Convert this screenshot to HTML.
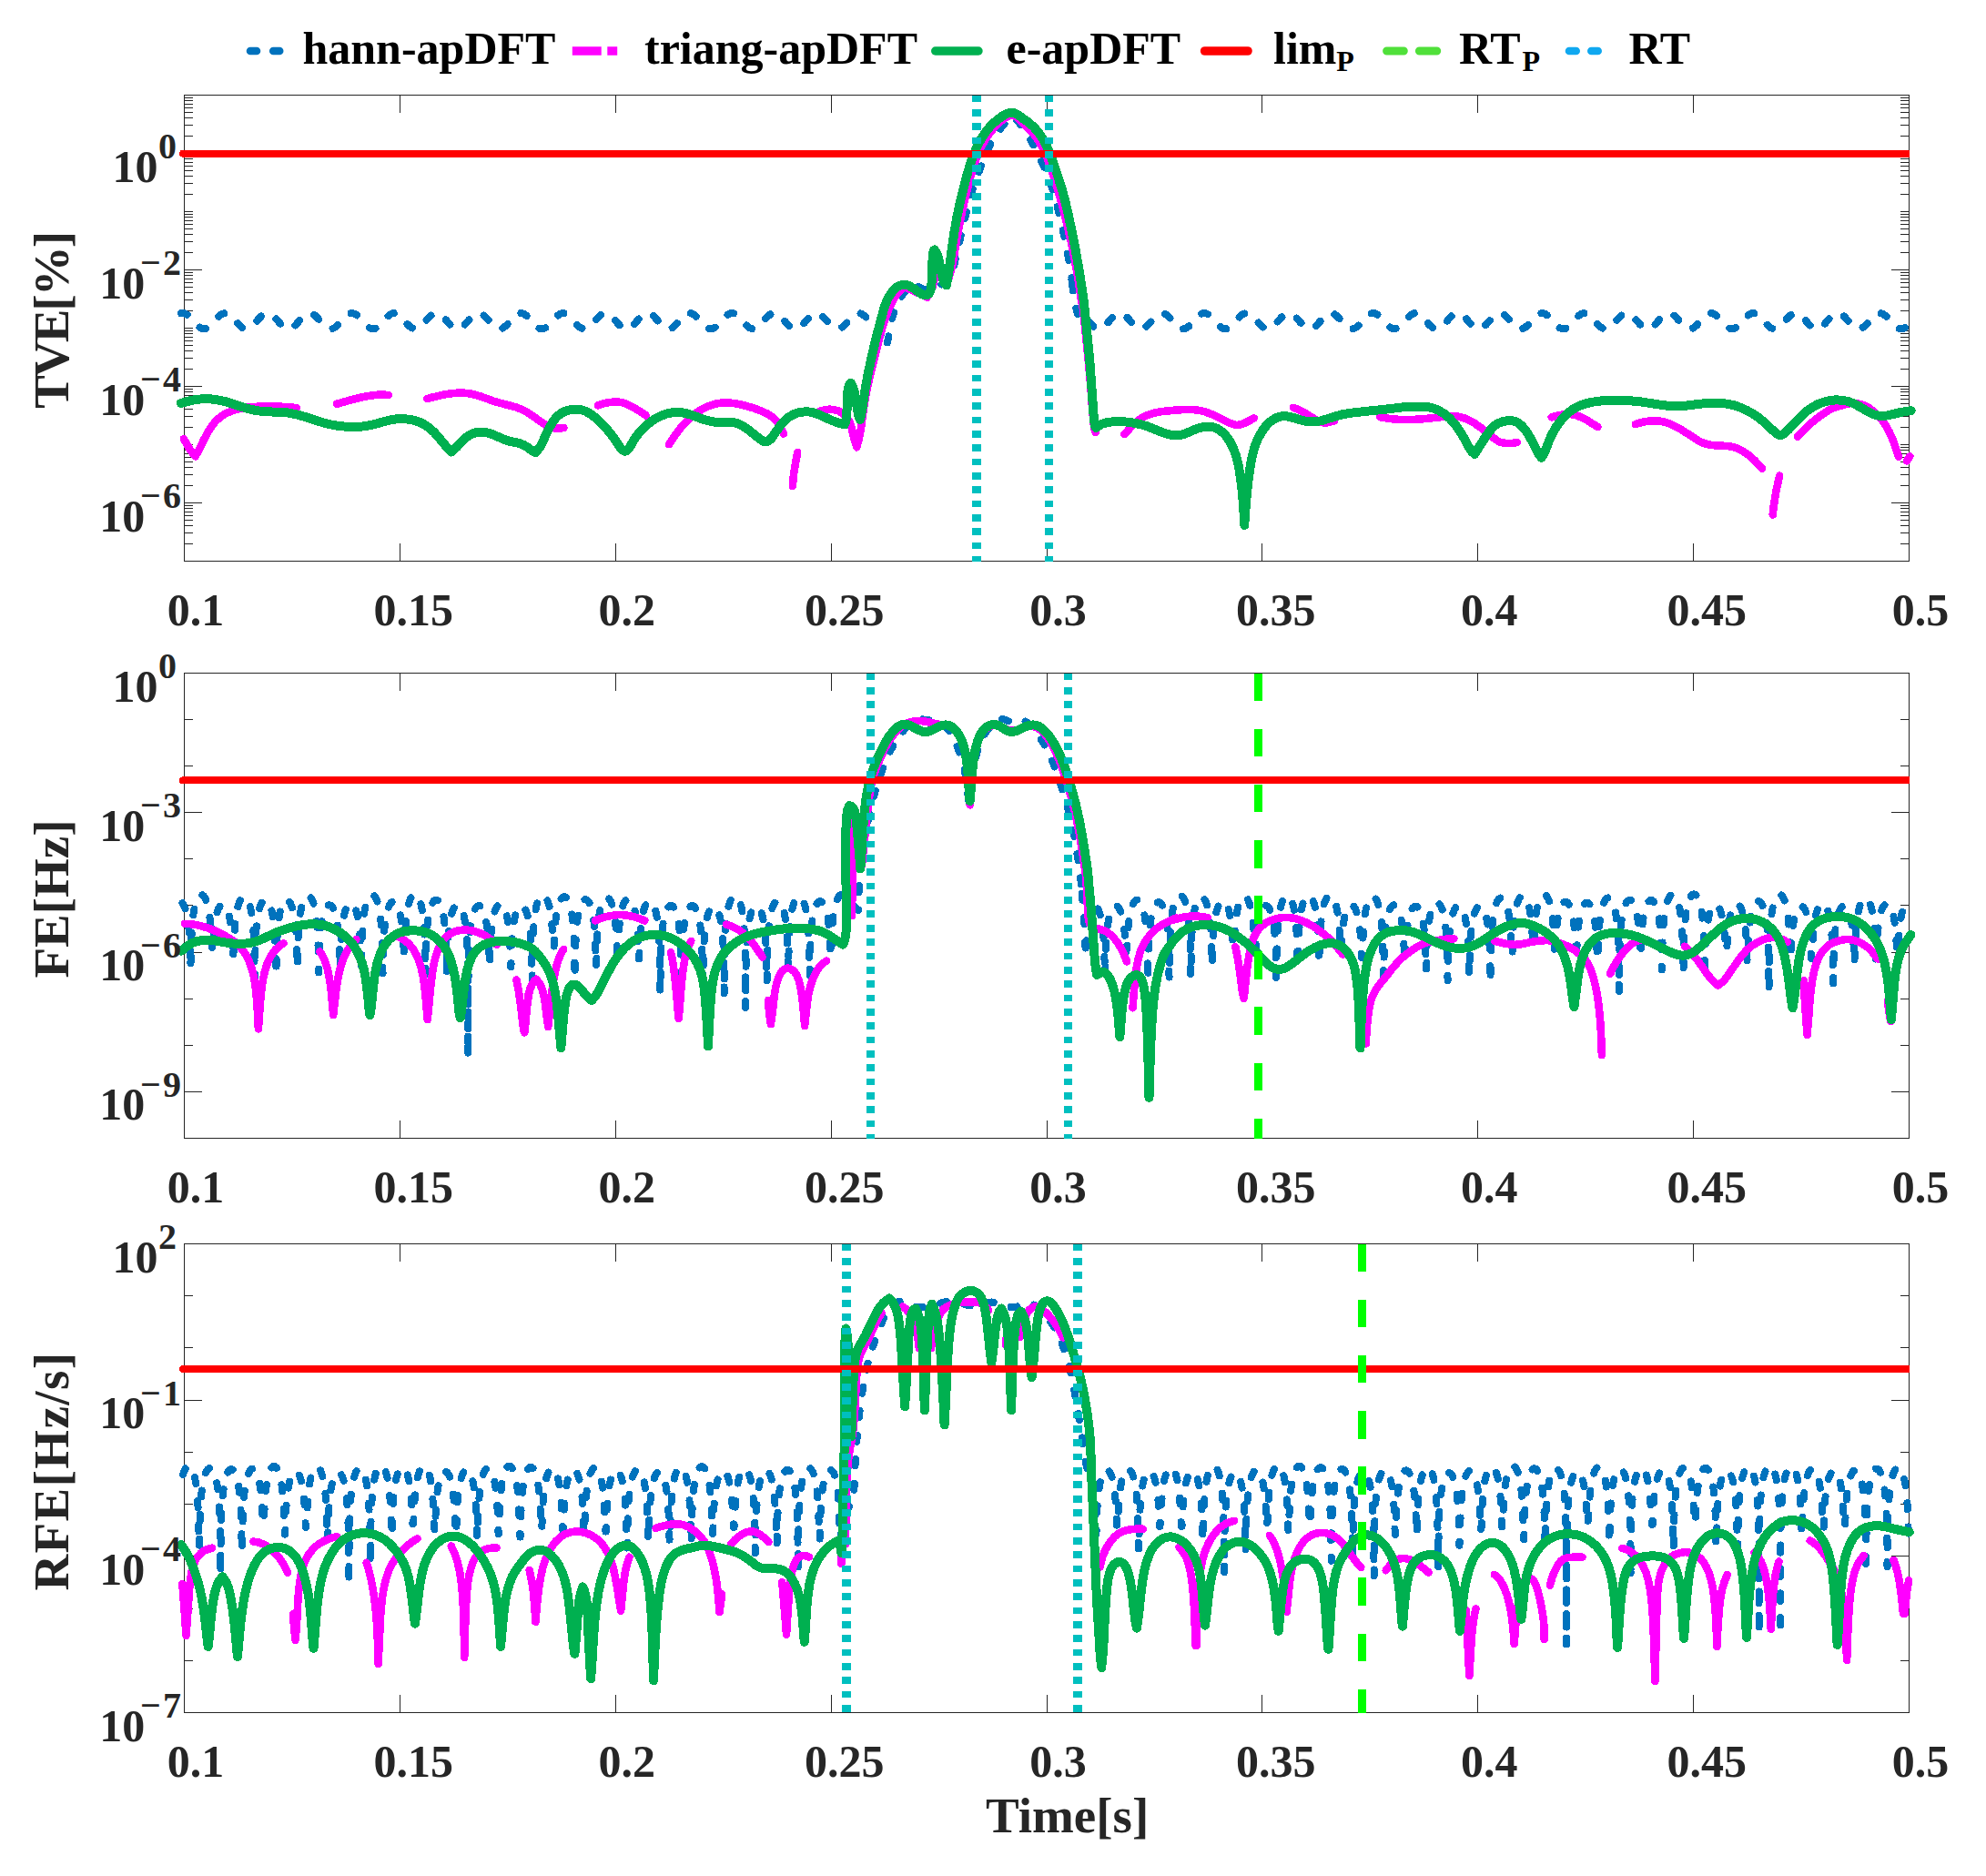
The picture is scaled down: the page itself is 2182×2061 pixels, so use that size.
<!DOCTYPE html><html lang="en"><head><meta charset="utf-8"><title>apDFT comparison</title><style>html,body{margin:0;padding:0;background:#fff}svg{display:block}</style></head><body><svg width="2182" height="2061" viewBox="0 0 2182 2061">
<rect width="2182" height="2061" fill="#fff"/>
<g shape-rendering="crispEdges">
<rect x="202.5" y="104.5" width="1895.0" height="512.0" fill="none" stroke="#262626" stroke-width="1"/>
<path d="M439.5 104.5v19.5M439.5 616.5v-19.5M676.5 104.5v19.5M676.5 616.5v-19.5M913.5 104.5v19.5M913.5 616.5v-19.5M1150.5 104.5v19.5M1150.5 616.5v-19.5M1386.5 104.5v19.5M1386.5 616.5v-19.5M1623.5 104.5v19.5M1623.5 616.5v-19.5M1860.5 104.5v19.5M1860.5 616.5v-19.5M202.5 597.5h9.5M2097.5 597.5h-9.5M202.5 585.5h9.5M2097.5 585.5h-9.5M202.5 577.5h9.5M2097.5 577.5h-9.5M202.5 571.5h9.5M2097.5 571.5h-9.5M202.5 566.5h9.5M2097.5 566.5h-9.5M202.5 562.5h9.5M2097.5 562.5h-9.5M202.5 558.5h9.5M2097.5 558.5h-9.5M202.5 555.5h9.5M2097.5 555.5h-9.5M202.5 552.5h19.5M2097.5 552.5h-19.5M202.5 533.5h9.5M2097.5 533.5h-9.5M202.5 521.5h9.5M2097.5 521.5h-9.5M202.5 513.5h9.5M2097.5 513.5h-9.5M202.5 507.5h9.5M2097.5 507.5h-9.5M202.5 502.5h9.5M2097.5 502.5h-9.5M202.5 498.5h9.5M2097.5 498.5h-9.5M202.5 494.5h9.5M2097.5 494.5h-9.5M202.5 491.5h9.5M2097.5 491.5h-9.5M202.5 488.5h9.5M2097.5 488.5h-9.5M202.5 469.5h9.5M2097.5 469.5h-9.5M202.5 457.5h9.5M2097.5 457.5h-9.5M202.5 449.5h9.5M2097.5 449.5h-9.5M202.5 443.5h9.5M2097.5 443.5h-9.5M202.5 438.5h9.5M2097.5 438.5h-9.5M202.5 434.5h9.5M2097.5 434.5h-9.5M202.5 430.5h9.5M2097.5 430.5h-9.5M202.5 427.5h9.5M2097.5 427.5h-9.5M202.5 424.5h19.5M2097.5 424.5h-19.5M202.5 405.5h9.5M2097.5 405.5h-9.5M202.5 393.5h9.5M2097.5 393.5h-9.5M202.5 385.5h9.5M2097.5 385.5h-9.5M202.5 379.5h9.5M2097.5 379.5h-9.5M202.5 374.5h9.5M2097.5 374.5h-9.5M202.5 370.5h9.5M2097.5 370.5h-9.5M202.5 366.5h9.5M2097.5 366.5h-9.5M202.5 363.5h9.5M2097.5 363.5h-9.5M202.5 360.5h9.5M2097.5 360.5h-9.5M202.5 341.5h9.5M2097.5 341.5h-9.5M202.5 329.5h9.5M2097.5 329.5h-9.5M202.5 321.5h9.5M2097.5 321.5h-9.5M202.5 315.5h9.5M2097.5 315.5h-9.5M202.5 310.5h9.5M2097.5 310.5h-9.5M202.5 306.5h9.5M2097.5 306.5h-9.5M202.5 302.5h9.5M2097.5 302.5h-9.5M202.5 299.5h9.5M2097.5 299.5h-9.5M202.5 296.5h19.5M2097.5 296.5h-19.5M202.5 277.5h9.5M2097.5 277.5h-9.5M202.5 265.5h9.5M2097.5 265.5h-9.5M202.5 257.5h9.5M2097.5 257.5h-9.5M202.5 251.5h9.5M2097.5 251.5h-9.5M202.5 246.5h9.5M2097.5 246.5h-9.5M202.5 242.5h9.5M2097.5 242.5h-9.5M202.5 238.5h9.5M2097.5 238.5h-9.5M202.5 235.5h9.5M2097.5 235.5h-9.5M202.5 232.5h9.5M2097.5 232.5h-9.5M202.5 213.5h9.5M2097.5 213.5h-9.5M202.5 201.5h9.5M2097.5 201.5h-9.5M202.5 193.5h9.5M2097.5 193.5h-9.5M202.5 187.5h9.5M2097.5 187.5h-9.5M202.5 182.5h9.5M2097.5 182.5h-9.5M202.5 178.5h9.5M2097.5 178.5h-9.5M202.5 174.5h9.5M2097.5 174.5h-9.5M202.5 171.5h9.5M2097.5 171.5h-9.5M202.5 168.5h19.5M2097.5 168.5h-19.5M202.5 149.5h9.5M2097.5 149.5h-9.5M202.5 137.5h9.5M2097.5 137.5h-9.5M202.5 129.5h9.5M2097.5 129.5h-9.5M202.5 123.5h9.5M2097.5 123.5h-9.5M202.5 118.5h9.5M2097.5 118.5h-9.5M202.5 114.5h9.5M2097.5 114.5h-9.5M202.5 110.5h9.5M2097.5 110.5h-9.5M202.5 107.5h9.5M2097.5 107.5h-9.5" stroke="#262626" stroke-width="1" fill="none"/>
<path d="M199.0 344.2Q202.0 344.0 203.5 344.6Q205.0 345.2 206.5 346.4Q208.0 347.6 209.5 349.2Q211.0 350.8 212.5 352.6Q214.0 354.4 215.5 356.0Q217.0 357.6 218.5 358.9Q220.0 360.1 221.5 360.8Q223.0 361.4 224.5 361.3Q226.0 361.2 227.5 360.4Q229.0 359.7 230.5 358.4Q232.0 357.0 233.5 355.4Q235.0 353.7 236.5 351.9Q238.0 350.1 239.5 348.6Q241.0 347.0 242.5 345.9Q244.0 344.8 245.5 344.4Q247.0 343.9 248.5 344.1Q250.0 344.4 251.5 345.4Q253.0 346.3 254.5 347.8Q256.0 349.2 257.5 350.9Q259.0 352.7 260.5 354.4Q262.0 356.2 263.5 357.6Q265.0 359.1 266.5 360.1Q268.0 361.0 269.5 361.2Q271.0 361.5 272.5 361.1Q274.0 360.6 275.5 359.5Q277.0 358.4 278.5 356.9Q280.0 355.3 281.5 353.5Q283.0 351.7 284.5 350.0Q286.0 348.4 287.5 347.0Q289.0 345.7 290.5 344.9Q292.0 344.2 293.5 344.1Q295.0 344.0 296.5 344.6Q298.0 345.3 299.5 346.6Q301.0 347.8 302.5 349.4Q304.0 351.0 305.5 352.8Q307.0 354.6 308.5 356.2Q310.0 357.8 311.5 359.0Q313.0 360.2 314.5 360.8Q316.0 361.4 317.5 361.3Q319.0 361.2 320.5 360.4Q322.0 359.6 323.5 358.2Q325.0 356.8 326.5 355.1Q328.0 353.4 329.5 351.6Q331.0 349.9 332.5 348.4Q334.0 346.8 335.5 345.8Q337.0 344.7 338.5 344.3Q340.0 343.9 341.5 344.2Q343.0 344.5 344.5 345.5Q346.0 346.5 347.5 347.9Q349.0 349.4 350.5 351.1Q352.0 352.9 353.5 354.6Q355.0 356.4 356.5 357.9Q358.0 359.3 359.5 360.1Q361.0 361.0 362.5 361.2Q364.0 361.5 365.5 361.0Q367.0 360.5 368.5 359.4Q370.0 358.2 371.5 356.6Q373.0 355.1 374.5 353.3Q376.0 351.5 377.5 349.9Q379.0 348.2 380.5 346.9Q382.0 345.6 383.5 344.9Q385.0 344.1 386.5 344.1Q388.0 344.1 389.5 344.8Q391.0 345.4 392.5 346.7Q394.0 348.0 395.5 349.6Q397.0 351.3 398.5 353.1Q400.0 354.8 401.5 356.4Q403.0 358.0 404.5 359.2Q406.0 360.4 407.5 360.9Q409.0 361.4 410.5 361.2Q412.0 361.1 413.5 360.2Q415.0 359.4 416.5 358.0Q418.0 356.6 419.5 354.9Q421.0 353.2 422.5 351.4Q424.0 349.7 425.5 348.1Q427.0 346.6 428.5 345.6Q430.0 344.6 431.5 344.2Q433.0 343.9 434.5 344.2Q436.0 344.6 437.5 345.6Q439.0 346.6 440.5 348.1Q442.0 349.7 443.5 351.4Q445.0 353.2 446.5 354.9Q448.0 356.6 449.5 358.0Q451.0 359.4 452.5 360.2Q454.0 361.1 455.5 361.2Q457.0 361.4 458.5 360.9Q460.0 360.4 461.5 359.2Q463.0 358.0 464.5 356.4Q466.0 354.8 467.5 353.1Q469.0 351.3 470.5 349.6Q472.0 348.0 473.5 346.7Q475.0 345.4 476.5 344.8Q478.0 344.1 479.5 344.1Q481.0 344.1 482.5 344.9Q484.0 345.6 485.5 346.9Q487.0 348.2 488.5 349.9Q490.0 351.5 491.5 353.3Q493.0 355.1 494.5 356.6Q496.0 358.2 497.5 359.4Q499.0 360.5 500.5 361.0Q502.0 361.5 503.5 361.2Q505.0 361.0 506.5 360.1Q508.0 359.3 509.5 357.9Q511.0 356.4 512.5 354.6Q514.0 352.9 515.5 351.1Q517.0 349.4 518.5 347.9Q520.0 346.5 521.5 345.5Q523.0 344.5 524.5 344.2Q526.0 343.9 527.5 344.3Q529.0 344.7 530.5 345.8Q532.0 346.8 533.5 348.4Q535.0 349.9 536.5 351.6Q538.0 353.4 539.5 355.1Q541.0 356.8 542.5 358.2Q544.0 359.6 545.5 360.4Q547.0 361.2 548.5 361.3Q550.0 361.4 551.5 360.8Q553.0 360.2 554.5 359.0Q556.0 357.8 557.5 356.2Q559.0 354.6 560.5 352.8Q562.0 351.0 563.5 349.4Q565.0 347.8 566.5 346.6Q568.0 345.3 569.5 344.6Q571.0 344.0 572.5 344.1Q574.0 344.2 575.5 344.9Q577.0 345.7 578.5 347.0Q580.0 348.4 581.5 350.0Q583.0 351.7 584.5 353.5Q586.0 355.3 587.5 356.9Q589.0 358.4 590.5 359.5Q592.0 360.6 593.5 361.1Q595.0 361.5 596.5 361.2Q598.0 361.0 599.5 360.1Q601.0 359.1 602.5 357.6Q604.0 356.2 605.5 354.4Q607.0 352.7 608.5 350.9Q610.0 349.2 611.5 347.8Q613.0 346.3 614.5 345.4Q616.0 344.4 617.5 344.1Q619.0 343.9 620.5 344.4Q622.0 344.8 623.5 345.9Q625.0 347.0 626.5 348.6Q628.0 350.1 629.5 351.9Q631.0 353.7 632.5 355.4Q634.0 357.0 635.5 358.4Q637.0 359.7 638.5 360.4Q640.0 361.2 641.5 361.3Q643.0 361.4 644.5 360.8Q646.0 360.1 647.5 358.9Q649.0 357.6 650.5 356.0Q652.0 354.4 653.5 352.6Q655.0 350.8 656.5 349.2Q658.0 347.6 659.5 346.4Q661.0 345.2 662.5 344.6Q664.0 344.0 665.5 344.1Q667.0 344.2 668.5 345.0Q670.0 345.8 671.5 347.2Q673.0 348.6 674.5 350.3Q676.0 352.0 677.5 353.8Q679.0 355.5 680.5 357.1Q682.0 358.6 683.5 359.6Q685.0 360.7 686.5 361.1Q688.0 361.5 689.5 361.2Q691.0 360.9 692.5 359.9Q694.0 358.9 695.5 357.4Q697.0 356.0 698.5 354.2Q700.0 352.5 701.5 350.8Q703.0 349.0 704.5 347.6Q706.0 346.1 707.5 345.2Q709.0 344.4 710.5 344.1Q712.0 343.9 713.5 344.4Q715.0 344.9 716.5 346.0Q718.0 347.2 719.5 348.8Q721.0 350.3 722.5 352.1Q724.0 353.9 725.5 355.5Q727.0 357.2 728.5 358.5Q730.0 359.8 731.5 360.6Q733.0 361.3 734.5 361.3Q736.0 361.3 737.5 360.6Q739.0 360.0 740.5 358.7Q742.0 357.4 743.5 355.8Q745.0 354.1 746.5 352.4Q748.0 350.6 749.5 349.0Q751.0 347.4 752.5 346.2Q754.0 345.0 755.5 344.5Q757.0 344.0 758.5 344.1Q760.0 344.3 761.5 345.1Q763.0 346.0 764.5 347.4Q766.0 348.8 767.5 350.5Q769.0 352.2 770.5 353.9Q772.0 355.7 773.5 357.2Q775.0 358.8 776.5 359.8Q778.0 360.8 779.5 361.1Q781.0 361.5 782.5 361.1Q784.0 360.8 785.5 359.8Q787.0 358.8 788.5 357.2Q790.0 355.7 791.5 353.9Q793.0 352.2 794.5 350.5Q796.0 348.8 797.5 347.4Q799.0 346.0 800.5 345.1Q802.0 344.3 803.5 344.1Q805.0 344.0 806.5 344.5Q808.0 345.0 809.5 346.2Q811.0 347.4 812.5 349.0Q814.0 350.6 815.5 352.4Q817.0 354.1 818.5 355.8Q820.0 357.4 821.5 358.7Q823.0 360.0 824.5 360.6Q826.0 361.3 827.5 361.3Q829.0 361.3 830.5 360.6Q832.0 359.8 833.5 358.5Q835.0 357.2 836.5 355.5Q838.0 353.9 839.5 352.1Q841.0 350.3 842.5 348.8Q844.0 347.2 845.5 346.0Q847.0 344.9 848.5 344.4Q850.0 343.9 851.5 344.1Q853.0 344.4 854.5 345.2Q856.0 346.1 857.5 347.6Q859.0 349.0 860.5 350.8Q862.0 352.5 863.5 354.2Q865.0 356.0 866.5 357.4Q868.0 358.9 869.5 359.9Q871.0 360.9 872.5 361.2Q874.0 361.5 875.5 361.1Q877.0 360.7 878.5 359.6Q880.0 358.6 881.5 357.1Q883.0 355.5 884.5 353.8Q886.0 352.0 887.5 350.3Q889.0 348.6 890.5 347.2Q892.0 345.8 893.5 345.0Q895.0 344.2 896.5 344.1Q898.0 344.0 899.5 344.6Q901.0 345.2 902.5 346.4Q904.0 347.6 905.5 349.2Q907.0 350.8 908.5 352.6Q910.0 354.4 911.5 356.0Q913.0 357.6 914.5 358.9Q916.0 360.1 917.5 360.8Q919.0 361.4 920.5 361.3Q922.0 361.2 923.5 360.4Q925.0 359.7 926.5 358.4Q928.0 357.0 929.5 355.4Q931.0 353.7 932.5 351.9Q934.0 350.1 935.5 348.6Q937.0 347.0 938.5 345.9Q940.0 344.8 941.5 344.4Q943.0 343.9 944.5 344.1Q946.0 344.4 947.5 345.4Q949.0 346.3 950.5 347.8Q952.0 349.2 955.8 349.8Q959.5 350.4 963.2 356.6Q967.0 362.9 970.1 371.8L973.3 380.6Q975.8 375.5 977.0 364.8Q978.3 354.1 982.1 343.4Q985.9 332.7 990.3 325.8Q994.7 318.9 999.8 315.1L1004.8 311.3Q1014.6 320.6 1022.7 317.6Q1030.7 314.5 1037.8 310.5Q1044.8 306.5 1047.8 293.4Q1050.8 280.3 1053.8 267.2Q1056.9 254.1 1059.9 241.0Q1062.9 227.9 1066.0 216.9Q1069.0 205.8 1074.0 192.7Q1079.0 179.6 1084.0 167.5Q1089.1 155.4 1095.2 146.9Q1101.2 138.3 1106.8 132.8L1112.3 127.2Q1123.4 138.3 1127.4 144.9Q1131.4 151.4 1137.5 163.5Q1143.5 175.6 1148.0 185.6Q1152.6 195.7 1156.6 208.8Q1160.6 221.9 1163.7 235.0Q1166.7 248.1 1169.2 260.1Q1171.7 272.2 1174.2 285.3Q1176.7 298.4 1178.2 310.5L1179.7 322.6L1176.4 300.0Q1179.6 325.2 1181.8 336.5Q1183.9 347.8 1188.3 352.2L1192.7 356.6L1196.0 353.3Q1199.0 356.7 1200.5 358.1Q1202.0 359.5 1203.5 360.3Q1205.0 361.1 1206.5 361.2Q1208.0 361.4 1209.5 360.9Q1211.0 360.3 1212.5 359.1Q1214.0 357.9 1215.5 356.3Q1217.0 354.7 1218.5 352.9Q1220.0 351.2 1221.5 349.5Q1223.0 347.9 1224.5 346.6Q1226.0 345.4 1227.5 344.7Q1229.0 344.0 1230.5 344.1Q1232.0 344.1 1233.5 344.9Q1235.0 345.6 1236.5 347.0Q1238.0 348.3 1239.5 350.0Q1241.0 351.6 1242.5 353.4Q1244.0 355.2 1245.5 356.8Q1247.0 358.3 1248.5 359.4Q1250.0 360.5 1251.5 361.0Q1253.0 361.5 1254.5 361.2Q1256.0 361.0 1257.5 360.1Q1259.0 359.2 1260.5 357.8Q1262.0 356.3 1263.5 354.6Q1265.0 352.8 1266.5 351.1Q1268.0 349.3 1269.5 347.9Q1271.0 346.4 1272.5 345.4Q1274.0 344.5 1275.5 344.2Q1277.0 343.9 1278.5 344.4Q1280.0 344.8 1281.5 345.9Q1283.0 346.9 1284.5 348.4Q1286.0 350.0 1287.5 351.8Q1289.0 353.5 1290.5 355.2Q1292.0 356.9 1293.5 358.2Q1295.0 359.6 1296.5 360.4Q1298.0 361.2 1299.5 361.3Q1301.0 361.4 1302.5 360.8Q1304.0 360.2 1305.5 358.9Q1307.0 357.7 1308.5 356.1Q1310.0 354.5 1311.5 352.7Q1313.0 350.9 1314.5 349.3Q1316.0 347.7 1317.5 346.4Q1319.0 345.2 1320.5 344.6Q1322.0 344.0 1323.5 344.1Q1325.0 344.2 1326.5 345.0Q1328.0 345.8 1329.5 347.1Q1331.0 348.5 1332.5 350.2Q1334.0 351.9 1335.5 353.6Q1337.0 355.4 1338.5 356.9Q1340.0 358.5 1341.5 359.6Q1343.0 360.6 1344.5 361.1Q1346.0 361.5 1347.5 361.2Q1349.0 360.9 1350.5 359.9Q1352.0 359.0 1353.5 357.6Q1355.0 356.1 1356.5 354.4Q1358.0 352.6 1359.5 350.9Q1361.0 349.1 1362.5 347.6Q1364.0 346.2 1365.5 345.3Q1367.0 344.4 1368.5 344.1Q1370.0 343.9 1371.5 344.4Q1373.0 344.9 1374.5 346.0Q1376.0 347.1 1377.5 348.6Q1379.0 350.2 1380.5 352.0Q1382.0 353.8 1383.5 355.5Q1385.0 357.1 1386.5 358.5Q1388.0 359.8 1389.5 360.6Q1391.0 361.3 1392.5 361.4Q1394.0 361.4 1395.5 360.7Q1397.0 360.0 1398.5 358.8Q1400.0 357.5 1401.5 355.9Q1403.0 354.2 1404.5 352.4Q1406.0 350.7 1407.5 349.1Q1409.0 347.5 1410.5 346.3Q1412.0 345.1 1413.5 344.6Q1415.0 344.0 1416.5 344.1Q1418.0 344.3 1419.5 345.1Q1421.0 345.9 1422.5 347.3Q1424.0 348.7 1425.5 350.4Q1427.0 352.1 1428.5 353.9Q1430.0 355.6 1431.5 357.1Q1433.0 358.7 1434.5 359.7Q1436.0 360.7 1437.5 361.1Q1439.0 361.5 1440.5 361.1Q1442.0 360.8 1443.5 359.8Q1445.0 358.8 1446.5 357.3Q1448.0 355.8 1449.5 354.1Q1451.0 352.3 1452.5 350.6Q1454.0 348.9 1455.5 347.5Q1457.0 346.1 1458.5 345.2Q1460.0 344.3 1461.5 344.1Q1463.0 343.9 1464.5 344.4Q1466.0 345.0 1467.5 346.1Q1469.0 347.3 1470.5 348.9Q1472.0 350.5 1473.5 352.2Q1475.0 354.0 1476.5 355.6Q1478.0 357.3 1479.5 358.6Q1481.0 359.9 1482.5 360.6Q1484.0 361.3 1485.5 361.3Q1487.0 361.3 1488.5 360.6Q1490.0 359.9 1491.5 358.6Q1493.0 357.3 1494.5 355.6Q1496.0 354.0 1497.5 352.2Q1499.0 350.5 1500.5 348.9Q1502.0 347.3 1503.5 346.1Q1505.0 345.0 1506.5 344.4Q1508.0 343.9 1509.5 344.1Q1511.0 344.3 1512.5 345.2Q1514.0 346.1 1515.5 347.5Q1517.0 348.9 1518.5 350.6Q1520.0 352.3 1521.5 354.1Q1523.0 355.8 1524.5 357.3Q1526.0 358.8 1527.5 359.8Q1529.0 360.8 1530.5 361.1Q1532.0 361.5 1533.5 361.1Q1535.0 360.7 1536.5 359.7Q1538.0 358.7 1539.5 357.1Q1541.0 355.6 1542.5 353.9Q1544.0 352.1 1545.5 350.4Q1547.0 348.7 1548.5 347.3Q1550.0 345.9 1551.5 345.1Q1553.0 344.3 1554.5 344.1Q1556.0 344.0 1557.5 344.6Q1559.0 345.1 1560.5 346.3Q1562.0 347.5 1563.5 349.1Q1565.0 350.7 1566.5 352.4Q1568.0 354.2 1569.5 355.9Q1571.0 357.5 1572.5 358.8Q1574.0 360.0 1575.5 360.7Q1577.0 361.4 1578.5 361.4Q1580.0 361.3 1581.5 360.6Q1583.0 359.8 1584.5 358.5Q1586.0 357.1 1587.5 355.5Q1589.0 353.8 1590.5 352.0Q1592.0 350.2 1593.5 348.6Q1595.0 347.1 1596.5 346.0Q1598.0 344.9 1599.5 344.4Q1601.0 343.9 1602.5 344.1Q1604.0 344.4 1605.5 345.3Q1607.0 346.2 1608.5 347.6Q1610.0 349.1 1611.5 350.9Q1613.0 352.6 1614.5 354.4Q1616.0 356.1 1617.5 357.6Q1619.0 359.0 1620.5 359.9Q1622.0 360.9 1623.5 361.2Q1625.0 361.5 1626.5 361.1Q1628.0 360.6 1629.5 359.6Q1631.0 358.5 1632.5 356.9Q1634.0 355.4 1635.5 353.6Q1637.0 351.9 1638.5 350.2Q1640.0 348.5 1641.5 347.1Q1643.0 345.8 1644.5 345.0Q1646.0 344.2 1647.5 344.1Q1649.0 344.0 1650.5 344.6Q1652.0 345.2 1653.5 346.4Q1655.0 347.7 1656.5 349.3Q1658.0 350.9 1659.5 352.7Q1661.0 354.5 1662.5 356.1Q1664.0 357.7 1665.5 358.9Q1667.0 360.2 1668.5 360.8Q1670.0 361.4 1671.5 361.3Q1673.0 361.2 1674.5 360.4Q1676.0 359.6 1677.5 358.2Q1679.0 356.9 1680.5 355.2Q1682.0 353.5 1683.5 351.8Q1685.0 350.0 1686.5 348.4Q1688.0 346.9 1689.5 345.9Q1691.0 344.8 1692.5 344.4Q1694.0 343.9 1695.5 344.2Q1697.0 344.5 1698.5 345.4Q1700.0 346.4 1701.5 347.9Q1703.0 349.3 1704.5 351.1Q1706.0 352.8 1707.5 354.6Q1709.0 356.3 1710.5 357.8Q1712.0 359.2 1713.5 360.1Q1715.0 361.0 1716.5 361.2Q1718.0 361.5 1719.5 361.0Q1721.0 360.5 1722.5 359.4Q1724.0 358.3 1725.5 356.8Q1727.0 355.2 1728.5 353.4Q1730.0 351.6 1731.5 350.0Q1733.0 348.3 1734.5 347.0Q1736.0 345.6 1737.5 344.9Q1739.0 344.1 1740.5 344.1Q1742.0 344.0 1743.5 344.7Q1745.0 345.4 1746.5 346.6Q1748.0 347.9 1749.5 349.5Q1751.0 351.2 1752.5 352.9Q1754.0 354.7 1755.5 356.3Q1757.0 357.9 1758.5 359.1Q1760.0 360.3 1761.5 360.9Q1763.0 361.4 1764.5 361.2Q1766.0 361.1 1767.5 360.3Q1769.0 359.5 1770.5 358.1Q1772.0 356.7 1773.5 355.0Q1775.0 353.3 1776.5 351.6Q1778.0 349.8 1779.5 348.2Q1781.0 346.7 1782.5 345.7Q1784.0 344.7 1785.5 344.3Q1787.0 343.9 1788.5 344.2Q1790.0 344.6 1791.5 345.6Q1793.0 346.6 1794.5 348.1Q1796.0 349.6 1797.5 351.4Q1799.0 353.1 1800.5 354.8Q1802.0 356.5 1803.5 357.9Q1805.0 359.3 1806.5 360.2Q1808.0 361.1 1809.5 361.3Q1811.0 361.5 1812.5 360.9Q1814.0 360.4 1815.5 359.2Q1817.0 358.1 1818.5 356.5Q1820.0 354.9 1821.5 353.1Q1823.0 351.4 1824.5 349.8Q1826.0 348.1 1827.5 346.8Q1829.0 345.5 1830.5 344.8Q1832.0 344.1 1833.5 344.1Q1835.0 344.1 1836.5 344.8Q1838.0 345.5 1839.5 346.8Q1841.0 348.1 1842.5 349.8Q1844.0 351.4 1845.5 353.1Q1847.0 354.9 1848.5 356.5Q1850.0 358.1 1851.5 359.2Q1853.0 360.4 1854.5 360.9Q1856.0 361.5 1857.5 361.3Q1859.0 361.1 1860.5 360.2Q1862.0 359.3 1863.5 357.9Q1865.0 356.5 1866.5 354.8Q1868.0 353.1 1869.5 351.4Q1871.0 349.6 1872.5 348.1Q1874.0 346.6 1875.5 345.6Q1877.0 344.6 1878.5 344.2Q1880.0 343.9 1881.5 344.3Q1883.0 344.7 1884.5 345.7Q1886.0 346.7 1887.5 348.2Q1889.0 349.8 1890.5 351.6Q1892.0 353.3 1893.5 355.0Q1895.0 356.7 1896.5 358.1Q1898.0 359.5 1899.5 360.3Q1901.0 361.1 1902.5 361.2Q1904.0 361.4 1905.5 360.9Q1907.0 360.3 1908.5 359.1Q1910.0 357.9 1911.5 356.3Q1913.0 354.7 1914.5 352.9Q1916.0 351.2 1917.5 349.5Q1919.0 347.9 1920.5 346.6Q1922.0 345.4 1923.5 344.7Q1925.0 344.0 1926.5 344.1Q1928.0 344.1 1929.5 344.9Q1931.0 345.6 1932.5 347.0Q1934.0 348.3 1935.5 350.0Q1937.0 351.6 1938.5 353.4Q1940.0 355.2 1941.5 356.8Q1943.0 358.3 1944.5 359.4Q1946.0 360.5 1947.5 361.0Q1949.0 361.5 1950.5 361.2Q1952.0 361.0 1953.5 360.1Q1955.0 359.2 1956.5 357.8Q1958.0 356.3 1959.5 354.6Q1961.0 352.8 1962.5 351.1Q1964.0 349.3 1965.5 347.9Q1967.0 346.4 1968.5 345.4Q1970.0 344.5 1971.5 344.2Q1973.0 343.9 1974.5 344.4Q1976.0 344.8 1977.5 345.9Q1979.0 346.9 1980.5 348.4Q1982.0 350.0 1983.5 351.8Q1985.0 353.5 1986.5 355.2Q1988.0 356.9 1989.5 358.2Q1991.0 359.6 1992.5 360.4Q1994.0 361.2 1995.5 361.3Q1997.0 361.4 1998.5 360.8Q2000.0 360.2 2001.5 358.9Q2003.0 357.7 2004.5 356.1Q2006.0 354.5 2007.5 352.7Q2009.0 350.9 2010.5 349.3Q2012.0 347.7 2013.5 346.4Q2015.0 345.2 2016.5 344.6Q2018.0 344.0 2019.5 344.1Q2021.0 344.2 2022.5 345.0Q2024.0 345.8 2025.5 347.1Q2027.0 348.5 2028.5 350.2Q2030.0 351.9 2031.5 353.6Q2033.0 355.4 2034.5 356.9Q2036.0 358.5 2037.5 359.6Q2039.0 360.6 2040.5 361.1Q2042.0 361.5 2043.5 361.2Q2045.0 360.9 2046.5 359.9Q2048.0 359.0 2049.5 357.6Q2051.0 356.1 2052.5 354.4Q2054.0 352.6 2055.5 350.9Q2057.0 349.1 2058.5 347.6Q2060.0 346.2 2061.5 345.3Q2063.0 344.4 2064.5 344.1Q2066.0 343.9 2067.5 344.4Q2069.0 344.9 2070.5 346.0Q2072.0 347.1 2073.5 348.6Q2075.0 350.2 2076.5 352.0Q2078.0 353.8 2079.5 355.5Q2081.0 357.1 2082.5 358.5Q2084.0 359.8 2085.5 360.6Q2087.0 361.3 2088.5 361.4Q2090.0 361.4 2091.5 360.7Q2093.0 360.0 2096.0 357.5L2096.0 357.5" fill="none" stroke="#0072BD" stroke-width="8" stroke-linecap="round" stroke-linejoin="round" stroke-dasharray="7 19.5"/>
<path d="M201.9 482.1Q207.6 492.6 211.1 497.0L214.7 501.4Q220.2 491.3 224.0 483.1Q227.8 475.0 232.2 468.7Q236.6 462.4 242.2 458.0Q247.9 453.6 255.4 451.1Q263.0 448.5 270.6 447.6Q278.1 446.8 286.9 446.6Q295.7 446.5 304.5 446.6Q313.4 446.8 325.9 448.1L325.9 448.1" fill="none" stroke="#FF00FF" stroke-width="8.6" stroke-linecap="round" stroke-linejoin="round"/>
<path d="M369.9 443.8Q381.3 440.5 388.9 438.5Q396.4 436.5 404.0 435.2Q411.6 433.9 416.6 433.6Q421.6 433.4 426.6 434.1L426.6 434.1" fill="none" stroke="#FF00FF" stroke-width="8.6" stroke-linecap="round" stroke-linejoin="round"/>
<path d="M469.4 438.0Q479.5 435.4 485.8 434.0Q492.1 432.7 498.4 432.0Q504.7 431.4 511.0 431.8Q517.3 432.2 523.6 434.1Q529.9 436.0 536.2 438.5Q542.5 441.0 548.8 442.6Q555.1 444.3 561.4 445.8Q567.6 447.3 573.9 450.2Q580.2 453.1 586.5 457.8Q592.8 462.4 597.8 465.8Q602.9 469.2 608.0 470.2Q613.0 471.2 619.3 469.9L619.3 469.9" fill="none" stroke="#FF00FF" stroke-width="8.6" stroke-linecap="round" stroke-linejoin="round"/>
<path d="M656.8 445.3Q663.3 443.0 668.3 442.2Q673.4 441.5 678.5 441.6Q683.5 441.7 686.8 443.2Q690.1 444.8 695.1 447.3Q700.1 449.8 709.6 456.4L709.6 456.4" fill="none" stroke="#FF00FF" stroke-width="8.6" stroke-linecap="round" stroke-linejoin="round"/>
<path d="M735.0 488.1Q742.9 476.2 748.0 469.9Q753.0 463.6 759.3 458.0Q765.6 452.3 773.2 448.6Q780.7 444.8 787.0 443.5Q793.3 442.2 799.6 442.4Q805.9 442.7 813.5 444.4Q821.0 446.0 828.5 448.6Q836.1 451.1 842.4 454.2Q848.7 457.4 852.5 461.8Q856.2 466.2 860.9 476.5L860.9 476.5" fill="none" stroke="#FF00FF" stroke-width="8.6" stroke-linecap="round" stroke-linejoin="round"/>
<path d="M870.9 534.1Q871.8 521.6 873.1 514.0Q874.4 506.4 876.2 497.1L876.2 497.1" fill="none" stroke="#FF00FF" stroke-width="8.6" stroke-linecap="round" stroke-linejoin="round"/>
<path d="M897.2 454.0Q901.6 451.1 906.6 450.2Q911.6 449.3 916.7 450.2Q921.7 451.1 924.9 453.6Q928.0 456.1 931.1 459.9Q934.3 463.6 936.2 472.5Q938.1 481.3 939.7 486.3L941.3 491.3Q944.4 481.3 945.6 472.5Q946.9 463.6 948.8 449.8Q950.6 436.0 953.8 422.1Q956.9 408.3 960.7 393.1Q964.5 378.0 968.2 364.2Q972.0 350.4 976.5 339.7Q980.9 329.0 985.3 323.3Q989.7 317.6 993.5 315.7L997.2 313.8L996.5 316.6Q1006.5 320.6 1012.5 323.6L1018.6 326.6Q1026.7 316.6 1027.2 299.5L1027.7 282.3Q1034.7 296.4 1037.2 304.9L1039.8 313.5Q1045.8 296.4 1048.0 282.3Q1050.2 268.2 1052.8 254.1Q1055.3 240.0 1058.3 226.9Q1061.3 213.8 1064.3 201.8Q1067.4 189.7 1070.4 180.6Q1073.4 171.5 1076.4 164.9Q1079.4 158.4 1083.5 152.1Q1087.5 145.8 1091.3 141.4Q1095.2 136.9 1099.4 133.4Q1103.6 130.0 1107.9 127.6Q1112.3 125.2 1116.1 128.2Q1119.9 131.3 1124.1 135.3Q1128.2 139.3 1132.1 143.4Q1136.0 147.4 1139.0 151.9Q1142.1 156.4 1144.9 161.4Q1147.7 166.5 1150.8 174.6Q1153.8 182.6 1156.8 191.6Q1159.8 200.7 1162.8 210.8Q1165.9 220.9 1168.7 231.9Q1171.5 243.0 1174.3 254.8Q1177.1 266.6 1179.2 277.5Q1181.4 288.4 1183.4 300.4Q1185.4 312.5 1186.9 322.6Q1188.4 332.7 1189.2 335.2Q1190.0 337.8 1191.8 356.6Q1193.7 375.5 1195.6 394.4Q1197.5 413.3 1198.9 432.2Q1200.3 451.1 1201.3 462.4Q1202.3 473.7 1203.8 475.0L1203.8 475.0" fill="none" stroke="#FF00FF" stroke-width="8.6" stroke-linecap="round" stroke-linejoin="round"/>
<path d="M1235.5 477.1Q1240.6 471.2 1245.6 466.1Q1250.6 461.1 1255.7 458.4Q1260.7 455.6 1267.0 454.0Q1273.3 452.3 1282.1 451.5Q1290.9 450.6 1298.5 450.2Q1306.0 449.8 1312.3 450.2Q1318.6 450.6 1324.9 452.7Q1331.2 454.8 1337.5 458.0Q1343.8 461.1 1348.8 463.6Q1353.9 466.2 1357.7 466.8Q1361.4 467.4 1366.5 465.2Q1371.5 463.1 1377.7 459.4L1377.7 459.4" fill="none" stroke="#FF00FF" stroke-width="8.6" stroke-linecap="round" stroke-linejoin="round"/>
<path d="M1420.9 447.9Q1426.9 449.8 1431.9 452.7Q1436.9 455.6 1442.0 459.0Q1447.0 462.4 1450.8 463.6Q1454.6 464.9 1458.3 464.2Q1462.1 463.6 1466.1 462.3L1466.1 462.3" fill="none" stroke="#FF00FF" stroke-width="8.6" stroke-linecap="round" stroke-linejoin="round"/>
<path d="M1516.2 458.1Q1525.1 459.9 1531.3 460.5Q1537.6 461.1 1545.2 461.1Q1552.7 461.1 1560.3 460.5Q1567.9 459.9 1575.5 459.0Q1583.0 458.1 1589.2 457.4Q1595.5 456.6 1601.8 457.6Q1608.1 458.6 1614.4 461.8Q1620.7 464.9 1627.0 469.9Q1633.3 475.0 1639.6 480.0Q1645.9 485.0 1648.1 485.6Q1650.2 486.3 1655.2 487.0Q1660.3 487.6 1666.7 485.9L1666.7 485.9" fill="none" stroke="#FF00FF" stroke-width="8.6" stroke-linecap="round" stroke-linejoin="round"/>
<path d="M1704.7 458.3Q1710.6 456.6 1715.7 455.7Q1720.7 454.8 1725.8 455.2Q1730.8 455.6 1735.8 457.8Q1740.8 459.9 1745.8 463.0Q1750.9 466.2 1755.3 469.1L1755.3 469.1" fill="none" stroke="#FF00FF" stroke-width="8.6" stroke-linecap="round" stroke-linejoin="round"/>
<path d="M1796.8 466.1Q1803.8 463.6 1810.1 462.8Q1816.4 461.9 1822.7 462.5Q1829.0 463.1 1835.3 465.9Q1841.6 468.7 1847.8 472.4Q1854.1 476.2 1860.4 480.6Q1866.7 485.0 1871.8 486.9Q1876.8 488.8 1883.1 489.2Q1889.4 489.6 1895.7 489.9Q1902.0 490.1 1907.0 492.0Q1912.0 493.9 1917.0 497.0Q1922.1 500.2 1927.2 505.2Q1932.2 510.2 1936.1 514.9L1936.1 514.9" fill="none" stroke="#FF00FF" stroke-width="8.6" stroke-linecap="round" stroke-linejoin="round"/>
<path d="M1947.7 565.6Q1948.5 556.8 1950.2 546.8Q1951.8 536.7 1955.2 522.7L1955.2 522.7" fill="none" stroke="#FF00FF" stroke-width="8.6" stroke-linecap="round" stroke-linejoin="round"/>
<path d="M1975.0 479.7Q1982.5 471.2 1987.5 466.8Q1992.6 462.4 1997.7 458.6Q2002.7 454.8 2007.7 451.6Q2012.7 448.5 2017.8 447.0Q2022.8 445.5 2029.1 443.9Q2035.4 442.2 2041.7 443.5Q2048.0 444.8 2053.1 448.0Q2058.1 451.1 2063.1 456.1Q2068.1 461.1 2071.9 467.4Q2075.7 473.7 2078.8 481.2Q2082.0 488.8 2085.9 501.6L2085.9 501.6" fill="none" stroke="#FF00FF" stroke-width="8.6" stroke-linecap="round" stroke-linejoin="round"/>
<path d="M2095.1 506.4 L2098.3 501.4" fill="none" stroke="#FF00FF" stroke-width="8.6" stroke-linecap="round" stroke-linejoin="round"/>
<path d="M198.8 443.0Q210.1 439.7 216.4 438.9Q222.7 438.0 229.0 438.2Q235.3 438.5 241.6 439.8Q247.9 441.0 254.2 443.2Q260.5 445.5 266.8 447.4Q273.1 449.3 279.4 450.6Q285.7 451.8 292.0 452.2Q298.3 452.6 304.6 452.6Q310.8 452.6 317.1 453.6Q323.4 454.6 329.7 456.4Q336.0 458.1 342.3 460.2Q348.6 462.4 354.9 464.3Q361.2 466.2 367.5 467.2Q373.8 468.2 380.1 468.7Q386.4 469.2 392.7 468.9Q399.0 468.7 405.3 467.4Q411.6 466.2 417.9 464.3Q424.1 462.4 430.4 461.1Q436.7 459.9 443.0 460.1Q449.3 460.4 455.6 462.0Q461.9 463.6 466.9 466.8Q472.0 469.9 477.0 474.9Q482.0 480.0 485.8 485.1Q489.6 490.1 492.8 493.2L495.9 496.4Q502.2 491.3 505.9 486.9Q509.7 482.5 513.5 479.6Q517.3 476.7 522.3 475.4Q527.4 474.2 532.4 474.9Q537.4 475.5 542.5 477.8Q547.5 480.0 552.5 482.2Q557.6 484.5 562.6 485.4Q567.6 486.3 571.4 487.3Q575.2 488.3 579.0 491.1Q582.7 493.9 585.5 495.5L588.3 497.1Q594.1 491.3 597.0 483.9Q600.0 476.4 602.5 471.9Q605.0 467.3 607.5 463.3Q610.1 459.3 613.6 456.2Q617.1 453.2 621.2 451.7Q625.2 450.2 629.7 449.7Q634.2 449.2 638.8 450.2Q643.3 451.2 647.8 454.2Q652.4 457.3 656.4 460.8Q660.4 464.3 664.5 468.9Q668.5 473.4 672.0 477.9Q675.5 482.4 678.0 486.4Q680.6 490.5 682.6 493.0Q684.6 495.5 686.1 495.8Q687.6 496.0 689.1 494.8Q690.6 493.5 693.2 489.0Q695.7 484.5 699.2 479.4Q702.7 474.4 706.8 470.4Q710.8 466.3 715.8 462.8Q720.8 459.3 725.8 457.0Q730.9 454.7 736.0 453.7Q741.0 452.7 746.0 452.9Q751.1 453.2 756.1 454.8Q761.1 456.3 766.2 458.3Q771.2 460.3 776.2 461.8Q781.3 463.3 786.3 463.8Q791.3 464.3 798.6 464.0Q805.9 463.6 811.0 465.5Q816.0 467.4 821.0 471.2Q826.0 475.0 830.4 478.8Q834.8 482.5 838.0 484.4Q841.1 486.3 844.2 484.4Q847.4 482.5 850.5 477.5Q853.7 472.5 857.5 467.4Q861.3 462.4 866.3 458.6Q871.3 454.8 876.3 453.6Q881.4 452.3 886.5 452.3Q891.5 452.3 896.5 454.2Q901.6 456.1 906.6 458.6Q911.6 461.1 916.7 463.0Q921.7 464.9 924.9 465.5L928.0 466.2Q930.5 461.1 930.5 451.1Q930.5 441.0 931.1 432.8Q931.8 424.6 933.3 422.7L934.8 420.8Q938.1 425.9 939.4 433.4Q940.6 441.0 941.9 448.6Q943.1 456.1 944.0 458.6L944.9 461.1Q947.4 451.1 949.0 438.5Q950.6 425.9 953.2 413.3Q955.7 400.7 958.9 386.9Q962.0 373.0 965.8 359.1Q969.5 345.3 970.9 340.0Q972.3 334.7 975.3 328.6Q978.3 322.6 981.3 319.1Q984.4 315.5 988.4 313.8Q992.4 312.1 995.5 312.8Q998.5 313.5 1002.5 316.1Q1006.5 318.6 1009.5 321.1Q1012.6 323.6 1015.6 324.1Q1018.6 324.6 1020.9 322.6Q1023.1 320.6 1023.7 308.5Q1024.3 296.4 1024.5 286.4Q1024.7 276.3 1025.7 275.3L1026.7 274.3Q1030.7 280.3 1032.2 288.4Q1033.7 296.4 1035.2 303.4Q1036.7 310.5 1038.2 312.0L1039.8 313.5Q1042.4 300.4 1044.1 286.3Q1045.8 272.2 1048.3 256.1Q1050.8 240.0 1053.8 226.9Q1056.9 213.8 1059.9 201.8Q1062.9 189.7 1066.0 180.6Q1069.0 171.5 1072.0 164.4Q1075.0 157.4 1079.0 150.9Q1083.1 144.3 1087.1 139.8Q1091.1 135.3 1096.2 131.2Q1101.2 127.2 1106.8 124.7Q1112.3 122.2 1116.8 125.2Q1121.3 128.2 1126.3 131.8Q1131.4 135.3 1135.5 139.3Q1139.5 143.3 1143.0 148.4Q1146.5 153.4 1149.0 158.4Q1151.6 163.5 1154.6 171.6Q1157.6 179.6 1160.6 188.6Q1163.6 197.7 1166.7 207.8Q1169.7 217.9 1172.2 228.9Q1174.7 240.0 1177.2 252.1Q1179.7 264.2 1181.8 275.2Q1183.8 286.3 1185.8 298.4Q1187.8 310.5 1189.3 320.6Q1190.8 330.6 1192.4 346.8Q1194.0 362.9 1195.9 381.8Q1197.8 400.7 1199.0 419.6Q1200.3 438.5 1201.3 452.4Q1202.3 466.2 1203.2 468.0L1204.1 469.9Q1210.4 464.9 1216.7 464.0Q1222.9 463.1 1229.2 463.1Q1235.5 463.1 1241.8 464.0Q1248.1 464.9 1254.4 466.5Q1260.7 468.2 1267.0 470.9Q1273.3 473.7 1279.6 475.9Q1285.9 478.0 1291.0 478.4Q1296.0 478.8 1301.0 476.9Q1306.0 475.0 1312.3 472.1Q1318.6 469.2 1324.9 468.7Q1331.2 468.2 1336.2 470.4Q1341.3 472.5 1346.3 478.1Q1351.3 483.8 1355.1 492.6Q1358.9 501.4 1361.2 514.0Q1363.4 526.6 1364.7 539.2Q1365.9 551.8 1366.6 564.3L1367.2 576.9Q1369.0 551.8 1370.2 539.2Q1371.5 526.6 1373.4 514.0Q1375.3 501.4 1378.4 491.4Q1381.6 481.3 1386.6 473.8Q1391.6 466.2 1396.7 462.4Q1401.7 458.6 1406.8 457.6Q1411.8 456.6 1416.8 457.9Q1421.8 459.1 1428.1 461.1Q1434.4 463.1 1440.7 463.4Q1447.0 463.6 1453.3 461.8Q1459.6 459.9 1467.2 457.4Q1474.7 454.8 1483.5 453.8Q1492.3 452.8 1502.4 451.7Q1512.5 450.6 1522.5 449.6Q1532.6 448.5 1540.2 447.5Q1547.7 446.5 1555.2 446.5Q1562.8 446.5 1569.1 447.2Q1575.4 448.0 1581.7 451.4Q1588.0 454.8 1593.0 459.9Q1598.1 464.9 1603.1 472.4Q1608.1 480.0 1611.9 487.6Q1615.7 495.1 1618.0 497.0L1620.2 498.9Q1632.6 478.8 1637.0 473.1Q1641.4 467.4 1645.8 465.2Q1650.2 463.1 1654.6 462.4Q1659.0 461.6 1663.4 462.6Q1667.8 463.6 1672.2 468.1Q1676.6 472.5 1680.4 479.4Q1684.2 486.3 1687.3 492.6Q1690.5 498.9 1692.0 500.8L1693.5 502.7Q1696.8 498.9 1699.3 491.4Q1701.8 483.8 1705.6 476.2Q1709.4 468.7 1715.1 461.8Q1720.7 454.8 1727.0 450.4Q1733.3 446.0 1740.8 443.8Q1748.4 441.5 1757.2 440.6Q1766.0 439.7 1774.8 439.7Q1783.6 439.7 1792.4 440.4Q1801.3 441.0 1810.1 442.5Q1818.9 444.0 1827.7 445.2Q1836.5 446.5 1844.0 446.2Q1851.6 446.0 1859.2 444.8Q1866.7 443.5 1875.6 443.1Q1884.4 442.7 1892.0 443.1Q1899.5 443.5 1905.8 445.4Q1912.0 447.3 1919.6 451.1Q1927.2 454.8 1933.5 459.9Q1939.7 464.9 1944.8 469.9Q1949.8 475.0 1952.9 476.9Q1956.1 478.8 1959.2 476.9Q1962.4 475.0 1967.5 469.3Q1972.5 463.6 1978.8 457.4Q1985.1 451.1 1991.3 447.3Q1997.6 443.5 2003.9 441.6Q2010.2 439.7 2016.5 439.4Q2022.8 439.2 2029.1 440.7Q2035.4 442.2 2041.7 446.0Q2048.0 449.8 2053.1 452.7Q2058.1 455.6 2063.1 456.5Q2068.1 457.4 2073.1 456.5Q2078.2 455.6 2083.2 454.2Q2088.3 452.8 2099.6 451.1L2099.6 451.1" fill="none" stroke="#00B050" stroke-width="10" stroke-linecap="round" stroke-linejoin="round"/>
<line x1="201.0" x2="2098.0" y1="168.7" y2="168.7" stroke="#FF0000" stroke-width="8"/><circle cx="201.0" cy="168.7" r="4" fill="#FF0000"/>
<line x1="1072.8" x2="1072.8" y1="104.5" y2="616.5" stroke="#00BFBF" stroke-width="9.5" stroke-dasharray="7.7 7.65"/>
<line x1="1152.7" x2="1152.7" y1="104.5" y2="616.5" stroke="#00BFBF" stroke-width="9.5" stroke-dasharray="7.7 7.65"/>
<text x="123.5" y="199.5" font-size="50" fill="#262626" font-family="'Liberation Serif', serif" font-weight="bold">10<tspan x="174" y="174.1" font-size="40">0</tspan></text>
<text x="109.3" y="327.5" font-size="50" fill="#262626" font-family="'Liberation Serif', serif" font-weight="bold">10<tspan x="154" y="302.1" font-size="40">−</tspan><tspan x="199" y="302.1" font-size="40" text-anchor="end">2</tspan></text>
<text x="109.3" y="455.5" font-size="50" fill="#262626" font-family="'Liberation Serif', serif" font-weight="bold">10<tspan x="154" y="430.1" font-size="40">−</tspan><tspan x="199" y="430.1" font-size="40" text-anchor="end">4</tspan></text>
<text x="109.3" y="583.5" font-size="50" fill="#262626" font-family="'Liberation Serif', serif" font-weight="bold">10<tspan x="154" y="558.1" font-size="40">−</tspan><tspan x="199" y="558.1" font-size="40" text-anchor="end">6</tspan></text>
<text x="183.7" y="687.1" font-size="50" fill="#262626" font-family="'Liberation Serif', serif" font-weight="bold">0.1</text>
<text x="410.4" y="687.1" font-size="50" fill="#262626" font-family="'Liberation Serif', serif" font-weight="bold">0.15</text>
<text x="657.5" y="687.1" font-size="50" fill="#262626" font-family="'Liberation Serif', serif" font-weight="bold">0.2</text>
<text x="884.1" y="687.1" font-size="50" fill="#262626" font-family="'Liberation Serif', serif" font-weight="bold">0.25</text>
<text x="1131.2" y="687.1" font-size="50" fill="#262626" font-family="'Liberation Serif', serif" font-weight="bold">0.3</text>
<text x="1357.9" y="687.1" font-size="50" fill="#262626" font-family="'Liberation Serif', serif" font-weight="bold">0.35</text>
<text x="1605.0" y="687.1" font-size="50" fill="#262626" font-family="'Liberation Serif', serif" font-weight="bold">0.4</text>
<text x="1831.6" y="687.1" font-size="50" fill="#262626" font-family="'Liberation Serif', serif" font-weight="bold">0.45</text>
<text x="2078.7" y="687.1" font-size="50" fill="#262626" font-family="'Liberation Serif', serif" font-weight="bold">0.5</text>
<rect x="202.5" y="739.5" width="1895.0" height="511.0" fill="none" stroke="#262626" stroke-width="1"/>
<path d="M439.5 739.5v19.5M439.5 1250.5v-19.5M676.5 739.5v19.5M676.5 1250.5v-19.5M913.5 739.5v19.5M913.5 1250.5v-19.5M1150.5 739.5v19.5M1150.5 1250.5v-19.5M1386.5 739.5v19.5M1386.5 1250.5v-19.5M1623.5 739.5v19.5M1623.5 1250.5v-19.5M1860.5 739.5v19.5M1860.5 1250.5v-19.5M202.5 1199.5h19.5M2097.5 1199.5h-19.5M202.5 1148.5h9.5M2097.5 1148.5h-9.5M202.5 1097.5h9.5M2097.5 1097.5h-9.5M202.5 1046.5h19.5M2097.5 1046.5h-19.5M202.5 994.5h9.5M2097.5 994.5h-9.5M202.5 943.5h9.5M2097.5 943.5h-9.5M202.5 892.5h19.5M2097.5 892.5h-19.5M202.5 841.5h9.5M2097.5 841.5h-9.5M202.5 790.5h9.5M2097.5 790.5h-9.5" stroke="#262626" stroke-width="1" fill="none"/>
<path d="M200.5 992.1Q202.2 994.7 203.0 996.8Q203.8 998.9 204.5 1001.6Q205.2 1004.3 205.8 1007.6Q206.4 1010.9 206.9 1014.8Q207.3 1018.8 207.7 1023.2Q208.0 1027.6 208.3 1033.5Q208.6 1039.5 208.8 1045.7Q209.0 1051.9 209.1 1058.1L209.2 1064.2L209.4 1064.2L209.4 1056.7Q209.5 1056.7 209.6 1056.7L209.7 1056.7Q209.9 1044.3 210.1 1038.1Q210.3 1031.9 210.6 1026.0Q210.9 1020.1 211.2 1015.7Q211.6 1011.2 212.1 1007.3Q212.5 1003.4 213.1 1000.1Q213.7 996.8 214.4 994.0Q215.1 991.3 215.9 989.2Q216.7 987.1 217.6 985.8Q218.4 984.5 219.1 983.9Q219.8 983.3 220.5 983.1Q221.2 982.9 221.9 983.1Q222.6 983.3 223.3 983.9Q224.0 984.5 224.8 985.8Q225.6 987.1 226.4 989.2Q227.3 991.3 228.0 994.0Q228.7 996.8 229.3 1000.1Q229.9 1003.4 230.4 1007.3Q230.8 1011.2 231.2 1015.7Q231.5 1020.1 231.8 1026.0Q232.1 1031.9 232.2 1032.7L232.4 1033.4Q232.7 1033.4 232.8 1033.4L232.8 1033.4L232.9 1044.2Q233.0 1044.2 233.1 1044.2Q233.1 1044.2 233.2 1044.2L233.4 1044.2Q233.7 1042.8 234.0 1036.8Q234.3 1030.9 234.7 1026.5Q235.0 1022.0 235.4 1018.1Q235.9 1014.2 236.5 1010.9Q237.1 1007.6 237.8 1004.9Q238.5 1002.1 239.3 1000.0Q240.2 997.9 241.0 996.6Q241.8 995.3 242.5 994.7Q243.2 994.1 243.9 993.9Q244.6 993.7 245.3 993.9Q246.0 994.1 246.7 994.7Q247.4 995.3 248.2 996.6Q249.1 997.9 249.9 1000.0Q250.7 1002.1 251.4 1004.9Q252.1 1007.6 252.7 1010.9Q253.3 1014.2 253.8 1018.1Q254.2 1022.0 254.6 1026.5Q254.9 1030.9 255.2 1036.8Q255.5 1042.8 255.7 1048.2L255.9 1053.6Q256.1 1053.6 256.2 1053.6L256.3 1053.6L256.3 1045.1Q256.4 1045.1 256.5 1045.1Q256.6 1045.1 256.7 1045.1L256.8 1045.1Q257.2 1034.3 257.5 1028.3Q257.8 1022.4 258.1 1018.0Q258.5 1013.6 258.9 1009.7Q259.4 1005.8 260.0 1002.5Q260.6 999.1 261.3 996.4Q262.0 993.7 262.8 991.6Q263.6 989.5 264.5 988.2Q265.3 986.9 266.0 986.3Q266.7 985.7 267.4 985.5Q268.1 985.3 268.8 985.5Q269.5 985.7 270.2 986.3Q270.9 986.9 271.7 988.2Q272.5 989.5 273.4 991.6Q274.2 993.7 274.9 996.4Q275.6 999.1 276.2 1002.5Q276.8 1005.8 277.2 1009.7Q277.7 1013.6 278.0 1018.0Q278.4 1022.4 278.7 1028.3Q279.0 1034.3 279.1 1040.5Q279.3 1046.7 279.5 1054.4Q279.6 1062.1 279.6 1067.6Q279.7 1073.1 279.8 1074.8L279.8 1076.4L279.9 1076.4Q280.0 1065.4 280.1 1057.7Q280.3 1050.0 280.5 1043.8Q280.6 1037.6 280.9 1031.7Q281.2 1025.7 281.5 1021.3Q281.9 1016.9 282.4 1013.0Q282.8 1009.1 283.4 1005.8Q284.0 1002.4 284.7 999.7Q285.4 997.0 286.2 994.9Q287.1 992.8 287.9 991.5Q288.7 990.2 289.4 989.6Q290.1 989.0 290.8 988.8Q291.5 988.6 292.2 988.8Q292.9 989.0 293.6 989.6Q294.3 990.2 295.1 991.5Q296.0 992.8 296.8 994.9Q297.6 997.0 298.3 999.7Q299.0 1002.4 299.6 1005.8Q300.2 1009.1 300.6 1013.0Q301.1 1016.9 301.5 1021.3Q301.8 1025.7 302.1 1031.7Q302.4 1037.6 302.6 1043.8Q302.8 1050.0 302.9 1057.7Q303.0 1065.4 303.1 1067.9Q303.2 1070.4 303.2 1070.5L303.2 1070.5L303.3 1070.5Q303.5 1065.5 303.6 1057.8Q303.7 1050.1 303.9 1043.9Q304.1 1037.7 304.4 1031.8Q304.7 1025.8 305.0 1021.4Q305.4 1017.0 305.9 1013.1Q306.3 1009.2 306.9 1005.9Q307.5 1002.5 308.2 999.8Q308.9 997.1 309.7 995.0Q310.5 992.9 311.4 991.6Q312.2 990.3 312.9 989.7Q313.6 989.1 314.3 988.9Q315.0 988.7 315.7 988.9Q316.4 989.1 317.1 989.7Q317.8 990.3 318.6 991.6Q319.4 992.9 320.2 995.0Q321.1 997.1 321.8 999.8Q322.5 1002.5 323.1 1005.9Q323.7 1009.2 324.1 1013.1Q324.6 1017.0 325.0 1021.4Q325.3 1025.8 325.6 1031.8Q325.9 1037.7 326.0 1043.9Q326.2 1050.1 326.4 1056.5L326.5 1063.0L326.6 1063.0L326.7 1058.4Q326.8 1058.4 326.9 1058.4L326.9 1058.4Q327.2 1045.5 327.4 1039.3Q327.5 1033.1 327.8 1027.2Q328.1 1021.3 328.5 1016.8Q328.8 1012.4 329.2 1008.5Q329.7 1004.6 330.3 1001.3Q330.9 998.0 331.6 995.2Q332.3 992.5 333.1 990.4Q334.0 988.3 334.8 987.0Q335.6 985.7 336.3 985.1Q337.0 984.5 337.7 984.3Q338.4 984.1 339.1 984.3Q339.8 984.5 340.5 985.1Q341.2 985.7 342.0 987.0Q342.9 988.3 343.7 990.4Q344.5 992.5 345.2 995.2Q345.9 998.0 346.5 1001.3Q347.1 1004.6 347.6 1008.5Q348.0 1012.4 348.4 1016.8Q348.7 1021.3 349.0 1027.2Q349.3 1033.1 349.5 1039.3Q349.7 1045.5 349.8 1051.8L349.9 1058.2L350.1 1058.2L350.1 1068.3Q350.2 1068.3 350.3 1068.3L350.4 1068.3Q350.6 1055.6 350.8 1049.4Q351.0 1043.2 351.3 1037.2Q351.6 1031.3 352.0 1026.9Q352.3 1022.5 352.8 1018.5Q353.2 1014.6 353.8 1011.3Q354.4 1008.0 355.1 1005.3Q355.8 1002.6 356.6 1000.5Q357.4 998.4 358.2 997.1Q359.1 995.8 359.8 995.1Q360.5 994.5 361.2 994.4Q361.9 994.2 362.6 994.4Q363.3 994.5 364.0 995.1Q364.7 995.8 365.5 997.1Q366.3 998.4 367.1 1000.5Q368.0 1002.6 368.7 1005.3Q369.4 1008.0 370.0 1011.3Q370.6 1014.6 371.1 1018.5Q371.5 1022.5 371.9 1026.9Q372.2 1031.3 372.5 1037.2Q372.8 1043.2 373.0 1049.4Q373.1 1055.6 373.2 1059.8L373.4 1064.0L373.5 1064.0L373.6 1062.3Q373.7 1062.3 373.8 1062.3L373.8 1062.3Q374.1 1053.8 374.2 1047.6Q374.4 1041.4 374.7 1035.5Q375.0 1029.5 375.4 1025.1Q375.7 1020.7 376.1 1016.8Q376.6 1012.9 377.2 1009.5Q377.8 1006.2 378.5 1003.5Q379.2 1000.8 380.0 998.7Q380.9 996.6 381.7 995.3Q382.5 994.0 383.2 993.4Q383.9 992.8 384.6 992.6Q385.3 992.4 386.0 992.6Q386.7 992.8 387.4 993.4Q388.1 994.0 389.0 995.3Q389.8 996.6 390.6 998.7Q391.4 1000.8 392.1 1003.5Q392.8 1006.2 393.4 1009.5Q394.0 1012.9 394.4 1016.8Q394.9 1020.7 395.2 1025.1Q395.6 1029.5 395.9 1035.5Q396.2 1041.4 396.4 1047.6Q396.6 1053.8 396.7 1060.8L396.8 1067.9L397.0 1067.9L397.0 1058.4Q397.1 1058.4 397.2 1058.4L397.3 1058.4Q397.5 1044.3 397.7 1038.1Q397.9 1031.9 398.2 1026.0Q398.5 1020.1 398.9 1015.7Q399.2 1011.2 399.6 1007.3Q400.1 1003.4 400.7 1000.0Q401.3 996.7 402.0 994.0Q402.7 991.3 403.5 989.2Q404.3 987.1 405.1 985.8Q406.0 984.5 406.7 983.9Q407.4 983.3 408.1 983.1Q408.8 982.9 409.5 983.1Q410.2 983.3 410.9 983.9Q411.6 984.5 412.4 985.8Q413.2 987.1 414.0 989.2Q414.9 991.3 415.6 994.0Q416.3 996.7 416.9 1000.0Q417.5 1003.4 417.9 1007.3Q418.4 1011.2 418.8 1015.7Q419.1 1020.1 419.4 1026.0Q419.7 1031.9 419.9 1038.1Q420.0 1044.3 420.1 1052.0Q420.3 1059.7 420.4 1060.7Q420.4 1061.7 420.4 1065.4L420.5 1069.1L420.6 1069.1Q420.7 1067.1 420.9 1059.4Q421.0 1051.7 421.1 1045.5Q421.3 1039.3 421.6 1033.3Q421.9 1027.4 422.2 1023.0Q422.6 1018.6 423.1 1014.7Q423.5 1010.8 424.1 1007.5Q424.7 1004.1 425.4 1001.4Q426.1 998.7 427.0 996.6Q427.8 994.5 428.6 993.2Q429.4 991.9 430.1 991.3Q430.8 990.7 431.5 990.5Q432.2 990.3 432.9 990.5Q433.6 990.7 434.3 991.3Q435.0 991.9 435.9 993.2Q436.7 994.5 437.5 996.6Q438.3 998.7 439.0 1001.4Q439.7 1004.1 440.3 1007.5Q440.9 1010.8 441.4 1014.7Q441.8 1018.6 442.1 1023.0Q442.5 1027.4 442.8 1033.3Q443.1 1039.3 443.3 1045.5L443.5 1051.7Q443.7 1051.7 443.8 1051.7L443.9 1051.7L443.9 1043.9Q444.0 1043.9 444.1 1043.9Q444.2 1043.9 444.3 1043.8Q444.4 1043.8 444.6 1037.7Q444.8 1031.5 445.1 1025.5Q445.4 1019.6 445.8 1015.2Q446.1 1010.8 446.6 1006.8Q447.0 1002.9 447.6 999.6Q448.2 996.3 448.9 993.5Q449.6 990.8 450.4 988.7Q451.2 986.6 452.0 985.3Q452.9 984.0 453.6 983.4Q454.3 982.8 455.0 982.6Q455.7 982.4 456.4 982.6Q457.1 982.8 457.8 983.4Q458.5 984.0 459.3 985.3Q460.1 986.6 461.0 988.7Q461.8 990.8 462.5 993.5Q463.2 996.3 463.8 999.6Q464.4 1002.9 464.9 1006.8Q465.3 1010.8 465.6 1015.2Q466.0 1019.6 466.3 1025.5Q466.6 1031.5 466.8 1037.7Q466.9 1043.8 467.0 1051.5Q467.2 1059.2 467.2 1062.2Q467.3 1065.3 467.4 1068.4L467.4 1071.5L467.5 1071.5Q467.6 1065.4 467.8 1057.7Q467.9 1050.0 468.0 1043.8Q468.2 1037.6 468.5 1031.7Q468.8 1025.8 469.1 1021.3Q469.5 1016.9 469.9 1013.0Q470.4 1009.1 471.0 1005.8Q471.6 1002.5 472.3 999.8Q473.0 997.0 473.9 994.9Q474.7 992.8 475.5 991.5Q476.3 990.2 477.0 989.6Q477.7 989.0 478.4 988.8Q479.1 988.6 479.8 988.8Q480.5 989.0 481.2 989.6Q481.9 990.2 482.8 991.5Q483.6 992.8 484.4 994.9Q485.2 997.0 485.9 999.8Q486.6 1002.5 487.2 1005.8Q487.8 1009.1 488.2 1013.0Q488.7 1016.9 489.0 1021.3Q489.4 1025.8 489.7 1031.7Q490.0 1037.6 490.2 1043.8Q490.4 1050.0 490.5 1057.7Q490.6 1065.4 490.7 1065.7Q490.8 1065.9 490.8 1068.8L490.8 1071.6Q490.9 1071.6 491.0 1071.3Q491.1 1071.1 491.2 1063.4Q491.3 1055.7 491.5 1049.5Q491.7 1043.3 492.0 1037.4Q492.3 1031.5 492.6 1027.0Q493.0 1022.6 493.4 1018.7Q493.9 1014.8 494.5 1011.5Q495.1 1008.1 495.8 1005.4Q496.5 1002.7 497.3 1000.6Q498.1 998.5 499.0 997.2Q499.8 995.9 500.5 995.3Q501.2 994.7 501.9 994.5Q502.6 994.3 503.3 994.5Q504.0 994.7 504.7 995.3Q505.4 995.9 506.2 997.2Q507.0 998.5 507.9 1000.6Q508.7 1002.7 509.4 1005.4Q510.1 1008.1 510.7 1011.5Q511.3 1014.8 511.8 1018.7Q512.2 1022.6 512.5 1027.0Q512.9 1031.5 513.2 1037.4Q513.5 1043.3 513.6 1049.5Q513.8 1055.7 514.0 1063.4Q514.1 1071.1 514.2 1081.2Q514.2 1091.4 514.2 1126.2L514.3 1160.9Q514.4 1092.0 514.5 1081.8Q514.5 1071.7 514.6 1064.0Q514.8 1056.3 515.0 1050.1Q515.1 1043.9 515.4 1038.0Q515.7 1032.1 516.0 1027.7Q516.4 1023.2 516.8 1019.3Q517.3 1015.4 517.9 1012.0Q518.5 1008.7 519.2 1006.0Q519.9 1003.3 520.8 1001.2Q521.6 999.1 522.4 997.8Q523.2 996.5 523.9 995.9Q524.6 995.3 525.3 995.1Q526.0 994.9 526.7 995.1Q527.4 995.3 528.1 995.9Q528.8 996.5 529.6 997.8Q530.5 999.1 531.3 1001.2Q532.1 1003.3 532.8 1006.0Q533.5 1008.7 534.1 1012.0Q534.7 1015.4 535.2 1019.3Q535.6 1023.2 536.0 1027.7Q536.3 1032.1 536.6 1038.0Q536.9 1043.9 537.1 1050.1Q537.3 1056.3 537.4 1058.1L537.5 1059.9L537.7 1059.9L537.8 1058.2L538.0 1058.2Q538.2 1054.6 538.4 1048.4Q538.6 1042.2 538.9 1036.3Q539.2 1030.4 539.5 1026.0Q539.9 1021.5 540.3 1017.6Q540.8 1013.7 541.4 1010.4Q542.0 1007.1 542.7 1004.4Q543.4 1001.6 544.2 999.5Q545.0 997.4 545.9 996.1Q546.7 994.8 547.4 994.2Q548.1 993.6 548.8 993.4Q549.5 993.2 550.2 993.4Q550.9 993.6 551.6 994.2Q552.3 994.8 553.1 996.1Q553.9 997.4 554.8 999.5Q555.6 1001.6 556.3 1004.4Q557.0 1007.1 557.6 1010.4Q558.2 1013.7 558.7 1017.6Q559.1 1021.5 559.5 1026.0Q559.8 1030.4 560.1 1036.3Q560.4 1042.2 560.5 1048.4Q560.7 1054.6 560.9 1057.3L561.0 1060.1L561.1 1060.1L561.2 1062.0Q561.3 1062.0 561.3 1062.0L561.4 1062.0Q561.7 1056.5 561.9 1050.3Q562.0 1044.1 562.3 1038.2Q562.6 1032.3 563.0 1027.8Q563.3 1023.4 563.8 1019.5Q564.2 1015.6 564.8 1012.2Q565.4 1008.9 566.1 1006.2Q566.8 1003.5 567.6 1001.4Q568.5 999.3 569.3 998.0Q570.1 996.7 570.8 996.1Q571.5 995.5 572.2 995.3Q572.9 995.1 573.6 995.3Q574.3 995.5 575.0 996.1Q575.7 996.7 576.5 998.0Q577.4 999.3 578.2 1001.4Q579.0 1003.5 579.7 1006.2Q580.4 1008.9 581.0 1012.2Q581.6 1015.6 582.0 1019.5Q582.5 1023.4 582.9 1027.8Q583.2 1032.3 583.5 1038.2Q583.8 1044.1 584.0 1050.3Q584.2 1056.5 584.3 1064.2Q584.4 1071.9 584.5 1075.2L584.6 1078.5L584.6 1066.8L584.7 1066.8Q584.9 1060.1 585.0 1052.4Q585.1 1044.8 585.3 1038.6Q585.5 1032.4 585.8 1026.5Q586.1 1020.5 586.5 1016.1Q586.8 1011.7 587.2 1007.8Q587.7 1003.9 588.3 1000.5Q588.9 997.2 589.6 994.5Q590.3 991.8 591.1 989.7Q591.9 987.6 592.8 986.3Q593.6 985.0 594.3 984.4Q595.0 983.8 595.7 983.6Q596.4 983.4 597.1 983.6Q597.8 983.8 598.5 984.4Q599.2 985.0 600.0 986.3Q600.8 987.6 601.6 989.7Q602.5 991.8 603.2 994.5Q603.9 997.2 604.5 1000.5Q605.1 1003.9 605.5 1007.8Q606.0 1011.7 606.4 1016.1Q606.7 1020.5 607.0 1026.5Q607.3 1032.4 607.5 1035.5L607.6 1038.5Q607.9 1038.5 608.0 1038.5L608.0 1038.5L608.1 1040.2Q608.2 1040.2 608.2 1040.2Q608.3 1040.2 608.5 1040.2L608.6 1040.2Q608.9 1034.1 609.2 1028.2Q609.5 1022.2 609.9 1017.8Q610.2 1013.4 610.7 1009.5Q611.1 1005.5 611.7 1002.2Q612.3 998.9 613.0 996.1Q613.7 993.4 614.5 991.3Q615.4 989.3 616.2 988.0Q617.0 986.7 617.7 986.0Q618.4 985.4 619.1 985.2Q619.8 985.0 620.5 985.2Q621.2 985.4 621.9 986.0Q622.6 986.7 623.5 988.0Q624.3 989.3 625.1 991.3Q625.9 993.4 626.6 996.1Q627.3 998.9 627.9 1002.2Q628.5 1005.5 629.0 1009.5Q629.4 1013.4 629.8 1017.8Q630.1 1022.2 630.4 1028.2Q630.7 1034.1 630.9 1040.3Q631.1 1046.5 631.2 1054.2Q631.3 1061.8 631.4 1066.8Q631.5 1071.7 631.5 1073.2L631.5 1074.8L631.6 1074.8Q631.8 1064.9 631.9 1057.2Q632.0 1049.5 632.2 1043.3Q632.4 1037.1 632.7 1031.2Q633.0 1025.3 633.4 1020.8Q633.7 1016.4 634.2 1012.5Q634.6 1008.6 635.2 1005.3Q635.8 1002.0 636.5 999.2Q637.2 996.5 638.0 994.4Q638.8 992.3 639.6 991.0Q640.5 989.7 641.2 989.1Q641.9 988.5 642.6 988.3Q643.3 988.1 644.0 988.3Q644.7 988.5 645.4 989.1Q646.1 989.7 646.9 991.0Q647.7 992.3 648.5 994.4Q649.4 996.5 650.1 999.2Q650.8 1002.0 651.4 1005.3Q652.0 1008.6 652.5 1012.5Q652.9 1016.4 653.2 1020.8Q653.6 1025.3 653.9 1031.2Q654.2 1037.1 654.4 1043.3Q654.5 1049.5 654.6 1055.7L654.8 1061.9L654.9 1061.9L655.0 1060.0Q655.1 1060.0 655.2 1060.0L655.2 1060.0Q655.5 1047.6 655.6 1041.4Q655.8 1035.2 656.1 1029.3Q656.4 1023.4 656.8 1019.0Q657.1 1014.5 657.5 1010.6Q658.0 1006.7 658.6 1003.4Q659.2 1000.1 659.9 997.4Q660.6 994.6 661.5 992.5Q662.3 990.4 663.1 989.1Q663.9 987.8 664.6 987.2Q665.3 986.6 666.0 986.4Q666.7 986.2 667.4 986.4Q668.1 986.6 668.8 987.2Q669.5 987.8 670.4 989.1Q671.2 990.4 672.0 992.5Q672.8 994.6 673.5 997.4Q674.2 1000.1 674.8 1003.4Q675.4 1006.7 675.8 1010.6Q676.3 1014.5 676.6 1019.0Q677.0 1023.4 677.3 1029.3Q677.6 1035.2 677.8 1041.4Q678.0 1047.6 678.1 1051.5L678.2 1055.5L678.4 1055.5L678.4 1056.7Q678.5 1056.7 678.6 1056.7L678.7 1056.7Q678.9 1048.8 679.1 1042.6Q679.3 1036.4 679.6 1030.5Q679.9 1024.6 680.2 1020.1Q680.6 1015.7 681.0 1011.8Q681.5 1007.9 682.1 1004.5Q682.7 1001.2 683.4 998.5Q684.1 995.8 684.9 993.7Q685.7 991.6 686.5 990.3Q687.4 989.0 688.1 988.4Q688.8 987.8 689.5 987.6Q690.2 987.4 690.9 987.6Q691.6 987.8 692.3 988.4Q693.0 989.0 693.8 990.3Q694.6 991.6 695.5 993.7Q696.3 995.8 697.0 998.5Q697.7 1001.2 698.3 1004.5Q698.9 1007.9 699.3 1011.8Q699.8 1015.7 700.1 1020.1Q700.5 1024.6 700.8 1030.5Q701.1 1036.4 701.2 1042.6Q701.4 1048.8 701.5 1049.8L701.7 1050.7L701.8 1050.7L701.9 1053.5Q702.0 1053.5 702.0 1053.5L702.1 1053.5Q702.4 1051.6 702.5 1045.4Q702.7 1039.2 703.0 1033.2Q703.3 1027.3 703.6 1022.9Q704.0 1018.5 704.5 1014.6Q704.9 1010.7 705.5 1007.4Q706.1 1004.0 706.8 1001.3Q707.5 998.6 708.4 996.5Q709.2 994.4 710.0 993.1Q710.8 991.8 711.5 991.2Q712.2 990.6 712.9 990.4Q713.6 990.2 714.3 990.4Q715.0 990.6 715.7 991.2Q716.4 991.8 717.2 993.1Q718.1 994.4 718.9 996.5Q719.7 998.6 720.4 1001.3Q721.1 1004.0 721.7 1007.4Q722.3 1010.7 722.8 1014.6Q723.2 1018.5 723.5 1022.9Q723.9 1027.3 724.2 1033.2Q724.5 1039.2 724.7 1045.4Q724.9 1051.6 725.0 1059.3Q725.1 1067.0 725.2 1076.6Q725.3 1086.2 725.3 1088.5L725.3 1090.7L725.4 1090.7Q725.6 1071.4 725.7 1063.8Q725.8 1056.1 726.0 1049.9Q726.2 1043.7 726.5 1037.8Q726.8 1031.8 727.1 1027.4Q727.5 1023.0 728.0 1019.0Q728.4 1015.1 729.0 1011.8Q729.6 1008.5 730.3 1005.8Q731.0 1003.1 731.8 1001.0Q732.6 998.9 733.5 997.6Q734.3 996.3 735.0 995.7Q735.7 995.1 736.4 994.9Q737.1 994.7 737.8 994.9Q738.5 995.1 739.2 995.7Q739.9 996.3 740.7 997.6Q741.5 998.9 742.4 1001.0Q743.2 1003.1 743.9 1005.8Q744.6 1008.5 745.2 1011.8Q745.8 1015.1 746.2 1019.0Q746.7 1023.0 747.0 1027.4Q747.4 1031.8 747.7 1037.8Q748.0 1043.7 748.1 1049.9Q748.3 1056.1 748.5 1063.3L748.6 1070.6L748.7 1070.6L748.8 1070.9Q748.9 1070.9 749.0 1070.9L749.0 1070.9Q749.3 1056.4 749.5 1050.2Q749.6 1044.0 749.9 1038.1Q750.2 1032.2 750.5 1027.8Q750.9 1023.3 751.3 1019.4Q751.8 1015.5 752.4 1012.1Q753.0 1008.8 753.7 1006.1Q754.4 1003.4 755.2 1001.3Q756.1 999.2 756.9 997.9Q757.7 996.6 758.4 996.0Q759.1 995.4 759.8 995.2Q760.5 995.0 761.2 995.2Q761.9 995.4 762.6 996.0Q763.3 996.6 764.1 997.9Q765.0 999.2 765.8 1001.3Q766.6 1003.4 767.3 1006.1Q768.0 1008.8 768.6 1012.1Q769.2 1015.5 769.7 1019.4Q770.1 1023.3 770.5 1027.8Q770.8 1032.2 771.1 1038.1Q771.4 1044.0 771.6 1050.2Q771.8 1056.4 771.9 1064.1Q772.0 1071.8 772.1 1074.7Q772.2 1077.5 772.2 1078.0L772.2 1078.4L772.3 1078.4Q772.5 1072.7 772.6 1065.0Q772.7 1057.3 772.9 1051.1Q773.1 1044.9 773.4 1039.0Q773.7 1033.0 774.0 1028.6Q774.4 1024.2 774.8 1020.3Q775.3 1016.4 775.9 1013.0Q776.5 1009.7 777.2 1007.0Q777.9 1004.3 778.7 1002.2Q779.5 1000.1 780.4 998.8Q781.2 997.5 781.9 996.9Q782.6 996.3 783.3 996.1Q784.0 995.9 784.7 996.1Q785.4 996.3 786.1 996.9Q786.8 997.5 787.6 998.8Q788.4 1000.1 789.2 1002.2Q790.1 1004.3 790.8 1007.0Q791.5 1009.7 792.1 1013.0Q792.7 1016.4 793.2 1020.3Q793.6 1024.2 794.0 1028.6Q794.3 1033.0 794.6 1039.0Q794.9 1044.9 795.0 1051.1Q795.2 1057.3 795.4 1065.0Q795.5 1072.7 795.5 1082.8L795.6 1093.0Q795.7 1088.3 795.8 1084.8Q795.8 1081.4 795.8 1071.2Q795.9 1061.1 796.0 1053.4Q796.2 1045.7 796.4 1039.5Q796.5 1033.3 796.8 1027.3Q797.1 1021.4 797.5 1017.0Q797.8 1012.6 798.2 1008.7Q798.7 1004.8 799.3 1001.5Q799.9 998.1 800.6 995.4Q801.3 992.7 802.1 990.6Q803.0 988.5 803.8 987.2Q804.6 985.9 805.3 985.3Q806.0 984.7 806.7 984.5Q807.4 984.3 808.1 984.5Q808.8 984.7 809.5 985.3Q810.2 985.9 811.0 987.2Q811.9 988.5 812.7 990.6Q813.5 992.7 814.2 995.4Q814.9 998.1 815.5 1001.5Q816.1 1004.8 816.5 1008.7Q817.0 1012.6 817.4 1017.0Q817.7 1021.4 818.0 1027.3Q818.3 1033.3 818.5 1039.5Q818.7 1045.7 818.8 1053.4Q818.9 1061.1 819.0 1071.2Q819.1 1081.4 819.1 1094.5L819.1 1107.5Q819.2 1092.6 819.3 1082.4Q819.4 1072.3 819.5 1064.6Q819.6 1056.9 819.8 1050.7Q820.0 1044.5 820.3 1038.6Q820.6 1032.7 821.0 1028.2Q821.3 1023.8 821.8 1019.9Q822.2 1016.0 822.8 1012.6Q823.4 1009.3 824.1 1006.6Q824.8 1003.9 825.6 1001.8Q826.4 999.7 827.2 998.4Q828.1 997.1 828.8 996.5Q829.5 995.9 830.2 995.7Q830.9 995.5 831.6 995.7Q832.3 995.9 833.0 996.5Q833.7 997.1 834.5 998.4Q835.3 999.7 836.1 1001.8Q837.0 1003.9 837.7 1006.6Q838.4 1009.3 839.0 1012.6Q839.6 1016.0 840.0 1019.9Q840.5 1023.8 840.9 1028.2Q841.2 1032.7 841.5 1038.6Q841.8 1044.5 842.0 1050.7Q842.1 1056.9 842.2 1064.6Q842.4 1072.3 842.5 1076.1L842.5 1079.9L842.6 1074.3L842.7 1074.3Q842.8 1066.8 843.0 1059.1Q843.1 1051.4 843.2 1045.2Q843.4 1039.0 843.7 1033.0Q844.0 1027.1 844.4 1022.7Q844.7 1018.3 845.2 1014.4Q845.6 1010.5 846.2 1007.1Q846.8 1003.8 847.5 1001.1Q848.2 998.4 849.0 996.3Q849.9 994.2 850.7 992.9Q851.5 991.6 852.2 991.0Q852.9 990.4 853.6 990.2Q854.3 990.0 855.0 990.2Q855.7 990.4 856.4 991.0Q857.1 991.6 858.0 992.9Q858.8 994.2 859.6 996.3Q860.4 998.4 861.1 1001.1Q861.8 1003.8 862.4 1007.1Q863.0 1010.5 863.5 1014.4Q863.9 1018.3 864.2 1022.7Q864.6 1027.1 864.9 1033.0Q865.2 1039.0 865.4 1045.2Q865.6 1051.4 865.7 1059.1Q865.8 1066.8 865.9 1066.9L866.0 1067.1L866.0 1062.1Q866.1 1062.1 866.2 1061.9Q866.3 1061.7 866.4 1054.1Q866.5 1046.4 866.7 1040.2Q866.9 1034.0 867.2 1028.0Q867.5 1022.1 867.9 1017.7Q868.2 1013.3 868.7 1009.3Q869.1 1005.4 869.7 1002.1Q870.3 998.8 871.0 996.1Q871.7 993.4 872.5 991.3Q873.3 989.2 874.1 987.9Q875.0 986.6 875.7 986.0Q876.4 985.4 877.1 985.2Q877.8 985.0 878.5 985.2Q879.2 985.4 879.9 986.0Q880.6 986.6 881.4 987.9Q882.2 989.2 883.0 991.3Q883.9 993.4 884.6 996.1Q885.3 998.8 885.9 1002.1Q886.5 1005.4 887.0 1009.3Q887.4 1013.3 887.8 1017.7Q888.1 1022.1 888.4 1028.0Q888.7 1034.0 888.9 1040.2Q889.0 1046.4 889.1 1054.1Q889.3 1061.7 889.3 1064.2Q889.4 1066.6 889.5 1069.1L889.5 1071.6L889.6 1071.6Q889.7 1066.8 889.9 1059.1Q890.0 1051.4 890.1 1045.2Q890.3 1039.1 890.6 1033.2Q890.9 1027.2 891.2 1022.8Q891.6 1018.4 892.0 1014.5Q892.5 1010.5 893.1 1007.2Q893.7 1003.9 894.4 1001.1Q895.1 998.4 896.0 996.3Q896.8 994.2 897.6 992.9Q898.4 991.6 899.1 991.0Q899.8 990.4 900.5 990.2Q901.2 990.0 901.9 990.2Q902.6 990.4 903.3 991.0Q904.0 991.6 904.9 992.9Q905.7 994.2 906.5 996.3Q907.3 998.4 908.0 1001.1Q908.7 1003.9 909.3 1007.2Q909.9 1010.5 910.3 1014.5Q910.8 1018.4 911.1 1022.8Q911.5 1027.2 911.8 1033.2Q912.1 1039.1 912.3 1045.0L912.5 1050.9Q912.7 1050.9 912.8 1050.9L912.9 1050.9L912.9 1043.7Q913.0 1043.7 913.1 1043.7Q913.2 1043.7 913.3 1043.7L913.4 1043.7Q913.8 1031.9 914.1 1026.0Q914.4 1020.0 914.8 1015.6Q915.1 1011.2 915.5 1007.3Q916.0 1003.4 916.6 1000.0Q917.2 996.7 917.9 994.0Q918.6 991.3 919.4 989.2Q920.2 987.1 921.0 985.8Q921.9 984.5 922.6 983.9Q923.3 983.3 924.0 983.1Q924.7 982.9 925.4 983.1Q926.1 983.3 926.8 983.9Q927.5 984.5 935.4 992.3L943.3 1000.1Q943.3 978.7 944.3 968.7Q945.3 958.6 947.3 942.5Q949.3 926.3 951.3 914.2Q953.4 902.2 956.4 889.1Q959.4 876.0 963.0 864.9Q966.5 853.8 970.5 842.8Q974.5 831.7 979.5 822.6Q984.6 813.5 989.7 806.5Q994.7 799.5 1001.8 794.0Q1008.8 788.4 1013.8 790.2Q1018.8 792.0 1022.9 790.9Q1026.9 789.8 1034.0 794.6Q1041.0 799.5 1044.0 804.5Q1047.0 809.5 1050.5 817.5Q1054.1 825.6 1057.1 835.7Q1060.1 845.8 1061.8 858.9Q1063.5 872.0 1064.3 881.5L1065.2 891.1Q1066.8 872.0 1068.5 855.9Q1070.2 839.7 1072.7 829.7Q1075.2 819.6 1079.2 811.5Q1083.3 803.5 1088.3 798.0Q1093.4 792.4 1097.4 790.7Q1101.4 789.0 1106.0 791.4Q1110.5 793.8 1115.5 791.4Q1120.5 789.0 1126.0 792.2Q1131.6 795.4 1137.7 803.5Q1143.7 811.5 1148.8 820.6Q1153.8 829.7 1158.3 841.8Q1162.8 853.8 1166.3 864.9Q1169.9 876.0 1173.4 889.1Q1176.9 902.2 1179.5 915.3Q1182.0 928.4 1184.0 941.5Q1186.0 954.5 1187.5 967.6L1189.0 980.7L1188.0 976.2Q1191.0 1004.4 1191.5 1017.5Q1192.0 1030.6 1192.5 1040.7L1193.1 1050.7Q1194.8 1009.0 1195.5 1006.3Q1196.2 1003.6 1197.0 1001.5Q1197.8 999.4 1198.7 998.1Q1199.5 996.8 1200.2 996.2Q1200.9 995.6 1201.6 995.4Q1202.3 995.2 1203.0 995.4Q1203.7 995.6 1204.4 996.2Q1205.1 996.8 1205.9 998.1Q1206.8 999.4 1207.6 1001.5Q1208.4 1003.6 1209.1 1006.3Q1209.8 1009.0 1210.4 1012.4Q1211.0 1015.7 1211.5 1019.6Q1212.0 1023.5 1212.3 1028.0Q1212.7 1032.4 1213.0 1038.3Q1213.3 1044.2 1213.4 1050.4Q1213.6 1056.6 1213.7 1064.3Q1213.8 1072.0 1213.9 1072.7L1214.0 1073.3L1214.1 1073.0L1214.2 1073.0Q1214.3 1071.7 1214.4 1064.0Q1214.6 1056.3 1214.8 1050.1Q1214.9 1043.9 1215.2 1038.0Q1215.5 1032.1 1215.8 1027.7Q1216.2 1023.2 1216.7 1019.3Q1217.1 1015.4 1217.7 1012.1Q1218.3 1008.8 1219.0 1006.0Q1219.7 1003.3 1220.6 1001.2Q1221.4 999.1 1222.2 997.8Q1223.0 996.5 1223.7 995.9Q1224.4 995.3 1225.1 995.1Q1225.8 994.9 1226.5 995.1Q1227.3 995.3 1228.0 995.9Q1228.7 996.5 1229.5 997.8Q1230.3 999.1 1231.2 1001.2Q1232.0 1003.3 1232.7 1006.0Q1233.4 1008.8 1234.0 1012.1Q1234.6 1015.4 1235.0 1019.3Q1235.5 1023.2 1235.8 1027.7Q1236.2 1032.1 1236.5 1038.0Q1236.8 1043.9 1236.9 1045.0L1237.1 1046.0Q1237.4 1046.0 1237.5 1046.0L1237.5 1046.0L1237.6 1039.6Q1237.7 1039.6 1237.8 1039.6Q1237.8 1039.6 1237.9 1039.6L1238.1 1039.6Q1238.4 1037.5 1238.7 1031.6Q1239.0 1025.7 1239.3 1021.2Q1239.7 1016.8 1240.2 1012.9Q1240.7 1009.0 1241.2 1005.7Q1241.8 1002.4 1242.5 999.6Q1243.3 996.9 1244.1 994.8Q1244.9 992.7 1245.8 991.4Q1246.6 990.1 1247.3 989.5Q1248.0 988.9 1248.7 988.7Q1249.4 988.5 1250.1 988.7Q1250.8 988.9 1251.5 989.5Q1252.2 990.1 1253.0 991.4Q1253.8 992.7 1254.7 994.8Q1255.5 996.9 1256.2 999.6Q1256.9 1002.4 1257.5 1005.7Q1258.1 1009.0 1258.5 1012.9Q1259.0 1016.8 1259.3 1021.2Q1259.7 1025.7 1260.0 1031.6Q1260.3 1037.5 1260.5 1043.7Q1260.7 1049.9 1260.8 1057.6Q1260.9 1065.3 1261.0 1069.8Q1261.0 1074.4 1261.0 1075.7L1261.1 1076.9L1261.2 1076.9Q1261.4 1067.9 1261.5 1060.2Q1261.6 1052.5 1261.8 1046.3Q1262.0 1040.1 1262.3 1034.2Q1262.6 1028.2 1262.9 1023.8Q1263.3 1019.4 1263.8 1015.5Q1264.2 1011.6 1264.8 1008.2Q1265.4 1004.9 1266.1 1002.2Q1266.8 999.5 1267.6 997.4Q1268.4 995.3 1269.2 994.0Q1270.1 992.7 1270.8 992.1Q1271.5 991.5 1272.2 991.3Q1272.9 991.1 1273.6 991.3Q1274.3 991.5 1275.0 992.1Q1275.7 992.7 1276.6 994.0Q1277.4 995.3 1278.2 997.4Q1279.0 999.5 1279.7 1002.2Q1280.4 1004.9 1281.0 1008.2Q1281.6 1011.6 1282.1 1015.5Q1282.6 1019.4 1282.9 1023.8Q1283.3 1028.2 1283.5 1034.2Q1283.8 1040.1 1284.0 1046.3Q1284.2 1052.5 1284.3 1060.2Q1284.4 1067.9 1284.5 1071.6L1284.6 1075.3L1284.7 1067.8L1284.8 1067.8Q1284.9 1060.4 1285.0 1052.7Q1285.1 1045.0 1285.3 1038.8Q1285.5 1032.6 1285.8 1026.7Q1286.1 1020.7 1286.4 1016.3Q1286.8 1011.9 1287.2 1008.0Q1287.7 1004.1 1288.3 1000.8Q1288.9 997.4 1289.6 994.7Q1290.3 992.0 1291.2 989.9Q1292.0 987.8 1292.8 986.5Q1293.6 985.2 1294.3 984.6Q1295.0 984.0 1295.7 983.8Q1296.4 983.6 1297.1 983.8Q1297.8 984.0 1298.5 984.6Q1299.3 985.2 1300.1 986.5Q1300.9 987.8 1301.8 989.9Q1302.6 992.0 1303.3 994.7Q1304.0 997.4 1304.5 1000.8Q1305.1 1004.1 1305.6 1008.0Q1306.1 1011.9 1306.4 1016.3Q1306.8 1020.7 1307.1 1026.7Q1307.4 1032.6 1307.6 1038.8Q1307.7 1045.0 1307.8 1052.7Q1308.0 1060.4 1308.0 1066.0Q1308.1 1071.6 1308.2 1072.5L1308.2 1073.5L1308.3 1073.5Q1308.4 1062.2 1308.6 1054.6Q1308.7 1046.9 1308.8 1040.7Q1309.0 1034.5 1309.3 1028.5Q1309.6 1022.6 1309.9 1018.2Q1310.3 1013.8 1310.8 1009.8Q1311.3 1005.9 1311.8 1002.6Q1312.4 999.3 1313.1 996.6Q1313.8 993.9 1314.7 991.8Q1315.5 989.7 1316.3 988.4Q1317.1 987.1 1317.8 986.5Q1318.6 985.8 1319.3 985.6Q1320.0 985.5 1320.7 985.6Q1321.4 985.8 1322.1 986.5Q1322.8 987.1 1323.6 988.4Q1324.4 989.7 1325.2 991.8Q1326.1 993.9 1326.8 996.6Q1327.5 999.3 1328.1 1002.6Q1328.7 1005.9 1329.2 1009.8Q1329.6 1013.8 1329.9 1018.2Q1330.3 1022.6 1330.6 1028.5Q1330.9 1034.5 1331.1 1040.7Q1331.3 1046.9 1331.4 1051.5L1331.5 1056.1L1331.6 1056.1L1331.7 1060.7Q1331.8 1060.7 1331.9 1060.7L1332.0 1060.7Q1332.2 1051.5 1332.4 1045.3Q1332.6 1039.1 1332.8 1033.2Q1333.1 1027.2 1333.4 1022.8Q1333.8 1018.4 1334.3 1014.5Q1334.8 1010.5 1335.4 1007.2Q1336.0 1003.9 1336.7 1001.1Q1337.4 998.4 1338.2 996.3Q1339.0 994.2 1339.8 993.0Q1340.7 991.7 1341.4 991.0Q1342.1 990.4 1342.8 990.2Q1343.5 990.0 1344.2 990.2Q1344.9 990.4 1345.6 991.0Q1346.3 991.7 1347.2 993.0Q1348.0 994.2 1348.8 996.3Q1349.6 998.4 1350.3 1001.1Q1351.0 1003.9 1351.6 1007.2Q1352.2 1010.5 1352.7 1014.5Q1353.1 1018.4 1353.4 1022.8Q1353.8 1027.2 1354.1 1033.2Q1354.4 1039.1 1354.6 1039.8L1354.8 1040.5Q1355.0 1040.5 1355.1 1040.5L1355.2 1040.5L1355.3 1035.5Q1355.4 1035.5 1355.5 1035.5Q1355.5 1035.5 1355.6 1035.5L1355.7 1035.5Q1356.1 1034.1 1356.4 1028.2Q1356.7 1022.2 1357.1 1017.8Q1357.4 1013.4 1357.8 1009.5Q1358.3 1005.5 1358.9 1002.2Q1359.5 998.9 1360.2 996.1Q1360.9 993.4 1361.8 991.3Q1362.6 989.2 1363.4 987.9Q1364.2 986.6 1364.9 986.0Q1365.6 985.4 1366.3 985.2Q1367.0 985.0 1367.7 985.2Q1368.4 985.4 1369.1 986.0Q1369.8 986.6 1370.7 987.9Q1371.5 989.2 1372.3 991.3Q1373.1 993.4 1373.8 996.1Q1374.6 998.9 1375.2 1002.2Q1375.7 1005.5 1376.2 1009.5Q1376.7 1013.4 1377.1 1017.8Q1377.4 1022.2 1377.7 1028.2Q1378.0 1034.1 1378.2 1039.9L1378.3 1045.7Q1378.6 1045.7 1378.7 1045.7L1378.7 1045.7L1378.8 1055.4Q1378.9 1055.4 1379.0 1055.4Q1379.0 1055.4 1379.2 1055.4L1379.3 1055.4Q1379.6 1043.9 1379.9 1038.0Q1380.2 1032.0 1380.6 1027.6Q1380.9 1023.2 1381.3 1019.2Q1381.8 1015.3 1382.4 1012.0Q1383.0 1008.7 1383.7 1006.0Q1384.4 1003.2 1385.2 1001.1Q1386.1 999.0 1386.9 997.7Q1387.7 996.4 1388.4 995.8Q1389.1 995.2 1389.8 995.0Q1390.6 994.8 1391.3 995.0Q1392.0 995.2 1392.7 995.8Q1393.4 996.4 1394.2 997.7Q1395.0 999.0 1395.8 1001.1Q1396.7 1003.2 1397.4 1006.0Q1398.1 1008.7 1398.7 1012.0Q1399.3 1015.3 1399.8 1019.2Q1400.2 1023.2 1400.6 1027.6Q1400.9 1032.0 1401.2 1038.0Q1401.5 1043.9 1401.7 1050.1Q1401.8 1056.2 1401.9 1063.9Q1402.1 1071.6 1402.2 1072.8L1402.2 1073.9L1402.3 1063.3L1402.4 1063.3Q1402.6 1061.0 1402.7 1053.3Q1402.8 1045.7 1402.9 1039.5Q1403.1 1033.3 1403.4 1027.3Q1403.7 1021.4 1404.1 1017.0Q1404.4 1012.6 1404.9 1008.7Q1405.4 1004.7 1406.0 1001.4Q1406.6 998.1 1407.3 995.4Q1408.0 992.6 1408.8 990.5Q1409.6 988.4 1410.4 987.1Q1411.3 985.8 1412.0 985.2Q1412.7 984.6 1413.4 984.4Q1414.1 984.2 1414.8 984.4Q1415.5 984.6 1416.2 985.2Q1416.9 985.8 1417.8 987.1Q1418.6 988.4 1419.4 990.5Q1420.2 992.6 1420.9 995.4Q1421.6 998.1 1422.2 1001.4Q1422.8 1004.7 1423.2 1008.7Q1423.7 1012.6 1424.1 1017.0Q1424.4 1021.4 1424.7 1027.3Q1425.0 1033.3 1425.2 1039.5Q1425.4 1045.7 1425.5 1053.3Q1425.6 1061.0 1425.7 1061.6L1425.8 1062.2Q1425.9 1061.9 1426.0 1061.3Q1426.1 1060.7 1426.2 1053.1Q1426.3 1045.4 1426.5 1039.2Q1426.7 1033.0 1427.0 1027.0Q1427.3 1021.1 1427.7 1016.7Q1428.0 1012.3 1428.5 1008.3Q1428.9 1004.4 1429.5 1001.1Q1430.1 997.8 1430.8 995.1Q1431.5 992.4 1432.3 990.3Q1433.1 988.2 1433.9 986.9Q1434.8 985.6 1435.5 985.0Q1436.2 984.3 1436.9 984.1Q1437.6 983.9 1438.3 984.1Q1439.0 984.3 1439.7 985.0Q1440.4 985.6 1441.2 986.9Q1442.1 988.2 1442.9 990.3Q1443.7 992.4 1444.4 995.1Q1445.1 997.8 1445.7 1001.1Q1446.3 1004.4 1446.8 1008.3Q1447.3 1012.3 1447.7 1016.7Q1448.0 1021.1 1448.3 1027.0Q1448.6 1033.0 1448.8 1039.2Q1448.9 1045.4 1449.0 1051.4L1449.1 1057.4Q1449.3 1057.4 1449.3 1057.3Q1449.4 1057.2 1449.5 1057.2Q1449.5 1057.2 1449.5 1057.2L1449.6 1057.2Q1449.9 1045.2 1450.1 1039.0Q1450.2 1032.8 1450.5 1026.8Q1450.8 1020.9 1451.2 1016.5Q1451.5 1012.1 1452.0 1008.2Q1452.4 1004.3 1453.0 1001.0Q1453.6 997.6 1454.3 994.9Q1455.0 992.2 1455.8 990.1Q1456.7 988.0 1457.5 986.7Q1458.3 985.4 1459.0 984.8Q1459.7 984.2 1460.4 984.0Q1461.1 983.8 1461.8 984.0Q1462.6 984.2 1463.3 984.8Q1464.0 985.4 1464.8 986.7Q1465.6 988.0 1466.4 990.1Q1467.3 992.2 1468.0 994.9Q1468.7 997.6 1469.3 1001.0Q1469.9 1004.3 1470.3 1008.2Q1470.8 1012.1 1471.2 1016.5Q1471.5 1020.9 1471.8 1026.8Q1472.1 1032.8 1472.2 1033.3L1472.4 1033.8Q1472.7 1033.8 1472.8 1033.8L1472.8 1033.8L1472.9 1044.3Q1473.0 1044.3 1473.0 1044.3Q1473.1 1044.3 1473.2 1044.3L1473.4 1044.3Q1473.7 1043.2 1474.0 1037.3Q1474.3 1031.4 1474.7 1027.0Q1475.0 1022.5 1475.5 1018.6Q1476.0 1014.7 1476.5 1011.4Q1477.1 1008.0 1477.8 1005.3Q1478.6 1002.6 1479.4 1000.5Q1480.2 998.4 1481.1 997.1Q1481.9 995.8 1482.6 995.2Q1483.3 994.6 1484.0 994.4Q1484.7 994.2 1485.4 994.4Q1486.1 994.6 1486.8 995.2Q1487.5 995.8 1488.3 997.1Q1489.1 998.4 1489.9 1000.5Q1490.8 1002.6 1491.5 1005.3Q1492.2 1008.0 1492.8 1011.4Q1493.4 1014.7 1493.8 1018.6Q1494.3 1022.5 1494.7 1027.0Q1495.0 1031.4 1495.3 1037.3Q1495.6 1043.2 1495.8 1047.7L1496.0 1052.2Q1496.2 1052.2 1496.2 1052.2L1496.3 1052.2L1496.4 1043.0Q1496.5 1043.0 1496.6 1043.0Q1496.7 1043.0 1496.8 1043.0L1496.9 1043.0Q1497.3 1034.0 1497.6 1028.1Q1497.9 1022.2 1498.2 1017.8Q1498.6 1013.3 1499.0 1009.4Q1499.5 1005.5 1500.1 1002.2Q1500.7 998.9 1501.4 996.1Q1502.1 993.4 1502.9 991.3Q1503.7 989.2 1504.6 987.9Q1505.4 986.6 1506.1 986.0Q1506.8 985.4 1507.5 985.2Q1508.2 985.0 1508.9 985.2Q1509.6 985.4 1510.3 986.0Q1511.0 986.6 1511.8 987.9Q1512.7 989.2 1513.5 991.3Q1514.3 993.4 1515.0 996.1Q1515.7 998.9 1516.3 1002.2Q1516.9 1005.5 1517.4 1009.4Q1517.9 1013.3 1518.2 1017.8Q1518.6 1022.2 1518.8 1028.1Q1519.1 1034.0 1519.3 1040.2Q1519.5 1046.4 1519.6 1054.1Q1519.7 1061.8 1519.8 1062.4Q1519.9 1063.0 1520.0 1067.6L1520.0 1072.2L1520.1 1072.2Q1520.2 1071.0 1520.3 1063.3Q1520.4 1055.6 1520.6 1049.4Q1520.8 1043.2 1521.1 1037.3Q1521.4 1031.4 1521.8 1027.0Q1522.1 1022.5 1522.5 1018.6Q1523.0 1014.7 1523.6 1011.4Q1524.2 1008.1 1524.9 1005.4Q1525.6 1002.6 1526.4 1000.5Q1527.3 998.4 1528.1 997.1Q1528.9 995.8 1529.6 995.2Q1530.3 994.6 1531.0 994.4Q1531.7 994.2 1532.4 994.4Q1533.1 994.6 1533.8 995.2Q1534.6 995.8 1535.4 997.1Q1536.2 998.4 1537.1 1000.5Q1537.9 1002.6 1538.6 1005.4Q1539.3 1008.1 1539.8 1011.4Q1540.4 1014.7 1540.9 1018.6Q1541.4 1022.5 1541.8 1027.0Q1542.1 1031.4 1542.4 1037.3Q1542.7 1043.2 1542.8 1049.2L1543.0 1055.2Q1543.3 1055.2 1543.3 1055.2L1543.4 1055.2L1543.5 1056.5Q1543.6 1056.5 1543.7 1056.5Q1543.7 1056.5 1543.8 1056.5L1544.0 1056.5Q1544.3 1044.5 1544.6 1038.5Q1544.9 1032.6 1545.2 1028.2Q1545.6 1023.8 1546.1 1019.9Q1546.6 1016.0 1547.2 1012.6Q1547.7 1009.3 1548.4 1006.6Q1549.1 1003.9 1549.9 1001.8Q1550.8 999.7 1551.6 998.4Q1552.4 997.1 1553.2 996.5Q1553.9 995.9 1554.6 995.7Q1555.3 995.5 1556.0 995.7Q1556.7 995.9 1557.4 996.5Q1558.1 997.1 1558.9 998.4Q1559.7 999.7 1560.6 1001.8Q1561.4 1003.9 1562.1 1006.6Q1562.8 1009.3 1563.4 1012.6Q1564.0 1016.0 1564.5 1019.9Q1564.9 1023.8 1565.2 1028.2Q1565.6 1032.6 1565.9 1038.5Q1566.2 1044.5 1566.4 1050.7Q1566.6 1056.9 1566.7 1061.5L1566.8 1066.0L1566.9 1066.0L1567.0 1062.0Q1567.1 1062.0 1567.2 1062.0L1567.3 1062.0Q1567.5 1052.9 1567.7 1046.7Q1567.9 1040.5 1568.2 1034.5Q1568.4 1028.6 1568.8 1024.2Q1569.1 1019.8 1569.6 1015.9Q1570.1 1012.0 1570.7 1008.6Q1571.3 1005.3 1572.0 1002.6Q1572.7 999.9 1573.5 997.8Q1574.3 995.7 1575.2 994.4Q1576.0 993.1 1576.7 992.5Q1577.4 991.9 1578.1 991.7Q1578.8 991.5 1579.5 991.7Q1580.2 991.9 1580.9 992.5Q1581.6 993.1 1582.4 994.4Q1583.3 995.7 1584.1 997.8Q1584.9 999.9 1585.6 1002.6Q1586.3 1005.3 1586.9 1008.6Q1587.5 1012.0 1588.0 1015.9Q1588.4 1019.8 1588.8 1024.2Q1589.1 1028.6 1589.4 1034.5Q1589.7 1040.5 1589.9 1046.7Q1590.1 1052.9 1590.2 1060.6Q1590.3 1068.3 1590.4 1070.9Q1590.5 1073.5 1590.5 1075.3L1590.6 1077.2L1590.7 1077.2Q1590.8 1072.0 1590.9 1064.3Q1591.0 1056.6 1591.2 1050.4Q1591.4 1044.2 1591.7 1038.2Q1592.0 1032.3 1592.3 1027.9Q1592.7 1023.5 1593.2 1019.6Q1593.6 1015.7 1594.2 1012.4Q1594.8 1009.0 1595.5 1006.3Q1596.2 1003.6 1597.1 1001.5Q1597.9 999.4 1598.7 998.1Q1599.5 996.8 1600.2 996.2Q1600.9 995.6 1601.6 995.4Q1602.3 995.2 1603.0 995.4Q1603.7 995.6 1604.4 996.2Q1605.1 996.8 1605.9 998.1Q1606.8 999.4 1607.6 1001.5Q1608.4 1003.6 1609.2 1006.3Q1609.9 1009.0 1610.5 1012.4Q1611.0 1015.7 1611.5 1019.6Q1612.0 1023.5 1612.3 1027.9Q1612.7 1032.3 1613.0 1038.2Q1613.3 1044.2 1613.4 1050.4Q1613.6 1056.6 1613.8 1064.0L1613.9 1071.4L1614.0 1071.4L1614.1 1071.8Q1614.2 1071.8 1614.2 1071.8L1614.3 1071.8Q1614.6 1056.9 1614.8 1050.8Q1614.9 1044.6 1615.2 1038.7Q1615.5 1032.7 1615.8 1028.3Q1616.2 1023.9 1616.7 1020.0Q1617.1 1016.0 1617.7 1012.7Q1618.3 1009.4 1619.0 1006.6Q1619.7 1003.9 1620.6 1001.8Q1621.4 999.7 1622.2 998.4Q1623.0 997.1 1623.7 996.5Q1624.4 995.9 1625.2 995.7Q1625.9 995.5 1626.6 995.7Q1627.3 995.9 1628.0 996.5Q1628.7 997.1 1629.5 998.4Q1630.3 999.7 1631.2 1001.8Q1632.0 1003.9 1632.7 1006.6Q1633.4 1009.4 1634.0 1012.7Q1634.6 1016.0 1635.0 1020.0Q1635.5 1023.9 1635.8 1028.3Q1636.2 1032.7 1636.5 1038.7Q1636.8 1044.6 1636.9 1050.8Q1637.1 1056.9 1637.2 1064.6Q1637.4 1072.3 1637.5 1075.9L1637.5 1079.5L1637.6 1070.1L1637.7 1070.1Q1637.9 1063.0 1638.0 1055.3Q1638.1 1047.6 1638.2 1041.4Q1638.4 1035.2 1638.7 1029.2Q1639.0 1023.3 1639.3 1018.9Q1639.7 1014.5 1640.2 1010.6Q1640.7 1006.7 1641.3 1003.4Q1641.9 1000.0 1642.6 997.3Q1643.3 994.6 1644.1 992.5Q1644.9 990.4 1645.8 989.1Q1646.6 987.8 1647.3 987.2Q1648.0 986.6 1648.7 986.4Q1649.4 986.2 1650.1 986.4Q1650.8 986.6 1651.5 987.2Q1652.2 987.8 1653.1 989.1Q1653.9 990.4 1654.7 992.5Q1655.5 994.6 1656.2 997.3Q1656.9 1000.0 1657.5 1003.4Q1658.1 1006.7 1658.5 1010.6Q1659.0 1014.5 1659.3 1018.9Q1659.7 1023.3 1660.0 1029.2Q1660.3 1035.2 1660.5 1041.4Q1660.7 1047.6 1660.8 1048.8L1660.9 1049.9L1661.1 1049.9L1661.2 1048.0L1661.4 1048.0Q1661.6 1045.7 1661.8 1039.6Q1662.0 1033.4 1662.3 1027.5Q1662.6 1021.5 1662.9 1017.0Q1663.3 1012.6 1663.8 1008.7Q1664.2 1004.8 1664.8 1001.5Q1665.4 998.2 1666.1 995.5Q1666.8 992.7 1667.6 990.6Q1668.4 988.5 1669.2 987.2Q1670.1 985.9 1670.8 985.3Q1671.5 984.7 1672.2 984.5Q1672.9 984.3 1673.6 984.5Q1674.3 984.7 1675.0 985.3Q1675.7 985.9 1676.6 987.2Q1677.4 988.5 1678.2 990.6Q1679.0 992.7 1679.7 995.5Q1680.4 998.2 1681.0 1001.5Q1681.6 1004.8 1682.1 1008.7Q1682.6 1012.6 1682.9 1017.0Q1683.3 1021.5 1683.6 1027.5Q1683.9 1033.4 1684.1 1036.7L1684.2 1039.9Q1684.4 1039.9 1684.5 1039.9L1684.6 1039.9L1684.7 1038.4Q1684.8 1038.4 1684.8 1038.4Q1684.9 1038.4 1685.1 1038.4L1685.2 1038.4Q1685.5 1031.9 1685.8 1026.0Q1686.1 1020.1 1686.4 1015.7Q1686.8 1011.2 1687.2 1007.3Q1687.7 1003.4 1688.3 1000.1Q1688.9 996.8 1689.6 994.0Q1690.3 991.3 1691.2 989.2Q1692.0 987.1 1692.8 985.8Q1693.6 984.5 1694.3 983.9Q1695.0 983.3 1695.7 983.1Q1696.4 982.9 1697.2 983.1Q1697.9 983.3 1698.6 983.9Q1699.3 984.5 1700.1 985.8Q1700.9 987.1 1701.8 989.2Q1702.6 991.3 1703.3 994.0Q1704.0 996.8 1704.6 1000.1Q1705.2 1003.4 1705.7 1007.3Q1706.1 1011.2 1706.4 1015.7Q1706.8 1020.1 1707.1 1026.0Q1707.4 1031.9 1707.6 1038.1L1707.7 1044.3Q1708.0 1044.4 1708.0 1044.4L1708.1 1044.4L1708.2 1051.9Q1708.3 1051.9 1708.3 1051.9Q1708.4 1051.9 1708.6 1051.9L1708.7 1051.9Q1709.0 1039.5 1709.3 1033.5Q1709.6 1027.6 1709.9 1023.2Q1710.3 1018.8 1710.8 1014.8Q1711.3 1010.9 1711.8 1007.6Q1712.4 1004.3 1713.2 1001.6Q1713.9 998.9 1714.7 996.8Q1715.5 994.7 1716.3 993.4Q1717.2 992.1 1717.9 991.5Q1718.6 990.8 1719.3 990.6Q1720.0 990.4 1720.7 990.6Q1721.4 990.8 1722.1 991.5Q1722.8 992.1 1723.6 993.4Q1724.4 994.7 1725.2 996.8Q1726.1 998.9 1726.8 1001.6Q1727.5 1004.3 1728.1 1007.6Q1728.7 1010.9 1729.2 1014.8Q1729.6 1018.8 1729.9 1023.2Q1730.3 1027.6 1730.6 1033.5Q1730.9 1039.5 1731.1 1040.0L1731.3 1040.6Q1731.5 1040.6 1731.5 1040.6L1731.6 1040.6L1731.7 1041.6Q1731.8 1041.6 1731.9 1041.6Q1732.0 1041.6 1732.1 1041.6L1732.2 1041.6Q1732.6 1040.5 1732.9 1034.5Q1733.2 1028.6 1733.6 1024.2Q1733.9 1019.8 1734.3 1015.9Q1734.8 1012.0 1735.4 1008.6Q1736.0 1005.3 1736.7 1002.6Q1737.4 999.9 1738.2 997.8Q1739.0 995.7 1739.8 994.4Q1740.7 993.1 1741.4 992.5Q1742.1 991.9 1742.8 991.7Q1743.5 991.5 1744.2 991.7Q1744.9 991.9 1745.6 992.5Q1746.3 993.1 1747.2 994.4Q1748.0 995.7 1748.8 997.8Q1749.6 999.9 1750.3 1002.6Q1751.0 1005.3 1751.6 1008.6Q1752.2 1012.0 1752.7 1015.9Q1753.2 1019.8 1753.6 1024.2Q1753.9 1028.6 1754.2 1034.5Q1754.4 1040.5 1754.6 1046.7Q1754.8 1052.9 1754.9 1053.6L1755.0 1054.3L1755.2 1054.3L1755.3 1049.2Q1755.4 1049.2 1755.5 1049.2L1755.5 1049.2Q1755.7 1047.8 1755.9 1041.6Q1756.1 1035.4 1756.4 1029.5Q1756.7 1023.5 1757.1 1019.1Q1757.4 1014.7 1757.8 1010.8Q1758.3 1006.8 1758.9 1003.5Q1759.5 1000.2 1760.2 997.5Q1760.9 994.7 1761.8 992.7Q1762.6 990.6 1763.4 989.3Q1764.2 988.0 1764.9 987.4Q1765.6 986.7 1766.3 986.5Q1767.0 986.3 1767.7 986.5Q1768.4 986.7 1769.2 987.4Q1769.9 988.0 1770.7 989.3Q1771.5 990.6 1772.3 992.7Q1773.2 994.7 1773.9 997.5Q1774.6 1000.2 1775.2 1003.5Q1775.7 1006.8 1776.2 1010.8Q1776.7 1014.7 1777.1 1019.1Q1777.4 1023.5 1777.7 1029.5Q1778.0 1035.4 1778.2 1041.6Q1778.3 1047.8 1778.4 1055.4Q1778.6 1063.1 1778.7 1073.3Q1778.7 1083.5 1778.8 1086.6L1778.8 1089.7Q1778.9 1085.8 1779.0 1075.7Q1779.0 1065.5 1779.2 1057.8Q1779.3 1050.1 1779.4 1043.9Q1779.6 1037.8 1779.9 1031.8Q1780.2 1025.9 1780.6 1021.5Q1780.9 1017.1 1781.4 1013.2Q1781.9 1009.2 1782.5 1005.9Q1783.0 1002.6 1783.7 999.9Q1784.4 997.1 1785.2 995.0Q1786.1 992.9 1786.9 991.6Q1787.7 990.3 1788.5 989.7Q1789.2 989.1 1789.9 988.9Q1790.6 988.7 1791.3 988.9Q1792.0 989.1 1792.7 989.7Q1793.4 990.3 1794.2 991.6Q1795.0 992.9 1795.8 995.0Q1796.7 997.1 1797.4 999.9Q1798.1 1002.6 1798.7 1005.9Q1799.3 1009.2 1799.8 1013.2Q1800.2 1017.1 1800.6 1021.5Q1800.9 1025.9 1801.2 1031.8Q1801.5 1037.8 1801.7 1043.9Q1801.9 1050.1 1802.0 1050.4L1802.1 1050.7Q1802.2 1050.7 1802.2 1050.7Q1802.3 1050.7 1802.3 1050.7Q1802.4 1050.7 1802.5 1050.7Q1802.6 1050.7 1802.7 1050.5Q1802.8 1050.2 1803.0 1044.0Q1803.2 1037.8 1803.5 1031.8Q1803.7 1025.9 1804.1 1021.5Q1804.4 1017.1 1804.9 1013.2Q1805.4 1009.2 1806.0 1005.9Q1806.6 1002.6 1807.3 999.9Q1808.0 997.1 1808.8 995.0Q1809.6 992.9 1810.4 991.6Q1811.3 990.4 1812.0 989.8Q1812.7 989.1 1813.4 988.9Q1814.1 988.7 1814.8 988.9Q1815.5 989.1 1816.2 989.8Q1816.9 990.4 1817.8 991.6Q1818.6 992.9 1819.4 995.0Q1820.2 997.1 1820.9 999.9Q1821.6 1002.6 1822.2 1005.9Q1822.8 1009.2 1823.2 1013.2Q1823.7 1017.1 1824.1 1021.5Q1824.4 1025.9 1824.7 1031.8Q1825.0 1037.8 1825.2 1044.0Q1825.4 1050.2 1825.5 1057.8L1825.6 1065.5L1825.8 1065.5L1825.9 1059.6Q1826.0 1059.6 1826.0 1059.6L1826.1 1059.6Q1826.3 1044.2 1826.5 1038.0Q1826.7 1031.8 1827.0 1025.9Q1827.3 1020.0 1827.7 1015.5Q1828.0 1011.1 1828.5 1007.2Q1828.9 1003.3 1829.5 1000.0Q1830.1 996.6 1830.8 993.9Q1831.5 991.2 1832.3 989.1Q1833.2 987.0 1834.0 985.7Q1834.8 984.4 1835.5 983.8Q1836.2 983.2 1836.9 983.0Q1837.6 982.8 1838.3 983.0Q1839.0 983.2 1839.7 983.8Q1840.4 984.4 1841.2 985.7Q1842.1 987.0 1842.9 989.1Q1843.7 991.2 1844.5 993.9Q1845.2 996.6 1845.8 1000.0Q1846.3 1003.3 1846.8 1007.2Q1847.3 1011.1 1847.7 1015.5Q1848.0 1020.0 1848.3 1025.9Q1848.6 1031.8 1848.8 1038.0Q1848.9 1044.2 1849.1 1051.9Q1849.2 1059.6 1849.2 1064.8L1849.3 1069.9L1849.4 1069.4L1849.5 1069.4Q1849.6 1059.1 1849.8 1051.4Q1849.9 1043.7 1850.1 1037.5Q1850.2 1031.3 1850.5 1025.4Q1850.8 1019.5 1851.2 1015.0Q1851.5 1010.6 1852.0 1006.7Q1852.4 1002.8 1853.0 999.5Q1853.6 996.2 1854.3 993.5Q1855.0 990.7 1855.8 988.6Q1856.7 986.5 1857.5 985.2Q1858.3 983.9 1859.0 983.3Q1859.7 982.7 1860.5 982.5Q1861.2 982.3 1861.9 982.5Q1862.6 982.7 1863.3 983.3Q1864.0 983.9 1864.8 985.2Q1865.6 986.5 1866.4 988.6Q1867.3 990.7 1868.0 993.5Q1868.7 996.2 1869.3 999.5Q1869.9 1002.8 1870.3 1006.7Q1870.8 1010.6 1871.2 1015.0Q1871.5 1019.5 1871.8 1025.4Q1872.1 1031.3 1872.2 1037.5Q1872.4 1043.7 1872.6 1051.4Q1872.7 1059.1 1872.8 1059.9Q1872.8 1060.8 1872.8 1066.5L1872.9 1072.3L1873.0 1072.3Q1873.2 1070.6 1873.3 1062.9Q1873.4 1055.2 1873.6 1049.1Q1873.7 1042.9 1874.0 1037.0Q1874.3 1031.0 1874.7 1026.6Q1875.0 1022.2 1875.5 1018.2Q1876.0 1014.3 1876.6 1011.0Q1877.2 1007.7 1877.9 1005.0Q1878.6 1002.2 1879.4 1000.1Q1880.2 998.0 1881.1 996.7Q1881.9 995.4 1882.6 994.8Q1883.3 994.2 1884.0 994.0Q1884.7 993.8 1885.4 994.0Q1886.1 994.2 1886.8 994.8Q1887.5 995.4 1888.3 996.7Q1889.2 998.0 1890.0 1000.1Q1890.8 1002.2 1891.5 1005.0Q1892.2 1007.7 1892.8 1011.0Q1893.4 1014.3 1893.8 1018.2Q1894.3 1022.2 1894.7 1026.6Q1895.0 1031.0 1895.3 1037.0Q1895.6 1042.9 1895.8 1043.7L1896.0 1044.5Q1896.2 1044.5 1896.3 1044.5L1896.4 1044.5L1896.5 1043.7Q1896.7 1043.7 1896.8 1043.7L1896.9 1043.7Q1897.3 1042.1 1897.6 1036.2Q1897.9 1030.2 1898.2 1025.8Q1898.6 1021.4 1899.0 1017.5Q1899.5 1013.5 1900.1 1010.2Q1900.7 1006.9 1901.4 1004.1Q1902.1 1001.4 1902.9 999.3Q1903.7 997.2 1904.6 995.9Q1905.4 994.6 1906.1 994.0Q1906.8 993.4 1907.5 993.2Q1908.2 993.0 1908.9 993.2Q1909.6 993.4 1910.3 994.0Q1911.0 994.6 1911.8 995.9Q1912.7 997.2 1913.5 999.3Q1914.3 1001.4 1915.0 1004.1Q1915.7 1006.9 1916.3 1010.2Q1916.9 1013.5 1917.4 1017.5Q1917.9 1021.4 1918.2 1025.8Q1918.6 1030.2 1918.9 1036.2Q1919.2 1042.1 1919.3 1048.2Q1919.5 1054.4 1919.6 1055.7L1919.7 1056.9L1919.9 1056.9L1920.0 1054.0Q1920.1 1054.0 1920.2 1054.0L1920.2 1054.0Q1920.5 1051.5 1920.7 1045.3Q1920.8 1039.1 1921.1 1033.2Q1921.4 1027.3 1921.8 1022.8Q1922.1 1018.4 1922.5 1014.5Q1923.0 1010.6 1923.6 1007.2Q1924.2 1003.9 1924.9 1001.2Q1925.6 998.5 1926.4 996.4Q1927.3 994.3 1928.1 993.0Q1928.9 991.7 1929.6 991.1Q1930.3 990.5 1931.0 990.3Q1931.7 990.1 1932.5 990.3Q1933.2 990.5 1933.9 991.1Q1934.6 991.7 1935.4 993.0Q1936.2 994.3 1937.1 996.4Q1937.9 998.5 1938.6 1001.2Q1939.3 1003.9 1939.9 1007.2Q1940.5 1010.6 1941.0 1014.5Q1941.4 1018.4 1941.8 1022.8Q1942.1 1027.3 1942.4 1033.2Q1942.7 1039.1 1942.8 1045.3Q1943.0 1051.5 1943.2 1059.2Q1943.3 1066.9 1943.3 1077.1Q1943.4 1087.2 1943.5 1088.0L1943.5 1088.7Q1943.6 1079.8 1943.7 1069.6Q1943.7 1059.4 1943.8 1051.8Q1944.0 1044.1 1944.2 1037.9Q1944.3 1031.7 1944.6 1025.8Q1944.9 1019.8 1945.2 1015.4Q1945.6 1011.0 1946.1 1007.0Q1946.6 1003.1 1947.2 999.8Q1947.7 996.5 1948.5 993.8Q1949.2 991.1 1950.0 989.0Q1950.8 986.9 1951.7 985.6Q1952.5 984.3 1953.2 983.7Q1953.9 983.1 1954.6 982.9Q1955.3 982.7 1956.0 982.9Q1956.7 983.1 1957.4 983.7Q1958.1 984.3 1958.9 985.6Q1959.7 986.9 1960.6 989.0Q1961.4 991.1 1962.1 993.8Q1962.8 996.5 1963.4 999.8Q1964.0 1003.1 1964.5 1007.0Q1964.9 1011.0 1965.2 1015.4Q1965.6 1019.8 1965.9 1025.8Q1966.2 1031.7 1966.4 1035.6L1966.6 1039.5Q1966.8 1039.5 1966.8 1039.5L1966.9 1039.5L1967.0 1052.2Q1967.1 1052.2 1967.2 1052.2Q1967.3 1052.2 1967.4 1052.2L1967.5 1052.2Q1967.9 1044.4 1968.2 1038.5Q1968.5 1032.5 1968.8 1028.1Q1969.2 1023.7 1969.7 1019.8Q1970.1 1015.9 1970.7 1012.5Q1971.3 1009.2 1972.0 1006.5Q1972.7 1003.8 1973.5 1001.7Q1974.3 999.6 1975.2 998.3Q1976.0 997.0 1976.7 996.4Q1977.4 995.8 1978.1 995.6Q1978.8 995.4 1979.5 995.6Q1980.2 995.8 1980.9 996.4Q1981.6 997.0 1982.4 998.3Q1983.3 999.6 1984.1 1001.7Q1984.9 1003.8 1985.6 1006.5Q1986.3 1009.2 1986.9 1012.5Q1987.5 1015.9 1988.0 1019.8Q1988.5 1023.7 1988.8 1028.1Q1989.2 1032.5 1989.5 1038.5Q1989.7 1044.4 1989.9 1048.6L1990.1 1052.8Q1990.3 1052.8 1990.4 1052.8L1990.5 1052.8L1990.6 1050.0Q1990.7 1050.0 1990.8 1050.0Q1990.8 1050.0 1990.9 1050.0L1991.0 1050.0Q1991.4 1041.6 1991.7 1035.7Q1992.0 1029.7 1992.3 1025.3Q1992.7 1020.9 1993.2 1017.0Q1993.6 1013.1 1994.2 1009.8Q1994.8 1006.4 1995.5 1003.7Q1996.2 1001.0 1997.1 998.9Q1997.9 996.8 1998.7 995.5Q1999.5 994.2 2000.2 993.6Q2000.9 993.0 2001.6 992.8Q2002.3 992.6 2003.0 992.8Q2003.7 993.0 2004.5 993.6Q2005.2 994.2 2006.0 995.5Q2006.8 996.8 2007.7 998.9Q2008.5 1001.0 2009.2 1003.7Q2009.9 1006.4 2010.5 1009.8Q2011.0 1013.1 2011.5 1017.0Q2012.0 1020.9 2012.3 1025.3Q2012.7 1029.7 2013.0 1035.7Q2013.3 1041.6 2013.4 1047.8Q2013.6 1054.0 2013.8 1061.7Q2013.9 1069.4 2014.0 1073.7Q2014.0 1077.9 2014.0 1079.2L2014.1 1080.5L2014.2 1080.5Q2014.3 1072.0 2014.4 1064.3Q2014.6 1056.6 2014.8 1050.4Q2014.9 1044.2 2015.2 1038.2Q2015.5 1032.3 2015.8 1027.9Q2016.2 1023.5 2016.7 1019.6Q2017.2 1015.7 2017.8 1012.4Q2018.3 1009.0 2019.0 1006.3Q2019.7 1003.6 2020.6 1001.5Q2021.4 999.4 2022.2 998.1Q2023.0 996.8 2023.8 996.2Q2024.5 995.6 2025.2 995.4Q2025.9 995.2 2026.6 995.4Q2027.3 995.6 2028.0 996.2Q2028.7 996.8 2029.5 998.1Q2030.3 999.4 2031.2 1001.5Q2032.0 1003.6 2032.7 1006.3Q2033.4 1009.0 2034.0 1012.4Q2034.6 1015.7 2035.0 1019.6Q2035.5 1023.5 2035.8 1027.9Q2036.2 1032.3 2036.5 1038.2Q2036.8 1044.2 2037.0 1050.4Q2037.2 1056.6 2037.3 1057.4L2037.4 1058.3L2037.5 1058.3L2037.6 1050.1Q2037.7 1050.1 2037.8 1050.1L2037.9 1050.1Q2038.1 1048.4 2038.3 1042.2Q2038.5 1036.0 2038.8 1030.0Q2039.0 1024.1 2039.3 1019.7Q2039.7 1015.3 2040.2 1011.4Q2040.7 1007.5 2041.3 1004.1Q2041.9 1000.8 2042.6 998.1Q2043.3 995.4 2044.1 993.3Q2044.9 991.2 2045.8 989.9Q2046.6 988.6 2047.3 988.0Q2048.0 987.4 2048.7 987.2Q2049.4 987.0 2050.1 987.2Q2050.8 987.4 2051.5 988.0Q2052.2 988.6 2053.1 989.9Q2053.9 991.2 2054.7 993.3Q2055.5 995.4 2056.2 998.1Q2056.9 1000.8 2057.5 1004.1Q2058.1 1007.5 2058.6 1011.4Q2059.0 1015.3 2059.3 1019.7Q2059.7 1024.1 2060.0 1030.0Q2060.3 1036.0 2060.5 1042.2Q2060.7 1048.4 2060.8 1052.7L2060.9 1056.9L2061.1 1056.9L2061.2 1062.8Q2061.3 1062.8 2061.4 1062.8L2061.4 1062.8Q2061.6 1054.3 2061.8 1048.1Q2062.0 1041.9 2062.3 1036.0Q2062.6 1030.0 2062.9 1025.6Q2063.3 1021.2 2063.8 1017.2Q2064.2 1013.3 2064.8 1010.0Q2065.4 1006.7 2066.1 1004.0Q2066.8 1001.3 2067.7 999.2Q2068.5 997.1 2069.3 995.8Q2070.1 994.5 2070.8 993.9Q2071.5 993.3 2072.2 993.1Q2072.9 992.9 2073.6 993.1Q2074.3 993.3 2075.0 993.9Q2075.7 994.5 2076.6 995.8Q2077.4 997.1 2078.2 999.2Q2079.0 1001.3 2079.8 1004.0Q2080.5 1006.7 2081.1 1010.0Q2081.6 1013.3 2082.1 1017.2Q2082.6 1021.2 2082.9 1025.6Q2083.3 1030.0 2083.6 1036.0Q2083.9 1041.9 2084.1 1044.5L2084.2 1047.0Q2084.5 1047.0 2084.6 1047.0L2084.6 1047.0L2084.7 1046.6Q2084.8 1046.6 2084.9 1046.6Q2084.9 1046.6 2085.1 1046.6L2085.2 1046.6Q2085.5 1041.5 2085.8 1035.5Q2086.1 1029.6 2086.4 1025.2Q2086.8 1020.8 2087.2 1016.9Q2087.7 1013.0 2088.3 1009.6Q2088.9 1006.3 2089.6 1003.6Q2090.3 1000.9 2091.2 998.8Q2092.0 996.7 2092.8 995.4Q2093.6 994.1 2094.3 993.5Q2095.0 992.9 2096.5 992.5L2096.5 992.5" fill="none" stroke="#0072BD" stroke-width="8" stroke-linecap="round" stroke-linejoin="round" stroke-dasharray="7 19.5"/>
<path d="M202.9 1014.9Q210.1 1014.9 216.1 1016.2Q222.2 1017.5 228.2 1019.5Q234.3 1021.5 240.4 1024.5Q246.4 1027.5 251.4 1030.5Q256.5 1033.6 259.5 1036.1Q262.5 1038.6 266.6 1043.7Q270.6 1048.7 273.6 1055.8Q276.6 1062.8 278.4 1070.8Q280.2 1078.9 281.2 1089.0Q282.2 1099.0 282.8 1110.1Q283.3 1121.2 283.6 1125.8L283.9 1130.3Q284.7 1121.2 285.2 1112.2Q285.7 1103.1 286.7 1093.0Q287.7 1082.9 289.2 1074.8Q290.7 1066.8 293.2 1059.8Q295.7 1052.7 299.2 1047.7Q302.8 1042.6 306.8 1039.6Q310.8 1036.6 311.4 1036.4L311.4 1036.4" fill="none" stroke="#FF00FF" stroke-width="8.6" stroke-linecap="round" stroke-linejoin="round"/>
<path d="M351.5 1045.5Q354.1 1048.7 356.6 1054.8Q359.2 1060.8 361.0 1069.8Q362.8 1078.9 363.8 1089.0Q364.8 1099.0 365.5 1107.1L366.2 1115.2Q367.6 1103.1 368.6 1094.0Q369.7 1084.9 371.0 1076.8Q372.3 1068.8 374.3 1061.8Q376.3 1054.7 379.3 1048.7Q382.3 1042.6 385.9 1038.1Q389.4 1033.6 391.4 1032.0L391.4 1032.0" fill="none" stroke="#FF00FF" stroke-width="8.6" stroke-linecap="round" stroke-linejoin="round"/>
<path d="M433.2 1026.9Q439.7 1029.6 444.8 1033.1Q449.8 1036.6 453.9 1042.7Q457.9 1048.7 460.4 1055.8Q462.9 1062.8 464.6 1071.8Q466.3 1080.9 467.3 1092.0Q468.3 1103.1 469.0 1111.7L469.6 1120.2Q471.0 1109.1 471.7 1100.0Q472.4 1091.0 473.4 1082.0Q474.4 1072.9 475.7 1064.8Q477.0 1056.7 479.0 1049.7Q481.0 1042.6 484.1 1037.1Q487.1 1031.6 491.6 1028.0Q496.1 1024.5 501.1 1023.0Q506.2 1021.5 511.2 1021.5Q516.3 1021.5 521.3 1023.0Q526.4 1024.5 531.4 1027.0Q536.4 1029.6 540.5 1033.1Q544.5 1036.6 545.8 1037.9L545.8 1037.9" fill="none" stroke="#FF00FF" stroke-width="8.6" stroke-linecap="round" stroke-linejoin="round"/>
<path d="M567.4 1076.6Q569.7 1087.0 571.2 1098.0Q572.7 1109.1 573.9 1120.2Q575.1 1131.3 575.7 1132.8L576.3 1134.3Q577.7 1121.2 578.7 1110.1Q579.7 1099.0 581.2 1092.0L582.7 1084.9L580.0 1095.0Q584.0 1080.9 586.5 1078.4L589.1 1075.9Q594.1 1080.9 596.1 1088.0Q598.1 1095.0 599.3 1105.1Q600.5 1115.2 601.4 1121.7L602.2 1128.2Q603.8 1113.1 605.0 1101.0Q606.2 1089.0 608.2 1076.9Q610.2 1064.8 612.7 1056.8Q615.2 1048.7 619.2 1042.8L619.2 1042.8" fill="none" stroke="#FF00FF" stroke-width="8.6" stroke-linecap="round" stroke-linejoin="round"/>
<path d="M654.0 1011.3Q660.6 1008.4 665.6 1007.2Q670.6 1006.0 675.7 1005.4Q680.7 1004.8 685.8 1005.3Q690.8 1005.8 695.8 1007.1Q700.8 1008.4 708.4 1011.4L708.4 1011.4" fill="none" stroke="#FF00FF" stroke-width="8.6" stroke-linecap="round" stroke-linejoin="round"/>
<path d="M737.0 1046.3Q739.1 1054.7 740.1 1062.8Q741.1 1070.8 742.1 1080.9Q743.1 1091.0 744.0 1101.0Q744.8 1111.1 745.2 1115.2L745.6 1119.2Q746.8 1107.1 747.5 1097.0Q748.2 1087.0 749.2 1076.9Q750.2 1066.8 751.5 1058.8Q752.8 1050.7 754.5 1044.7Q756.2 1038.6 759.3 1033.8L759.3 1033.8" fill="none" stroke="#FF00FF" stroke-width="8.6" stroke-linecap="round" stroke-linejoin="round"/>
<path d="M798.1 1015.7Q803.6 1017.5 807.6 1019.5Q811.6 1021.5 815.7 1024.5Q819.7 1027.5 823.7 1032.0Q827.7 1036.6 830.8 1041.2Q833.8 1045.7 837.7 1051.5L837.7 1051.5" fill="none" stroke="#FF00FF" stroke-width="8.6" stroke-linecap="round" stroke-linejoin="round"/>
<path d="M844.1 1098.8Q844.9 1111.1 845.9 1118.2L846.9 1125.2Q848.9 1111.1 849.9 1101.0Q850.9 1091.0 852.4 1084.0Q853.9 1076.9 856.5 1071.3Q859.0 1065.8 862.5 1064.3Q866.0 1062.8 869.5 1064.8Q873.1 1066.8 875.6 1071.8Q878.1 1076.9 879.6 1085.0Q881.1 1093.0 882.1 1103.0Q883.1 1113.1 883.6 1120.2L884.1 1127.2Q885.7 1111.1 887.0 1101.0Q888.2 1091.0 890.2 1084.0Q892.2 1076.9 895.2 1070.8Q898.2 1064.8 901.2 1061.3Q904.3 1057.8 908.0 1055.6L908.0 1055.6" fill="none" stroke="#FF00FF" stroke-width="8.6" stroke-linecap="round" stroke-linejoin="round"/>
<path d="M936.0 1006.2Q936.5 960.0 936.9 938.0Q937.2 916.0 938.1 904.5L939.0 893.0Q943.0 898.0 945.0 924.0L947.0 950.0Q954.4 876.0 956.9 863.9Q959.4 851.8 963.5 841.8Q967.5 831.7 971.5 823.7Q975.5 815.6 979.5 810.0Q983.6 804.5 987.1 801.1Q990.6 797.8 993.7 796.1Q996.7 794.4 1000.7 793.2Q1004.7 792.0 1008.8 792.0Q1012.8 792.0 1016.8 792.7Q1020.8 793.4 1024.8 794.4Q1028.9 795.4 1031.9 795.9Q1034.9 796.4 1039.0 796.7Q1043.0 797.0 1047.8 801.2Q1052.7 805.5 1055.4 810.5Q1058.1 815.6 1059.9 822.7Q1061.7 829.7 1062.7 838.8Q1063.7 847.8 1064.2 859.9Q1064.8 872.0 1065.2 878.2L1065.6 884.4Q1066.6 867.9 1067.3 855.8Q1068.0 843.8 1069.2 834.2Q1070.4 824.6 1072.6 817.0Q1074.8 809.5 1078.5 805.0Q1082.3 800.5 1086.8 798.5Q1091.3 796.4 1094.8 797.1Q1098.4 797.8 1101.9 799.6Q1105.4 801.5 1108.5 802.3Q1111.5 803.1 1115.0 802.5Q1118.5 801.9 1122.0 800.5Q1125.6 799.0 1129.1 798.2Q1132.6 797.4 1136.7 798.5Q1140.7 799.5 1144.4 803.0Q1148.1 806.5 1151.9 812.0Q1155.8 817.6 1159.6 825.7Q1163.4 833.7 1167.0 843.8Q1170.5 853.8 1173.5 863.9Q1176.5 874.0 1179.0 884.0Q1181.6 894.1 1183.6 904.2Q1185.6 914.3 1187.6 926.3Q1189.6 938.4 1191.1 948.5Q1192.6 958.6 1193.2 964.4Q1193.7 970.1 1194.4 985.2Q1195.1 1000.4 1195.8 1008.5Q1196.5 1016.5 1200.3 1018.3Q1204.1 1020.1 1208.2 1020.8Q1212.2 1021.5 1216.2 1024.0Q1220.2 1026.5 1224.2 1031.0Q1228.3 1035.6 1231.3 1041.2Q1234.3 1046.7 1238.0 1056.3L1238.0 1056.3" fill="none" stroke="#FF00FF" stroke-width="8.6" stroke-linecap="round" stroke-linejoin="round"/>
<path d="M1244.6 1107.3Q1245.4 1095.0 1246.1 1087.0Q1246.8 1078.9 1247.6 1070.8Q1248.4 1062.8 1250.5 1053.8Q1252.5 1044.7 1256.0 1038.2Q1259.5 1031.6 1264.5 1026.0Q1269.6 1020.5 1275.2 1017.0Q1280.7 1013.4 1286.7 1010.9L1292.7 1008.4L1290.1 1010.4Q1300.1 1007.4 1305.2 1006.9Q1310.2 1006.4 1315.2 1006.6Q1320.3 1006.8 1326.7 1008.1L1326.7 1008.1" fill="none" stroke="#FF00FF" stroke-width="8.6" stroke-linecap="round" stroke-linejoin="round"/>
<path d="M1357.3 1040.3Q1359.6 1050.7 1361.1 1060.8Q1362.6 1070.8 1363.8 1080.9Q1365.0 1091.0 1365.8 1094.0L1366.6 1097.0Q1368.2 1082.9 1369.2 1072.8Q1370.2 1062.8 1371.7 1053.8Q1373.1 1044.7 1374.9 1037.7Q1376.7 1030.6 1379.7 1025.5Q1382.7 1020.5 1386.8 1017.0Q1390.8 1013.4 1395.8 1011.4Q1400.8 1009.4 1405.8 1008.6Q1410.9 1007.8 1416.0 1008.1Q1421.0 1008.4 1426.0 1009.9Q1431.1 1011.4 1436.1 1014.0Q1441.1 1016.5 1446.2 1020.0Q1451.2 1023.5 1456.2 1027.5Q1461.3 1031.6 1465.3 1036.1Q1469.3 1040.6 1475.2 1048.6L1475.2 1048.6" fill="none" stroke="#FF00FF" stroke-width="8.6" stroke-linecap="round" stroke-linejoin="round"/>
<path d="M1500.7 1146.6Q1501.6 1131.3 1502.6 1121.2Q1503.6 1111.1 1505.1 1104.0Q1506.6 1097.0 1509.1 1092.0Q1511.6 1087.0 1514.7 1083.0Q1517.7 1078.9 1520.7 1075.4Q1523.7 1071.9 1526.7 1067.8Q1529.7 1063.8 1533.8 1059.2Q1537.8 1054.7 1541.8 1051.2Q1545.9 1047.7 1550.9 1044.2Q1555.9 1040.6 1561.0 1038.1Q1566.0 1035.6 1571.0 1034.6Q1576.1 1033.6 1582.2 1032.6Q1588.2 1031.6 1597.4 1031.3L1597.4 1031.3" fill="none" stroke="#FF00FF" stroke-width="8.6" stroke-linecap="round" stroke-linejoin="round"/>
<path d="M1642.1 1033.7Q1648.6 1035.6 1653.7 1036.6Q1658.7 1037.6 1663.7 1037.8Q1668.7 1038.0 1675.0 1036.5Q1681.3 1035.0 1687.0 1034.2Q1692.7 1033.4 1698.3 1033.1Q1704.0 1032.7 1715.3 1036.7Q1726.6 1040.6 1734.5 1047.4Q1742.5 1054.2 1745.3 1059.9Q1748.2 1065.6 1750.5 1073.5Q1752.7 1081.4 1754.4 1090.5Q1756.1 1099.5 1757.2 1110.8Q1758.4 1122.2 1759.0 1134.7Q1759.5 1147.1 1759.9 1159.2L1759.9 1159.2" fill="none" stroke="#FF00FF" stroke-width="8.6" stroke-linecap="round" stroke-linejoin="round"/>
<path d="M1769.0 1070.0Q1772.0 1063.3 1775.4 1057.7Q1778.8 1052.0 1783.3 1046.3Q1787.8 1040.6 1792.3 1037.2Q1796.9 1033.8 1802.3 1032.5L1802.3 1032.5" fill="none" stroke="#FF00FF" stroke-width="8.6" stroke-linecap="round" stroke-linejoin="round"/>
<path d="M1850.8 1039.7Q1855.8 1044.0 1860.3 1049.1Q1864.9 1054.2 1869.4 1061.0Q1873.9 1067.8 1877.9 1072.9Q1881.9 1078.0 1884.7 1080.3L1887.5 1082.6Q1893.2 1079.2 1897.2 1073.5Q1901.1 1067.8 1905.7 1061.0Q1910.2 1054.2 1914.7 1048.6Q1919.2 1042.9 1924.9 1039.0Q1930.6 1035.0 1936.2 1032.7Q1941.9 1030.4 1946.5 1029.8Q1951.0 1029.3 1955.5 1031.0Q1960.0 1032.7 1963.6 1035.1L1963.6 1035.1" fill="none" stroke="#FF00FF" stroke-width="8.6" stroke-linecap="round" stroke-linejoin="round"/>
<path d="M1981.8 1077.3Q1982.7 1097.3 1983.6 1109.8Q1984.5 1122.2 1985.0 1129.6L1985.6 1136.9Q1987.2 1117.7 1988.1 1104.1Q1989.0 1090.5 1991.0 1078.0Q1992.9 1065.6 1996.3 1056.5Q1999.7 1047.4 2004.8 1042.3Q2009.9 1037.2 2015.6 1035.0Q2021.2 1032.7 2026.8 1032.2Q2032.5 1031.6 2038.2 1033.3Q2043.9 1035.0 2049.6 1039.0Q2055.2 1042.9 2063.1 1053.5L2063.1 1053.5" fill="none" stroke="#FF00FF" stroke-width="8.6" stroke-linecap="round" stroke-linejoin="round"/>
<path d="M2073.8 1099.9Q2075.6 1113.1 2077.2 1121.9L2077.2 1121.9" fill="none" stroke="#FF00FF" stroke-width="8.6" stroke-linecap="round" stroke-linejoin="round"/>
<path d="M199.1 1044.7Q206.1 1038.6 211.1 1036.1Q216.2 1033.6 222.2 1032.9Q228.3 1032.2 234.4 1033.2Q240.4 1034.2 247.4 1035.4Q254.5 1036.6 260.5 1036.8Q266.5 1037.0 272.6 1036.3Q278.6 1035.6 284.6 1033.1Q290.7 1030.6 296.8 1027.5Q302.8 1024.5 309.9 1022.0Q316.9 1019.5 323.9 1017.8Q331.0 1016.1 338.1 1015.5Q345.1 1014.9 351.1 1015.7Q357.2 1016.5 363.2 1019.0Q369.3 1021.5 374.3 1025.0Q379.3 1028.5 383.4 1032.5Q387.4 1036.6 390.4 1041.7Q393.4 1046.7 395.9 1052.8Q398.5 1058.8 400.0 1065.8Q401.5 1072.9 402.7 1082.0Q403.9 1091.0 404.7 1100.0Q405.5 1109.1 406.0 1112.2L406.5 1115.2Q407.9 1107.1 408.7 1098.0Q409.5 1089.0 410.6 1079.9Q411.6 1070.8 413.1 1063.8Q414.6 1056.7 417.1 1049.7Q419.6 1042.6 423.1 1037.6Q426.7 1032.6 431.2 1029.0Q435.7 1025.5 440.8 1024.0Q445.8 1022.5 451.9 1022.3Q457.9 1022.1 463.9 1023.3Q470.0 1024.5 475.0 1027.5Q480.0 1030.6 484.1 1035.1Q488.1 1039.6 491.1 1045.2Q494.1 1050.7 496.1 1057.8Q498.2 1064.8 499.7 1072.8Q501.2 1080.9 502.2 1090.0Q503.2 1099.0 503.9 1107.1Q504.6 1115.2 505.2 1116.7L505.8 1118.2Q507.2 1109.1 508.2 1100.0Q509.2 1091.0 510.2 1083.0Q511.2 1074.9 512.8 1067.8Q514.3 1060.8 516.8 1054.8Q519.3 1048.7 522.8 1044.7Q526.4 1040.6 531.4 1038.1Q536.4 1035.6 542.5 1034.6Q548.5 1033.6 554.5 1033.9Q560.6 1034.2 566.7 1035.4Q572.7 1036.6 577.7 1038.6Q582.7 1040.6 585.4 1042.7Q588.1 1044.7 592.1 1049.7Q596.1 1054.7 599.2 1059.8Q602.2 1064.8 604.7 1070.8Q607.2 1076.9 608.7 1084.0Q610.2 1091.0 611.4 1100.0Q612.6 1109.1 613.6 1120.2Q614.6 1131.3 615.5 1141.3L616.3 1151.4Q617.9 1131.3 618.9 1120.2Q619.9 1109.1 621.1 1101.0Q622.3 1093.0 624.3 1088.0Q626.3 1082.9 628.8 1081.9Q631.4 1080.9 634.4 1082.9Q637.4 1084.9 641.0 1090.0Q644.5 1095.0 647.3 1097.0L650.1 1099.0Q654.5 1095.0 657.5 1089.0Q660.6 1082.9 664.6 1074.8Q668.6 1066.8 672.7 1059.8Q676.7 1052.7 681.7 1046.7Q686.7 1040.6 691.8 1036.6Q696.8 1032.6 702.8 1030.0Q708.9 1027.5 715.0 1027.0Q721.0 1026.5 727.0 1027.5Q733.1 1028.5 739.2 1031.5Q745.2 1034.6 750.2 1038.6Q755.2 1042.6 759.2 1047.7Q763.3 1052.7 766.3 1058.8Q769.3 1064.8 771.3 1072.8Q773.4 1080.9 774.4 1092.0Q775.4 1103.1 776.2 1115.2Q777.0 1127.2 777.5 1138.3L778.0 1149.4Q779.0 1127.2 779.7 1115.2Q780.4 1103.1 781.4 1092.0Q782.4 1080.9 784.4 1071.8Q786.4 1062.8 790.0 1055.8Q793.5 1048.7 798.5 1043.7Q803.6 1038.6 809.6 1034.6Q815.6 1030.6 822.7 1028.0Q829.7 1025.5 837.8 1024.0Q845.9 1022.5 854.0 1021.3Q862.0 1020.1 870.0 1019.8Q878.1 1019.5 885.2 1020.0Q892.2 1020.5 898.2 1022.0Q904.3 1023.5 909.3 1026.5Q914.3 1029.6 918.3 1032.6Q922.4 1035.6 924.4 1036.6L926.4 1037.6Q929.4 1030.6 929.8 1020.5Q930.1 1010.4 929.7 983.5Q929.2 956.6 929.2 936.5Q929.2 916.3 929.7 904.2Q930.2 892.1 931.7 888.6L933.2 885.1Q937.3 886.1 938.8 891.1Q940.3 896.1 941.3 906.2Q942.3 916.3 943.1 926.3Q943.9 936.4 944.6 945.5L945.3 954.5Q946.7 936.4 947.5 921.3Q948.3 906.2 949.8 891.1Q951.4 876.0 953.9 863.9Q956.4 851.8 960.5 841.8Q964.5 831.7 968.5 823.7Q972.5 815.6 976.5 809.5Q980.6 803.5 984.6 800.0Q988.6 796.4 992.7 795.9Q996.7 795.4 1000.7 797.5Q1004.7 799.5 1008.8 801.7Q1012.8 803.9 1015.8 804.2Q1018.8 804.5 1022.9 802.5Q1026.9 800.5 1030.9 798.5Q1034.9 796.4 1039.0 796.4Q1043.0 796.4 1047.0 799.5Q1051.1 802.5 1054.1 808.0Q1057.1 813.5 1059.1 820.5Q1061.1 827.6 1062.3 837.7Q1063.5 847.8 1064.2 859.9Q1064.8 872.0 1065.2 876.0L1065.6 880.0Q1066.8 867.9 1067.6 855.8Q1068.4 843.8 1069.8 833.7Q1071.2 823.6 1073.7 815.5Q1076.2 807.5 1079.8 803.0Q1083.3 798.4 1087.3 796.9Q1091.3 795.4 1094.8 796.4Q1098.4 797.4 1101.9 800.0Q1105.4 802.5 1108.5 803.5Q1111.5 804.5 1115.0 803.5Q1118.5 802.5 1122.0 800.5Q1125.6 798.4 1129.6 797.2Q1133.6 796.0 1137.7 796.7Q1141.7 797.4 1145.7 801.0Q1149.7 804.5 1153.8 810.0Q1157.8 815.6 1161.8 823.7Q1165.9 831.7 1169.4 841.8Q1172.9 851.8 1176.0 861.9Q1179.0 872.0 1181.5 882.0Q1184.0 892.1 1186.0 902.2Q1188.0 912.2 1190.0 924.3Q1192.0 936.4 1193.5 946.5Q1195.1 956.6 1195.6 963.4Q1196.1 970.1 1197.6 985.2Q1199.1 1000.4 1200.1 1015.5Q1201.1 1030.6 1202.1 1044.7Q1203.1 1058.8 1204.1 1064.8L1205.1 1070.8Q1211.2 1066.8 1214.2 1068.8Q1217.2 1070.8 1219.8 1075.8Q1222.3 1080.9 1224.3 1089.0Q1226.3 1097.0 1227.5 1107.1Q1228.7 1117.2 1229.5 1128.2L1230.3 1139.3Q1231.9 1117.2 1233.1 1106.1Q1234.3 1095.0 1236.3 1087.0Q1238.4 1078.9 1241.4 1075.4Q1244.4 1071.9 1247.5 1071.3Q1250.5 1070.8 1253.0 1073.8Q1255.5 1076.9 1257.0 1086.0Q1258.5 1095.0 1259.3 1108.1Q1260.1 1121.2 1260.6 1136.3Q1261.1 1151.4 1261.5 1166.5Q1261.9 1181.6 1262.2 1193.7L1262.5 1205.8Q1263.1 1181.6 1263.6 1166.5Q1264.1 1151.4 1264.8 1136.3Q1265.6 1121.2 1266.6 1108.1Q1267.6 1095.0 1269.6 1082.9Q1271.6 1070.8 1274.6 1060.8Q1277.6 1050.7 1278.8 1048.7Q1280.0 1046.7 1284.0 1040.7Q1288.1 1034.6 1293.1 1029.0Q1298.1 1023.5 1304.2 1020.5Q1310.2 1017.5 1317.2 1016.5Q1324.3 1015.5 1331.3 1016.5Q1338.4 1017.5 1344.5 1020.0Q1350.5 1022.5 1356.5 1026.5Q1362.6 1030.6 1368.7 1035.6Q1374.7 1040.6 1379.7 1045.7Q1384.7 1050.7 1388.8 1055.2Q1392.8 1059.8 1396.8 1062.3Q1400.8 1064.8 1404.8 1065.0Q1408.9 1065.2 1413.0 1063.0Q1417.0 1060.8 1422.0 1056.8Q1427.0 1052.7 1433.0 1048.2Q1439.1 1043.7 1445.2 1040.7Q1451.2 1037.6 1457.2 1036.6Q1463.3 1035.6 1468.3 1037.1Q1473.4 1038.6 1477.4 1042.7Q1481.4 1046.7 1484.5 1052.8Q1487.5 1058.8 1489.0 1066.8Q1490.5 1074.9 1491.5 1085.0Q1492.5 1095.0 1493.0 1108.1Q1493.5 1121.2 1494.0 1136.3L1494.5 1151.4Q1495.5 1121.2 1496.3 1108.1Q1497.1 1095.0 1498.3 1082.9Q1499.5 1070.8 1501.5 1060.8Q1503.6 1050.7 1506.6 1043.7Q1509.6 1036.6 1513.7 1032.0Q1517.7 1027.5 1522.7 1025.2Q1527.7 1022.9 1533.8 1022.2Q1539.8 1021.5 1545.8 1022.5Q1551.9 1023.5 1558.0 1026.0Q1564.0 1028.5 1570.0 1031.5Q1576.1 1034.6 1582.2 1037.1Q1588.2 1039.6 1594.2 1040.9Q1600.2 1042.2 1606.2 1041.9Q1612.3 1041.6 1618.3 1039.1Q1624.4 1036.6 1630.5 1032.5Q1636.5 1028.5 1642.5 1024.5Q1648.6 1020.5 1654.7 1018.0Q1660.7 1015.5 1666.7 1014.5Q1672.7 1013.4 1677.0 1014.5Q1681.3 1015.7 1687.0 1018.0Q1692.7 1020.2 1698.3 1024.2Q1704.0 1028.2 1708.5 1033.3Q1713.1 1038.4 1716.4 1045.2Q1719.8 1052.0 1722.1 1061.0Q1724.4 1070.1 1725.8 1080.3Q1727.1 1090.5 1728.2 1098.4L1729.4 1106.3Q1731.6 1090.5 1732.8 1080.3Q1733.9 1070.1 1736.0 1061.0Q1738.0 1052.0 1741.4 1045.2Q1744.8 1038.4 1749.3 1033.8Q1753.8 1029.3 1759.5 1027.2Q1765.2 1025.2 1772.0 1025.0Q1778.8 1024.8 1785.6 1025.9Q1792.4 1027.0 1799.2 1029.3Q1806.0 1031.6 1812.8 1035.0Q1819.5 1038.4 1826.3 1041.8Q1833.1 1045.2 1838.8 1047.5Q1844.5 1049.7 1849.0 1049.7Q1853.5 1049.7 1858.0 1047.5Q1862.6 1045.2 1868.2 1040.1Q1873.9 1035.0 1879.6 1029.3Q1885.3 1023.6 1890.9 1019.1Q1896.6 1014.6 1902.2 1012.3Q1907.9 1010.0 1913.6 1009.2Q1919.2 1008.5 1924.9 1009.2Q1930.6 1010.0 1936.2 1012.9Q1941.9 1015.7 1946.5 1020.2Q1951.0 1024.8 1954.4 1031.6Q1957.8 1038.4 1960.0 1047.5Q1962.3 1056.5 1964.0 1067.8Q1965.7 1079.2 1966.8 1089.3Q1968.0 1099.5 1968.8 1103.5L1969.5 1107.5Q1971.4 1097.3 1972.5 1087.1Q1973.6 1076.9 1974.9 1065.6Q1976.3 1054.2 1978.3 1045.2Q1980.4 1036.1 1983.8 1028.8Q1987.2 1021.4 1991.8 1016.8Q1996.3 1012.3 2001.9 1010.0Q2007.6 1007.8 2013.2 1007.2Q2018.9 1006.6 2024.6 1007.2Q2030.3 1007.8 2035.9 1010.0Q2041.6 1012.3 2047.2 1016.8Q2052.9 1021.4 2057.4 1027.6Q2062.0 1033.8 2065.4 1041.8Q2068.8 1049.7 2071.1 1059.9Q2073.3 1070.1 2074.7 1082.5Q2076.0 1095.0 2076.9 1107.5L2077.9 1119.9Q2079.7 1097.3 2080.8 1084.8Q2081.9 1072.4 2083.5 1063.3Q2085.1 1054.2 2087.7 1047.4Q2090.3 1040.6 2093.2 1036.1Q2096.0 1031.6 2099.4 1027.0L2099.4 1027.0" fill="none" stroke="#00B050" stroke-width="10" stroke-linecap="round" stroke-linejoin="round"/>
<line x1="201.0" x2="2098.0" y1="857.4" y2="857.4" stroke="#FF0000" stroke-width="8"/><circle cx="201.0" cy="857.4" r="4" fill="#FF0000"/>
<line x1="1382.8" x2="1382.8" y1="739.5" y2="1250.5" stroke="#00FF00" stroke-width="9" stroke-dasharray="30.6 30.55"/>
<line x1="956.5" x2="956.5" y1="739.5" y2="1250.5" stroke="#00BFBF" stroke-width="9.5" stroke-dasharray="7.7 7.65"/>
<line x1="1173.3" x2="1173.3" y1="739.5" y2="1250.5" stroke="#00BFBF" stroke-width="9.5" stroke-dasharray="7.7 7.65"/>
<text x="123.5" y="770.5" font-size="50" fill="#262626" font-family="'Liberation Serif', serif" font-weight="bold">10<tspan x="174" y="745.1" font-size="40">0</tspan></text>
<text x="109.3" y="923.8" font-size="50" fill="#262626" font-family="'Liberation Serif', serif" font-weight="bold">10<tspan x="154" y="898.4" font-size="40">−</tspan><tspan x="199" y="898.4" font-size="40" text-anchor="end">3</tspan></text>
<text x="109.3" y="1077.1" font-size="50" fill="#262626" font-family="'Liberation Serif', serif" font-weight="bold">10<tspan x="154" y="1051.7" font-size="40">−</tspan><tspan x="199" y="1051.7" font-size="40" text-anchor="end">6</tspan></text>
<text x="109.3" y="1230.4" font-size="50" fill="#262626" font-family="'Liberation Serif', serif" font-weight="bold">10<tspan x="154" y="1205.0" font-size="40">−</tspan><tspan x="199" y="1205.0" font-size="40" text-anchor="end">9</tspan></text>
<text x="183.7" y="1321.1" font-size="50" fill="#262626" font-family="'Liberation Serif', serif" font-weight="bold">0.1</text>
<text x="410.4" y="1321.1" font-size="50" fill="#262626" font-family="'Liberation Serif', serif" font-weight="bold">0.15</text>
<text x="657.5" y="1321.1" font-size="50" fill="#262626" font-family="'Liberation Serif', serif" font-weight="bold">0.2</text>
<text x="884.1" y="1321.1" font-size="50" fill="#262626" font-family="'Liberation Serif', serif" font-weight="bold">0.25</text>
<text x="1131.2" y="1321.1" font-size="50" fill="#262626" font-family="'Liberation Serif', serif" font-weight="bold">0.3</text>
<text x="1357.9" y="1321.1" font-size="50" fill="#262626" font-family="'Liberation Serif', serif" font-weight="bold">0.35</text>
<text x="1605.0" y="1321.1" font-size="50" fill="#262626" font-family="'Liberation Serif', serif" font-weight="bold">0.4</text>
<text x="1831.6" y="1321.1" font-size="50" fill="#262626" font-family="'Liberation Serif', serif" font-weight="bold">0.45</text>
<text x="2078.7" y="1321.1" font-size="50" fill="#262626" font-family="'Liberation Serif', serif" font-weight="bold">0.5</text>
<rect x="202.5" y="1366.5" width="1895.0" height="515.0" fill="none" stroke="#262626" stroke-width="1"/>
<path d="M439.5 1366.5v19.5M439.5 1881.5v-19.5M676.5 1366.5v19.5M676.5 1881.5v-19.5M913.5 1366.5v19.5M913.5 1881.5v-19.5M1150.5 1366.5v19.5M1150.5 1881.5v-19.5M1386.5 1366.5v19.5M1386.5 1881.5v-19.5M1623.5 1366.5v19.5M1623.5 1881.5v-19.5M1860.5 1366.5v19.5M1860.5 1881.5v-19.5M202.5 1824.5h9.5M2097.5 1824.5h-9.5M202.5 1767.5h9.5M2097.5 1767.5h-9.5M202.5 1709.5h19.5M2097.5 1709.5h-19.5M202.5 1652.5h9.5M2097.5 1652.5h-9.5M202.5 1595.5h9.5M2097.5 1595.5h-9.5M202.5 1538.5h19.5M2097.5 1538.5h-19.5M202.5 1480.5h9.5M2097.5 1480.5h-9.5M202.5 1423.5h9.5M2097.5 1423.5h-9.5" stroke="#262626" stroke-width="1" fill="none"/>
<path d="M201.0 1620.0Q202.6 1615.3 203.4 1613.8Q204.3 1612.4 205.0 1611.7Q205.7 1611.0 206.4 1610.8Q207.1 1610.6 207.8 1610.8Q208.5 1611.0 209.2 1611.7Q209.9 1612.4 210.8 1613.8Q211.6 1615.3 212.4 1617.7Q213.2 1620.0 213.9 1623.0Q214.6 1626.1 215.2 1629.8Q215.8 1633.5 216.2 1637.9Q216.7 1642.3 217.1 1647.2Q217.4 1652.2 217.7 1658.8Q218.0 1665.5 218.2 1672.5Q218.4 1679.4 218.5 1688.0Q218.6 1696.6 218.7 1697.1Q218.8 1697.6 218.9 1698.8L218.9 1699.9Q219.1 1698.9 219.2 1690.3Q219.3 1681.7 219.5 1674.8Q219.7 1667.8 220.0 1661.2Q220.3 1654.5 220.7 1649.5Q221.0 1644.6 221.4 1640.2Q221.9 1635.9 222.5 1632.2Q223.1 1628.4 223.8 1625.3Q224.5 1622.3 225.3 1619.9Q226.1 1617.6 226.9 1616.2Q227.8 1614.7 228.5 1614.1Q229.2 1613.4 229.9 1613.2Q230.6 1612.9 231.3 1613.2Q232.0 1613.4 232.7 1614.1Q233.4 1614.7 234.2 1616.2Q235.1 1617.6 235.9 1619.9Q236.7 1622.3 237.4 1625.3Q238.1 1628.4 238.7 1632.2Q239.3 1635.9 239.8 1640.2Q240.2 1644.6 240.6 1649.5Q240.9 1654.5 241.2 1661.2Q241.5 1667.8 241.7 1674.8Q241.9 1681.7 242.0 1690.3Q242.1 1698.9 242.2 1710.3Q242.3 1721.7 242.4 1725.4L242.4 1729.1Q242.4 1722.8 242.5 1711.4Q242.6 1700.0 242.7 1691.4Q242.8 1682.8 243.0 1675.9Q243.2 1669.0 243.5 1662.3Q243.8 1655.7 244.2 1650.8Q244.5 1645.8 244.9 1641.4Q245.4 1637.0 246.0 1633.3Q246.6 1629.6 247.3 1626.5Q248.0 1623.5 248.8 1621.2Q249.6 1618.8 250.4 1617.3Q251.3 1615.9 252.0 1615.2Q252.7 1614.5 253.4 1614.3Q254.1 1614.1 254.8 1614.3Q255.5 1614.5 256.2 1615.2Q256.9 1615.9 257.8 1617.3Q258.6 1618.8 259.4 1621.2Q260.2 1623.5 260.9 1626.5Q261.6 1629.6 262.2 1633.3Q262.8 1637.0 263.2 1641.4Q263.7 1645.8 264.0 1650.8Q264.4 1655.7 264.7 1662.3Q265.0 1669.0 265.2 1675.9Q265.4 1682.8 265.5 1691.4Q265.6 1700.0 265.7 1702.5L265.8 1705.1Q265.9 1704.5 266.0 1702.0Q266.1 1699.5 266.2 1690.8Q266.3 1682.2 266.5 1675.3Q266.7 1668.4 267.0 1661.8Q267.3 1655.1 267.6 1650.2Q268.0 1645.2 268.4 1640.8Q268.9 1636.4 269.5 1632.7Q270.1 1629.0 270.8 1626.0Q271.5 1622.9 272.3 1620.6Q273.1 1618.2 274.0 1616.8Q274.8 1615.3 275.5 1614.6Q276.2 1613.9 276.9 1613.7Q277.6 1613.5 278.3 1613.7Q279.0 1613.9 279.7 1614.6Q280.4 1615.3 281.2 1616.8Q282.1 1618.2 282.9 1620.6Q283.7 1622.9 284.4 1626.0Q285.1 1629.0 285.7 1632.7Q286.3 1636.4 286.8 1640.8Q287.2 1645.2 287.5 1650.2Q287.9 1655.1 288.2 1661.8Q288.5 1668.4 288.7 1670.8L288.9 1673.3Q289.1 1673.3 289.2 1673.3L289.3 1673.3L289.4 1670.5Q289.6 1670.5 289.7 1670.5L289.8 1670.5Q290.2 1665.6 290.5 1658.9Q290.8 1652.3 291.1 1647.3Q291.5 1642.4 291.9 1638.1Q292.4 1633.7 293.0 1630.0Q293.6 1626.2 294.3 1623.2Q295.0 1620.1 295.8 1617.8Q296.6 1615.4 297.5 1614.0Q298.3 1612.5 299.0 1611.8Q299.7 1611.2 300.4 1611.0Q301.1 1610.7 301.8 1611.0Q302.5 1611.2 303.2 1611.8Q303.9 1612.5 304.8 1614.0Q305.6 1615.4 306.4 1617.8Q307.2 1620.1 307.9 1623.2Q308.6 1626.2 309.2 1630.0Q309.8 1633.7 310.2 1638.1Q310.7 1642.4 311.0 1647.3Q311.4 1652.3 311.7 1658.9Q312.0 1665.6 312.2 1672.5Q312.4 1679.5 312.5 1679.7Q312.6 1679.8 312.7 1679.8L312.8 1679.8L312.9 1685.7Q313.1 1685.7 313.2 1685.6Q313.3 1685.4 313.5 1678.5Q313.7 1671.5 314.0 1664.8Q314.3 1658.2 314.6 1653.2Q315.0 1648.3 315.4 1643.9Q315.9 1639.6 316.5 1635.8Q317.1 1632.1 317.8 1629.0Q318.5 1626.0 319.3 1623.7Q320.1 1621.3 321.0 1619.8Q321.8 1618.4 322.5 1617.8Q323.2 1617.1 323.9 1616.8Q324.6 1616.6 325.3 1616.8Q326.0 1617.1 326.7 1617.8Q327.4 1618.4 328.2 1619.8Q329.1 1621.3 329.9 1623.7Q330.7 1626.0 331.4 1629.0Q332.1 1632.1 332.7 1635.8Q333.3 1639.6 333.8 1643.9Q334.2 1648.3 334.5 1653.2Q334.9 1658.2 335.2 1664.8Q335.5 1671.5 335.7 1674.7L335.9 1677.8Q336.1 1677.8 336.2 1677.8L336.3 1677.8L336.4 1673.0Q336.6 1673.0 336.7 1673.0L336.8 1673.0Q337.2 1666.7 337.5 1660.1Q337.8 1653.4 338.1 1648.5Q338.5 1643.5 338.9 1639.1Q339.4 1634.7 340.0 1631.0Q340.6 1627.3 341.3 1624.2Q342.0 1621.2 342.8 1618.8Q343.6 1616.5 344.5 1615.0Q345.3 1613.6 346.0 1612.9Q346.7 1612.2 347.4 1612.0Q348.1 1611.8 348.8 1612.0Q349.5 1612.2 350.2 1612.9Q350.9 1613.6 351.8 1615.0Q352.6 1616.5 353.4 1618.8Q354.2 1621.2 354.9 1624.2Q355.6 1627.3 356.2 1631.0Q356.8 1634.7 357.2 1639.1Q357.7 1643.5 358.0 1648.5Q358.4 1653.4 358.7 1660.1Q359.0 1666.7 359.2 1673.7Q359.4 1680.6 359.5 1683.3L359.6 1686.1L359.8 1686.1L359.9 1691.9L360.1 1691.9Q360.3 1686.4 360.5 1679.5Q360.7 1672.5 361.0 1665.8Q361.3 1659.2 361.6 1654.2Q362.0 1649.3 362.4 1644.9Q362.9 1640.5 363.5 1636.8Q364.1 1633.1 364.8 1630.0Q365.5 1627.0 366.3 1624.7Q367.1 1622.3 368.0 1620.8Q368.8 1619.4 369.5 1618.7Q370.2 1618.0 370.9 1617.8Q371.6 1617.6 372.3 1617.8Q373.0 1618.0 373.7 1618.7Q374.4 1619.4 375.2 1620.8Q376.1 1622.3 376.9 1624.7Q377.7 1627.0 378.4 1630.0Q379.1 1633.1 379.7 1636.8Q380.3 1640.5 380.8 1644.9Q381.2 1649.3 381.5 1654.2Q381.9 1659.2 382.2 1665.8Q382.5 1672.5 382.7 1679.5Q382.9 1686.4 383.0 1695.0Q383.1 1703.6 383.2 1714.9Q383.3 1726.3 383.4 1733.2L383.4 1740.2Q383.4 1721.9 383.5 1710.6Q383.6 1699.2 383.7 1690.6Q383.8 1681.9 384.0 1675.0Q384.2 1668.1 384.5 1661.4Q384.8 1654.8 385.1 1649.8Q385.5 1644.9 385.9 1640.5Q386.4 1636.1 387.0 1632.4Q387.6 1628.7 388.3 1625.7Q389.0 1622.6 389.8 1620.2Q390.6 1617.9 391.5 1616.5Q392.3 1615.0 393.0 1614.3Q393.7 1613.6 394.4 1613.4Q395.1 1613.2 395.8 1613.4Q396.5 1613.6 397.2 1614.3Q397.9 1615.0 398.8 1616.5Q399.6 1617.9 400.4 1620.2Q401.2 1622.6 401.9 1625.7Q402.6 1628.7 403.2 1632.4Q403.8 1636.1 404.2 1640.5Q404.7 1644.9 405.0 1649.8Q405.4 1654.8 405.7 1661.4Q406.0 1668.1 406.2 1675.0Q406.4 1681.9 406.5 1690.6Q406.6 1699.2 406.7 1708.7L406.8 1718.2Q406.9 1715.4 407.0 1705.9Q407.1 1696.4 407.2 1687.8Q407.3 1679.1 407.5 1672.2Q407.7 1665.3 408.0 1658.7Q408.3 1652.0 408.6 1647.0Q409.0 1642.1 409.4 1637.7Q409.9 1633.3 410.5 1629.6Q411.1 1625.9 411.8 1622.8Q412.5 1619.8 413.3 1617.4Q414.1 1615.1 415.0 1613.7Q415.8 1612.2 416.5 1611.5Q417.2 1610.8 417.9 1610.6Q418.6 1610.4 419.3 1610.6Q420.0 1610.8 420.7 1611.5Q421.4 1612.2 422.2 1613.7Q423.1 1615.1 423.9 1617.4Q424.7 1619.8 425.4 1622.8Q426.1 1625.9 426.7 1629.6Q427.3 1633.3 427.8 1637.7Q428.2 1642.1 428.5 1647.0Q428.9 1652.0 429.2 1658.7Q429.5 1665.3 429.7 1672.2Q429.9 1679.1 430.0 1682.2L430.1 1685.4L430.3 1685.4L430.4 1687.3L430.6 1687.3Q430.8 1681.1 431.0 1674.2Q431.2 1667.2 431.5 1660.6Q431.8 1653.9 432.1 1649.0Q432.5 1644.0 432.9 1639.7Q433.4 1635.3 434.0 1631.5Q434.6 1627.8 435.3 1624.8Q436.0 1621.7 436.8 1619.3Q437.6 1617.0 438.5 1615.5Q439.3 1614.1 440.0 1613.4Q440.7 1612.8 441.4 1612.5Q442.1 1612.3 442.8 1612.5Q443.5 1612.8 444.2 1613.4Q444.9 1614.1 445.8 1615.5Q446.6 1617.0 447.4 1619.3Q448.2 1621.7 448.9 1624.8Q449.6 1627.8 450.2 1631.5Q450.8 1635.3 451.2 1639.7Q451.7 1644.0 452.0 1649.0Q452.4 1653.9 452.7 1660.6Q453.0 1667.2 453.2 1670.7L453.4 1674.1Q453.6 1674.1 453.7 1674.1L453.8 1674.1L453.9 1672.7Q454.1 1672.7 454.2 1672.7L454.3 1672.7Q454.7 1665.8 455.0 1659.2Q455.3 1652.5 455.6 1647.6Q456.0 1642.7 456.4 1638.3Q456.9 1633.9 457.5 1630.2Q458.1 1626.4 458.8 1623.4Q459.5 1620.4 460.3 1618.1Q461.1 1615.7 462.0 1614.2Q462.8 1612.8 463.5 1612.1Q464.2 1611.4 464.9 1611.2Q465.6 1610.9 466.3 1611.2Q467.0 1611.4 467.7 1612.1Q468.4 1612.8 469.2 1614.2Q470.1 1615.7 470.9 1618.1Q471.7 1620.4 472.4 1623.4Q473.1 1626.4 473.7 1630.2Q474.3 1633.9 474.8 1638.3Q475.2 1642.7 475.5 1647.6Q475.9 1652.5 476.2 1659.2Q476.5 1665.8 476.7 1671.4L476.9 1677.0Q477.1 1677.0 477.2 1677.0L477.3 1677.0L477.4 1682.5Q477.6 1682.5 477.7 1682.5L477.8 1682.5Q478.2 1671.4 478.5 1664.8Q478.8 1658.1 479.1 1653.2Q479.5 1648.2 479.9 1643.8Q480.4 1639.5 481.0 1635.8Q481.6 1632.0 482.3 1629.0Q483.0 1625.9 483.8 1623.6Q484.6 1621.2 485.5 1619.8Q486.3 1618.3 487.0 1617.7Q487.7 1617.0 488.4 1616.8Q489.1 1616.5 489.8 1616.8Q490.5 1617.0 491.2 1617.7Q491.9 1618.3 492.8 1619.8Q493.6 1621.2 494.4 1623.6Q495.2 1625.9 495.9 1629.0Q496.6 1632.0 497.2 1635.8Q497.8 1639.5 498.2 1643.8Q498.7 1648.2 499.0 1653.2Q499.4 1658.1 499.7 1664.8Q500.0 1671.4 500.2 1678.3Q500.4 1685.3 500.5 1685.4Q500.6 1685.5 500.7 1685.5L500.8 1685.5L500.9 1683.7Q501.1 1683.7 501.2 1683.6Q501.3 1683.4 501.5 1676.5Q501.7 1669.6 502.0 1662.9Q502.3 1656.3 502.6 1651.3Q503.0 1646.4 503.4 1642.0Q503.9 1637.6 504.5 1633.9Q505.1 1630.2 505.8 1627.2Q506.5 1624.1 507.3 1621.8Q508.1 1619.4 509.0 1618.0Q509.8 1616.5 510.5 1615.8Q511.2 1615.1 511.9 1614.9Q512.6 1614.7 513.3 1614.9Q514.0 1615.1 514.7 1615.8Q515.4 1616.5 516.2 1618.0Q517.1 1619.4 517.9 1621.8Q518.7 1624.1 519.4 1627.2Q520.1 1630.2 520.7 1633.9Q521.3 1637.6 521.8 1642.0Q522.2 1646.4 522.5 1651.3Q522.9 1656.3 523.2 1662.9Q523.5 1669.6 523.7 1676.5Q523.9 1683.4 524.0 1686.3L524.1 1689.3L524.3 1689.3L524.4 1687.6L524.6 1687.6Q524.8 1681.8 525.0 1674.8Q525.2 1667.9 525.5 1661.2Q525.8 1654.6 526.1 1649.7Q526.5 1644.7 527.0 1640.3Q527.4 1635.9 528.0 1632.2Q528.6 1628.5 529.3 1625.5Q530.0 1622.4 530.8 1620.1Q531.6 1617.7 532.5 1616.2Q533.3 1614.8 534.0 1614.1Q534.7 1613.4 535.4 1613.2Q536.1 1613.0 536.8 1613.2Q537.5 1613.4 538.2 1614.1Q538.9 1614.8 539.8 1616.2Q540.6 1617.7 541.4 1620.1Q542.2 1622.4 542.9 1625.5Q543.6 1628.5 544.2 1632.2Q544.8 1635.9 545.2 1640.3Q545.7 1644.7 546.0 1649.7Q546.4 1654.6 546.7 1661.2Q547.0 1667.9 547.2 1674.8Q547.4 1681.8 547.5 1683.5L547.6 1685.2L547.8 1685.2L547.9 1682.7L548.1 1682.7Q548.3 1679.3 548.5 1672.3Q548.7 1665.4 549.0 1658.8Q549.3 1652.1 549.6 1647.2Q550.0 1642.2 550.5 1637.8Q550.9 1633.4 551.5 1629.7Q552.1 1626.0 552.8 1623.0Q553.5 1619.9 554.3 1617.6Q555.1 1615.2 556.0 1613.8Q556.8 1612.3 557.5 1611.6Q558.2 1610.9 558.9 1610.7Q559.6 1610.5 560.3 1610.7Q561.0 1610.9 561.7 1611.6Q562.4 1612.3 563.2 1613.8Q564.1 1615.2 564.9 1617.6Q565.7 1619.9 566.4 1623.0Q567.1 1626.0 567.7 1629.7Q568.3 1633.4 568.8 1637.8Q569.2 1642.2 569.5 1647.2Q569.9 1652.1 570.2 1658.8Q570.5 1665.4 570.7 1672.3Q570.9 1679.3 571.0 1683.4L571.1 1687.5L571.3 1687.5L571.4 1688.6L571.6 1688.6Q571.8 1680.4 572.0 1673.5Q572.2 1666.5 572.5 1659.9Q572.8 1653.3 573.1 1648.3Q573.5 1643.4 574.0 1639.0Q574.4 1634.6 575.0 1630.9Q575.6 1627.2 576.3 1624.2Q577.0 1621.1 577.8 1618.8Q578.6 1616.4 579.5 1615.0Q580.3 1613.5 581.0 1612.8Q581.7 1612.1 582.4 1611.8Q583.1 1611.6 583.8 1611.8Q584.5 1612.1 585.2 1612.8Q585.9 1613.5 586.8 1615.0Q587.6 1616.4 588.4 1618.8Q589.2 1621.1 589.9 1624.2Q590.6 1627.2 591.2 1630.9Q591.8 1634.6 592.2 1639.0Q592.7 1643.4 593.0 1648.3Q593.4 1653.3 593.7 1659.9Q594.0 1666.5 594.2 1672.5L594.4 1678.6Q594.6 1678.6 594.7 1678.6L594.8 1678.6L594.9 1680.4Q595.1 1680.4 595.2 1680.4L595.3 1680.4Q595.7 1668.3 596.0 1661.7Q596.3 1655.0 596.6 1650.0Q597.0 1645.1 597.5 1640.8Q597.9 1636.4 598.5 1632.7Q599.1 1628.9 599.8 1625.8Q600.5 1622.8 601.3 1620.4Q602.1 1618.1 603.0 1616.7Q603.8 1615.2 604.5 1614.6Q605.2 1613.9 605.9 1613.7Q606.6 1613.4 607.3 1613.7Q608.0 1613.9 608.7 1614.6Q609.4 1615.2 610.2 1616.7Q611.1 1618.1 611.9 1620.4Q612.7 1622.8 613.4 1625.8Q614.1 1628.9 614.7 1632.7Q615.3 1636.4 615.8 1640.8Q616.2 1645.1 616.5 1650.0Q616.9 1655.0 617.2 1661.7Q617.5 1668.3 617.7 1673.9L617.9 1679.6Q618.1 1679.6 618.2 1679.6L618.3 1679.6L618.4 1680.9Q618.6 1680.9 618.7 1680.9L618.8 1680.9Q619.2 1669.6 619.5 1662.9Q619.8 1656.3 620.1 1651.3Q620.5 1646.4 621.0 1642.0Q621.4 1637.6 622.0 1633.9Q622.6 1630.2 623.3 1627.2Q624.0 1624.1 624.8 1621.8Q625.6 1619.4 626.5 1618.0Q627.3 1616.5 628.0 1615.8Q628.7 1615.1 629.4 1614.9Q630.1 1614.7 630.8 1614.9Q631.5 1615.1 632.2 1615.8Q632.9 1616.5 633.8 1618.0Q634.6 1619.4 635.4 1621.8Q636.2 1624.1 636.9 1627.2Q637.6 1630.2 638.2 1633.9Q638.8 1637.6 639.2 1642.0Q639.7 1646.4 640.0 1651.3Q640.4 1656.3 640.7 1662.9Q641.0 1669.6 641.2 1676.5Q641.4 1683.5 641.5 1684.0L641.6 1684.5L641.8 1684.5L641.9 1682.2L642.1 1682.2Q642.3 1681.2 642.5 1674.2Q642.7 1667.3 643.0 1660.7Q643.3 1654.0 643.6 1649.0Q644.0 1644.1 644.5 1639.7Q644.9 1635.3 645.5 1631.6Q646.1 1627.9 646.8 1624.8Q647.5 1621.8 648.3 1619.4Q649.1 1617.1 650.0 1615.7Q650.8 1614.2 651.5 1613.5Q652.2 1612.8 652.9 1612.6Q653.6 1612.4 654.3 1612.6Q655.0 1612.8 655.7 1613.5Q656.4 1614.2 657.2 1615.7Q658.1 1617.1 658.9 1619.4Q659.7 1621.8 660.4 1624.8Q661.1 1627.9 661.7 1631.6Q662.3 1635.3 662.8 1639.7Q663.2 1644.1 663.5 1649.0Q663.9 1654.0 664.2 1660.7Q664.5 1667.3 664.7 1673.3L664.9 1679.4Q665.1 1679.4 665.2 1679.4L665.3 1679.4L665.4 1682.6Q665.6 1682.6 665.7 1682.6L665.8 1682.6Q666.2 1670.5 666.5 1663.8Q666.8 1657.2 667.1 1652.2Q667.5 1647.3 668.0 1642.9Q668.4 1638.5 669.0 1634.8Q669.6 1631.1 670.3 1628.0Q671.0 1625.0 671.8 1622.7Q672.6 1620.3 673.5 1618.8Q674.3 1617.4 675.0 1616.7Q675.7 1616.0 676.4 1615.8Q677.1 1615.6 677.8 1615.8Q678.5 1616.0 679.2 1616.7Q679.9 1617.4 680.8 1618.8Q681.6 1620.3 682.4 1622.7Q683.2 1625.0 683.9 1628.0Q684.6 1631.1 685.2 1634.8Q685.8 1638.5 686.2 1642.9Q686.7 1647.3 687.0 1652.2Q687.4 1657.2 687.7 1663.8Q688.0 1670.5 688.2 1677.5Q688.4 1684.4 688.5 1692.5L688.6 1700.6L688.8 1700.6L688.9 1699.6L689.1 1699.6Q689.3 1683.4 689.5 1676.5Q689.7 1669.5 690.0 1662.8Q690.3 1656.2 690.6 1651.2Q691.0 1646.3 691.5 1641.9Q691.9 1637.5 692.5 1633.8Q693.1 1630.1 693.8 1627.0Q694.5 1624.0 695.3 1621.7Q696.1 1619.3 697.0 1617.8Q697.8 1616.4 698.5 1615.7Q699.2 1615.0 699.9 1614.8Q700.6 1614.6 701.3 1614.8Q702.0 1615.0 702.7 1615.7Q703.4 1616.4 704.2 1617.8Q705.1 1619.3 705.9 1621.7Q706.7 1624.0 707.4 1627.0Q708.1 1630.1 708.7 1633.8Q709.3 1637.5 709.8 1641.9Q710.2 1646.3 710.5 1651.2Q710.9 1656.2 711.2 1662.8Q711.5 1669.5 711.7 1676.5Q711.9 1683.4 712.0 1686.5L712.1 1689.6L712.3 1689.6L712.4 1692.0L712.6 1692.0Q712.8 1685.8 713.0 1678.8Q713.2 1671.9 713.5 1665.2Q713.8 1658.6 714.1 1653.7Q714.5 1648.7 715.0 1644.3Q715.4 1639.9 716.0 1636.2Q716.6 1632.5 717.3 1629.5Q718.0 1626.4 718.8 1624.1Q719.6 1621.7 720.5 1620.2Q721.3 1618.8 722.0 1618.1Q722.7 1617.4 723.4 1617.2Q724.1 1617.0 724.8 1617.2Q725.5 1617.4 726.2 1618.1Q726.9 1618.8 727.8 1620.2Q728.6 1621.7 729.4 1624.1Q730.2 1626.4 730.9 1629.5Q731.6 1632.5 732.2 1636.2Q732.8 1639.9 733.2 1644.3Q733.7 1648.7 734.0 1653.7Q734.4 1658.6 734.7 1665.2Q735.0 1671.9 735.2 1678.8Q735.4 1685.8 735.5 1689.9L735.6 1694.0L735.8 1694.0L735.9 1689.3L736.1 1689.3Q736.3 1681.1 736.5 1674.2Q736.7 1667.2 737.0 1660.6Q737.3 1653.9 737.6 1649.0Q738.0 1644.0 738.5 1639.6Q738.9 1635.2 739.5 1631.5Q740.1 1627.8 740.8 1624.8Q741.5 1621.7 742.3 1619.3Q743.1 1617.0 744.0 1615.5Q744.8 1614.1 745.5 1613.4Q746.2 1612.7 746.9 1612.5Q747.6 1612.3 748.3 1612.5Q749.0 1612.7 749.7 1613.4Q750.4 1614.1 751.2 1615.5Q752.1 1617.0 752.9 1619.3Q753.7 1621.7 754.4 1624.8Q755.1 1627.8 755.7 1631.5Q756.3 1635.2 756.8 1639.6Q757.2 1644.0 757.5 1649.0Q757.9 1653.9 758.2 1660.6Q758.5 1667.2 758.7 1674.2Q758.9 1681.1 759.0 1688.4L759.1 1695.8L759.3 1695.8L759.4 1694.4L759.6 1694.4Q759.8 1679.7 760.0 1672.8Q760.2 1665.8 760.5 1659.2Q760.8 1652.6 761.1 1647.7Q761.5 1642.7 762.0 1638.3Q762.4 1633.9 763.0 1630.2Q763.6 1626.4 764.3 1623.4Q765.0 1620.4 765.8 1618.1Q766.6 1615.7 767.5 1614.2Q768.3 1612.8 769.0 1612.1Q769.7 1611.4 770.4 1611.2Q771.1 1610.9 771.8 1611.2Q772.5 1611.4 773.2 1612.1Q773.9 1612.8 774.8 1614.2Q775.6 1615.7 776.4 1618.1Q777.2 1620.4 777.9 1623.4Q778.6 1626.4 779.2 1630.2Q779.8 1633.9 780.2 1638.3Q780.7 1642.7 781.0 1647.7Q781.4 1652.6 781.7 1659.2Q782.0 1665.8 782.2 1672.8Q782.4 1679.7 782.5 1679.8Q782.6 1679.8 782.7 1679.8L782.8 1679.8L782.9 1684.9Q783.1 1684.9 783.2 1684.8Q783.3 1684.8 783.5 1677.9Q783.7 1671.0 784.0 1664.3Q784.3 1657.7 784.6 1652.8Q785.0 1647.8 785.5 1643.4Q785.9 1639.0 786.5 1635.3Q787.1 1631.6 787.8 1628.5Q788.5 1625.5 789.3 1623.2Q790.1 1620.8 791.0 1619.3Q791.8 1617.9 792.5 1617.2Q793.2 1616.5 793.9 1616.3Q794.6 1616.1 795.3 1616.3Q796.0 1616.5 796.7 1617.2Q797.4 1617.9 798.2 1619.3Q799.1 1620.8 799.9 1623.2Q800.7 1625.5 801.4 1628.5Q802.1 1631.6 802.7 1635.3Q803.3 1639.0 803.8 1643.4Q804.2 1647.8 804.5 1652.8Q804.9 1657.7 805.2 1664.3Q805.5 1671.0 805.7 1674.5L805.9 1678.0Q806.1 1678.0 806.2 1678.0L806.3 1678.0L806.4 1675.9Q806.6 1675.9 806.7 1675.9L806.8 1675.9Q807.2 1668.8 807.5 1662.2Q807.8 1655.5 808.1 1650.5Q808.5 1645.6 809.0 1641.2Q809.4 1636.9 810.0 1633.2Q810.6 1629.4 811.3 1626.3Q812.0 1623.3 812.8 1620.9Q813.6 1618.6 814.5 1617.2Q815.3 1615.7 816.0 1615.1Q816.7 1614.4 817.4 1614.2Q818.1 1613.9 818.8 1614.2Q819.5 1614.4 820.2 1615.1Q820.9 1615.7 821.8 1617.2Q822.6 1618.6 823.4 1620.9Q824.2 1623.3 824.9 1626.3Q825.6 1629.4 826.2 1633.2Q826.8 1636.9 827.2 1641.2Q827.7 1645.6 828.0 1650.5Q828.4 1655.5 828.7 1662.2Q829.0 1668.8 829.2 1675.8Q829.4 1682.7 829.5 1691.3Q829.6 1699.9 829.7 1702.4Q829.8 1704.9 829.8 1705.6L829.9 1706.3Q830.1 1701.3 830.2 1692.7Q830.3 1684.1 830.5 1677.2Q830.7 1670.2 831.0 1663.6Q831.3 1657.0 831.6 1652.0Q832.0 1647.1 832.5 1642.7Q832.9 1638.3 833.5 1634.5Q834.1 1630.8 834.8 1627.8Q835.5 1624.8 836.3 1622.4Q837.1 1620.1 838.0 1618.7Q838.8 1617.2 839.5 1616.5Q840.2 1615.8 840.9 1615.5Q841.6 1615.3 842.3 1615.5Q843.0 1615.8 843.7 1616.5Q844.4 1617.2 845.2 1618.7Q846.1 1620.1 846.9 1622.4Q847.7 1624.8 848.4 1627.8Q849.1 1630.8 849.7 1634.5Q850.3 1638.3 850.8 1642.7Q851.2 1647.1 851.5 1652.0Q851.9 1657.0 852.2 1663.6Q852.5 1670.2 852.7 1677.2Q852.9 1684.1 853.0 1690.2L853.1 1696.3L853.3 1696.3L853.4 1695.6L853.6 1695.6Q853.8 1683.4 854.0 1676.5Q854.2 1669.5 854.5 1662.8Q854.8 1656.2 855.1 1651.2Q855.5 1646.3 856.0 1641.9Q856.4 1637.5 857.0 1633.8Q857.6 1630.1 858.3 1627.0Q859.0 1624.0 859.8 1621.7Q860.6 1619.3 861.5 1617.8Q862.3 1616.4 863.0 1615.7Q863.7 1615.0 864.4 1614.8Q865.1 1614.6 865.8 1614.8Q866.5 1615.0 867.2 1615.7Q867.9 1616.4 868.8 1617.8Q869.6 1619.3 870.4 1621.7Q871.2 1624.0 871.9 1627.0Q872.6 1630.1 873.2 1633.8Q873.8 1637.5 874.2 1641.9Q874.7 1646.3 875.0 1651.2Q875.4 1656.2 875.7 1662.8Q876.0 1669.5 876.2 1676.5Q876.4 1683.4 876.5 1692.0Q876.6 1700.6 876.7 1711.9Q876.8 1723.3 876.8 1725.4L876.9 1727.5Q876.9 1721.3 877.0 1709.9Q877.1 1698.5 877.2 1689.9Q877.3 1681.3 877.5 1674.3Q877.7 1667.4 878.0 1660.8Q878.3 1654.1 878.6 1649.2Q879.0 1644.2 879.5 1639.8Q879.9 1635.5 880.5 1631.8Q881.1 1628.0 881.8 1625.0Q882.5 1621.9 883.3 1619.6Q884.1 1617.2 885.0 1615.8Q885.8 1614.3 886.5 1613.7Q887.2 1613.0 887.9 1612.8Q888.6 1612.5 889.3 1612.8Q890.0 1613.0 890.7 1613.7Q891.4 1614.3 892.2 1615.8Q893.1 1617.2 893.9 1619.6Q894.7 1621.9 895.4 1625.0Q896.1 1628.0 896.7 1631.8Q897.3 1635.5 897.8 1639.8Q898.2 1644.2 898.5 1649.2Q898.9 1654.1 899.2 1660.8Q899.5 1667.4 899.7 1674.3Q899.9 1681.3 900.0 1684.9L900.1 1688.6L900.3 1688.6L900.4 1690.8L900.6 1690.8Q900.8 1683.5 901.0 1676.6Q901.2 1669.7 901.5 1663.1Q901.8 1656.4 902.1 1651.5Q902.5 1646.5 903.0 1642.1Q903.4 1637.7 904.0 1634.0Q904.6 1630.3 905.3 1627.2Q906.0 1624.2 906.8 1621.8Q907.6 1619.5 908.5 1618.0Q909.3 1616.6 910.0 1615.9Q910.7 1615.2 911.4 1615.0Q912.1 1614.8 912.8 1615.0Q913.5 1615.2 914.2 1615.9Q914.9 1616.6 915.8 1618.0Q916.6 1619.5 917.4 1621.8Q918.2 1624.2 918.9 1627.2Q919.6 1630.3 920.2 1634.0Q920.8 1637.7 921.9 1663.8L923.0 1690.0Q930.0 1660.0 933.0 1655.0Q936.0 1650.0 937.1 1646.0Q938.3 1642.0 938.8 1626.9Q939.3 1611.8 940.3 1596.7Q941.3 1581.6 942.8 1566.4Q944.3 1551.3 946.3 1537.2Q948.3 1523.1 950.8 1510.0Q953.4 1497.0 956.9 1485.9Q960.4 1474.8 965.0 1462.7Q969.5 1450.6 974.0 1442.5Q978.5 1434.5 983.5 1431.5Q988.6 1428.5 992.7 1430.5Q996.7 1432.5 1000.2 1434.0Q1003.7 1435.5 1012.2 1436.0Q1020.8 1436.5 1030.9 1432.5Q1041.0 1428.5 1048.0 1430.0Q1055.1 1431.5 1061.2 1433.5Q1067.2 1435.5 1073.2 1434.0Q1079.3 1432.5 1085.3 1431.0Q1091.3 1429.5 1097.3 1432.5Q1103.4 1435.5 1110.5 1436.0Q1117.5 1436.5 1124.0 1433.0Q1130.6 1429.5 1138.2 1435.0Q1145.7 1440.6 1153.8 1451.7Q1161.8 1462.7 1166.3 1474.8Q1170.9 1486.9 1174.4 1500.0Q1177.9 1513.1 1180.0 1525.2Q1182.0 1537.2 1184.0 1549.3Q1186.0 1561.4 1188.0 1574.5Q1190.0 1587.6 1192.0 1600.7Q1194.1 1613.8 1197.5 1625.2Q1201.0 1636.7 1201.5 1641.1Q1202.0 1645.4 1202.3 1650.3Q1202.7 1655.3 1203.0 1661.9Q1203.3 1668.6 1203.4 1675.5Q1203.6 1682.5 1203.8 1683.7L1203.9 1684.9L1204.0 1684.9L1204.1 1685.9Q1204.2 1685.9 1204.2 1685.9L1204.3 1685.9Q1204.6 1683.5 1204.8 1676.5Q1204.9 1669.6 1205.2 1662.9Q1205.5 1656.3 1205.8 1651.3Q1206.2 1646.4 1206.7 1642.0Q1207.2 1637.6 1207.8 1633.9Q1208.3 1630.2 1209.0 1627.2Q1209.7 1624.1 1210.6 1621.8Q1211.4 1619.4 1212.2 1618.0Q1213.0 1616.5 1213.7 1615.8Q1214.4 1615.1 1215.1 1614.9Q1215.8 1614.7 1216.5 1614.9Q1217.3 1615.1 1218.0 1615.8Q1218.7 1616.5 1219.5 1618.0Q1220.3 1619.4 1221.2 1621.8Q1222.0 1624.1 1222.7 1627.2Q1223.4 1630.2 1224.0 1633.9Q1224.5 1637.6 1225.0 1642.0Q1225.5 1646.4 1225.8 1651.3Q1226.2 1656.3 1226.5 1662.9Q1226.8 1669.6 1226.9 1673.5L1227.1 1677.5Q1227.4 1677.5 1227.5 1677.5L1227.5 1677.5L1227.6 1676.9Q1227.7 1676.9 1227.8 1676.9Q1227.8 1676.9 1227.9 1676.9L1228.1 1676.9Q1228.4 1669.0 1228.7 1662.3Q1229.0 1655.7 1229.3 1650.8Q1229.7 1645.8 1230.2 1641.4Q1230.7 1637.0 1231.2 1633.3Q1231.8 1629.6 1232.5 1626.5Q1233.2 1623.5 1234.1 1621.2Q1234.9 1618.8 1235.7 1617.3Q1236.5 1615.9 1237.2 1615.2Q1237.9 1614.5 1238.6 1614.3Q1239.3 1614.1 1240.0 1614.3Q1240.8 1614.5 1241.5 1615.2Q1242.2 1615.9 1243.0 1617.3Q1243.8 1618.8 1244.7 1621.2Q1245.5 1623.5 1246.2 1626.5Q1246.9 1629.6 1247.5 1633.3Q1248.0 1637.0 1248.5 1641.4Q1249.0 1645.8 1249.3 1650.8Q1249.7 1655.7 1250.0 1662.3Q1250.3 1669.0 1250.4 1676.0Q1250.6 1682.9 1250.8 1691.5Q1250.9 1700.1 1251.0 1700.6Q1251.0 1701.1 1251.0 1702.2L1251.1 1703.3L1251.2 1703.3Q1251.3 1702.3 1251.4 1693.7Q1251.6 1685.1 1251.8 1678.2Q1251.9 1671.2 1252.2 1664.6Q1252.5 1658.0 1252.8 1653.0Q1253.2 1648.1 1253.7 1643.7Q1254.2 1639.3 1254.8 1635.5Q1255.3 1631.8 1256.0 1628.8Q1256.7 1625.8 1257.6 1623.4Q1258.4 1621.1 1259.2 1619.7Q1260.0 1618.2 1260.7 1617.5Q1261.4 1616.8 1262.1 1616.5Q1262.8 1616.3 1263.5 1616.5Q1264.3 1616.8 1265.0 1617.5Q1265.7 1618.2 1266.5 1619.7Q1267.3 1621.1 1268.2 1623.4Q1269.0 1625.8 1269.7 1628.8Q1270.4 1631.8 1271.0 1635.5Q1271.5 1639.3 1272.0 1643.7Q1272.5 1648.1 1272.8 1653.0Q1273.2 1658.0 1273.5 1664.6Q1273.8 1671.2 1273.9 1674.0L1274.1 1676.8Q1274.4 1676.8 1274.5 1676.8L1274.5 1676.8L1274.6 1672.9Q1274.7 1672.9 1274.8 1672.9Q1274.8 1672.9 1274.9 1672.9L1275.1 1672.9Q1275.4 1667.3 1275.7 1660.7Q1276.0 1654.0 1276.3 1649.0Q1276.7 1644.1 1277.2 1639.8Q1277.7 1635.4 1278.2 1631.7Q1278.8 1627.9 1279.5 1624.8Q1280.2 1621.8 1281.1 1619.4Q1281.9 1617.1 1282.7 1615.7Q1283.5 1614.2 1284.2 1613.6Q1284.9 1612.9 1285.6 1612.7Q1286.3 1612.4 1287.0 1612.7Q1287.8 1612.9 1288.5 1613.6Q1289.2 1614.2 1290.0 1615.7Q1290.8 1617.1 1291.7 1619.4Q1292.5 1621.8 1293.2 1624.8Q1293.9 1627.9 1294.5 1631.7Q1295.0 1635.4 1295.5 1639.8Q1296.0 1644.1 1296.3 1649.0Q1296.7 1654.0 1297.0 1660.7Q1297.3 1667.3 1297.4 1670.0L1297.6 1672.8Q1297.9 1672.8 1298.0 1672.8L1298.0 1672.8L1298.1 1676.8Q1298.2 1676.8 1298.2 1676.8Q1298.3 1676.8 1298.4 1676.8L1298.6 1676.8Q1298.9 1671.4 1299.2 1664.8Q1299.5 1658.1 1299.8 1653.2Q1300.2 1648.2 1300.7 1643.8Q1301.2 1639.4 1301.8 1635.7Q1302.3 1632.0 1303.0 1629.0Q1303.7 1625.9 1304.6 1623.6Q1305.4 1621.2 1306.2 1619.8Q1307.0 1618.3 1307.7 1617.6Q1308.4 1616.9 1309.1 1616.7Q1309.8 1616.5 1310.5 1616.7Q1311.3 1616.9 1312.0 1617.6Q1312.7 1618.3 1313.5 1619.8Q1314.3 1621.2 1315.2 1623.6Q1316.0 1625.9 1316.7 1629.0Q1317.4 1632.0 1318.0 1635.7Q1318.5 1639.4 1319.0 1643.8Q1319.5 1648.2 1319.8 1653.2Q1320.2 1658.1 1320.5 1664.8Q1320.8 1671.4 1320.9 1678.3Q1321.1 1685.2 1321.2 1688.8L1321.4 1692.5L1321.5 1692.5L1321.6 1686.4Q1321.7 1686.4 1321.8 1686.4L1321.8 1686.4Q1322.1 1679.1 1322.2 1672.2Q1322.4 1665.2 1322.7 1658.6Q1323.0 1651.9 1323.3 1647.0Q1323.7 1642.1 1324.2 1637.7Q1324.7 1633.3 1325.2 1629.5Q1325.8 1625.8 1326.5 1622.8Q1327.2 1619.8 1328.1 1617.4Q1328.9 1615.1 1329.7 1613.6Q1330.5 1612.1 1331.2 1611.4Q1331.9 1610.8 1332.6 1610.5Q1333.3 1610.3 1334.0 1610.5Q1334.8 1610.8 1335.5 1611.4Q1336.2 1612.1 1337.0 1613.6Q1337.8 1615.1 1338.7 1617.4Q1339.5 1619.8 1340.2 1622.8Q1340.9 1625.8 1341.5 1629.5Q1342.0 1633.3 1342.5 1637.7Q1343.0 1642.1 1343.3 1647.0Q1343.7 1651.9 1344.0 1658.6Q1344.3 1665.2 1344.4 1672.2Q1344.6 1679.1 1344.8 1687.7Q1344.9 1696.3 1345.0 1707.7Q1345.0 1719.1 1345.0 1723.4L1345.1 1727.7Q1345.2 1726.5 1345.2 1715.1Q1345.3 1703.7 1345.4 1695.1Q1345.6 1686.5 1345.8 1679.5Q1345.9 1672.6 1346.2 1665.9Q1346.5 1659.3 1346.8 1654.3Q1347.2 1649.4 1347.7 1645.1Q1348.2 1640.7 1348.8 1637.0Q1349.3 1633.2 1350.0 1630.2Q1350.7 1627.1 1351.6 1624.8Q1352.4 1622.4 1353.2 1621.0Q1354.0 1619.5 1354.7 1618.8Q1355.4 1618.2 1356.1 1618.0Q1356.8 1617.7 1357.5 1618.0Q1358.3 1618.2 1359.0 1618.8Q1359.7 1619.5 1360.5 1621.0Q1361.3 1622.4 1362.2 1624.8Q1363.0 1627.1 1363.7 1630.2Q1364.4 1633.2 1365.0 1637.0Q1365.5 1640.7 1366.0 1645.1Q1366.5 1649.4 1366.8 1654.3Q1367.2 1659.3 1367.5 1665.9Q1367.8 1672.6 1367.9 1679.5Q1368.1 1686.5 1368.2 1695.1Q1368.4 1703.7 1368.5 1704.2L1368.5 1704.7L1368.6 1701.9L1368.7 1701.9Q1368.8 1700.9 1368.9 1692.3Q1369.1 1683.7 1369.2 1676.8Q1369.4 1669.8 1369.7 1663.2Q1370.0 1656.5 1370.3 1651.5Q1370.7 1646.6 1371.2 1642.2Q1371.7 1637.9 1372.2 1634.2Q1372.8 1630.4 1373.5 1627.3Q1374.2 1624.3 1375.1 1621.9Q1375.9 1619.6 1376.7 1618.2Q1377.5 1616.7 1378.2 1616.1Q1378.9 1615.4 1379.6 1615.2Q1380.3 1614.9 1381.0 1615.2Q1381.8 1615.4 1382.5 1616.1Q1383.2 1616.7 1384.0 1618.2Q1384.8 1619.6 1385.7 1621.9Q1386.5 1624.3 1387.2 1627.3Q1387.9 1630.4 1388.5 1634.2Q1389.0 1637.9 1389.5 1642.2Q1390.0 1646.6 1390.3 1651.5Q1390.7 1656.5 1391.0 1663.2Q1391.3 1669.8 1391.4 1673.4L1391.6 1677.0Q1391.9 1677.0 1392.0 1677.0L1392.0 1677.0L1392.1 1672.2Q1392.2 1672.2 1392.2 1672.2Q1392.3 1672.2 1392.4 1672.2L1392.6 1672.2Q1392.9 1665.0 1393.2 1658.3Q1393.5 1651.7 1393.8 1646.8Q1394.2 1641.8 1394.7 1637.4Q1395.2 1633.1 1395.8 1629.3Q1396.3 1625.6 1397.0 1622.5Q1397.7 1619.5 1398.6 1617.2Q1399.4 1614.8 1400.2 1613.3Q1401.0 1611.9 1401.7 1611.2Q1402.4 1610.6 1403.1 1610.3Q1403.8 1610.1 1404.5 1610.3Q1405.3 1610.6 1406.0 1611.2Q1406.7 1611.9 1407.5 1613.3Q1408.3 1614.8 1409.2 1617.2Q1410.0 1619.5 1410.7 1622.5Q1411.4 1625.6 1412.0 1629.3Q1412.5 1633.1 1413.0 1637.4Q1413.5 1641.8 1413.8 1646.8Q1414.2 1651.7 1414.5 1658.3Q1414.8 1665.0 1414.9 1672.0Q1415.1 1678.9 1415.2 1680.4L1415.4 1681.9L1415.5 1681.9L1415.6 1682.2Q1415.7 1682.2 1415.8 1682.2L1415.8 1682.2Q1416.1 1679.2 1416.2 1672.3Q1416.4 1665.4 1416.7 1658.8Q1417.0 1652.1 1417.3 1647.2Q1417.7 1642.2 1418.2 1637.8Q1418.7 1633.4 1419.2 1629.7Q1419.8 1626.0 1420.5 1623.0Q1421.2 1619.9 1422.1 1617.6Q1422.9 1615.2 1423.7 1613.8Q1424.5 1612.3 1425.2 1611.6Q1425.9 1610.9 1426.6 1610.7Q1427.3 1610.5 1428.0 1610.7Q1428.8 1610.9 1429.5 1611.6Q1430.2 1612.3 1431.0 1613.8Q1431.8 1615.2 1432.7 1617.6Q1433.5 1619.9 1434.2 1623.0Q1434.9 1626.0 1435.5 1629.7Q1436.0 1633.4 1436.5 1637.8Q1437.0 1642.2 1437.3 1647.2Q1437.7 1652.1 1438.0 1658.8Q1438.3 1665.4 1438.4 1669.4L1438.6 1673.4Q1438.9 1673.4 1439.0 1673.4L1439.0 1673.4L1439.1 1674.9Q1439.2 1674.9 1439.2 1674.9Q1439.3 1674.9 1439.4 1674.9L1439.6 1674.9Q1439.9 1666.8 1440.2 1660.2Q1440.5 1653.5 1440.8 1648.6Q1441.2 1643.7 1441.7 1639.3Q1442.2 1634.9 1442.8 1631.2Q1443.3 1627.4 1444.0 1624.4Q1444.7 1621.4 1445.6 1619.1Q1446.4 1616.7 1447.2 1615.2Q1448.0 1613.7 1448.7 1613.1Q1449.4 1612.4 1450.1 1612.2Q1450.8 1611.9 1451.5 1612.2Q1452.3 1612.4 1453.0 1613.1Q1453.7 1613.7 1454.5 1615.2Q1455.3 1616.7 1456.2 1619.1Q1457.0 1621.4 1457.7 1624.4Q1458.4 1627.4 1459.0 1631.2Q1459.5 1634.9 1460.0 1639.3Q1460.5 1643.7 1460.8 1648.6Q1461.2 1653.5 1461.5 1660.2Q1461.8 1666.8 1461.9 1673.8Q1462.1 1680.7 1462.2 1689.3Q1462.4 1697.9 1462.5 1705.4Q1462.5 1712.9 1462.5 1713.8L1462.6 1714.7L1462.7 1714.7Q1462.8 1699.7 1462.9 1691.1Q1463.1 1682.5 1463.2 1675.5Q1463.4 1668.6 1463.7 1661.9Q1464.0 1655.3 1464.3 1650.3Q1464.7 1645.4 1465.2 1641.1Q1465.7 1636.7 1466.2 1633.0Q1466.8 1629.2 1467.5 1626.2Q1468.2 1623.1 1469.1 1620.8Q1469.9 1618.4 1470.7 1617.0Q1471.5 1615.5 1472.2 1614.8Q1472.9 1614.2 1473.6 1614.0Q1474.3 1613.7 1475.0 1614.0Q1475.8 1614.2 1476.5 1614.8Q1477.2 1615.5 1478.0 1617.0Q1478.8 1618.4 1479.7 1620.8Q1480.5 1623.1 1481.2 1626.2Q1481.9 1629.2 1482.5 1633.0Q1483.0 1636.7 1483.5 1641.1Q1484.0 1645.4 1484.3 1650.3Q1484.7 1655.3 1485.0 1661.9Q1485.3 1668.6 1485.4 1675.5Q1485.6 1682.5 1485.8 1691.1Q1485.9 1699.7 1486.0 1704.2Q1486.0 1708.7 1486.0 1710.2L1486.1 1711.7L1486.2 1711.7Q1486.3 1702.7 1486.4 1694.1Q1486.6 1685.5 1486.8 1678.5Q1486.9 1671.6 1487.2 1664.9Q1487.5 1658.3 1487.8 1653.4Q1488.2 1648.5 1488.7 1644.1Q1489.2 1639.7 1489.8 1636.0Q1490.3 1632.2 1491.0 1629.2Q1491.7 1626.2 1492.6 1623.8Q1493.4 1621.5 1494.2 1620.0Q1495.0 1618.5 1495.7 1617.8Q1496.4 1617.2 1497.1 1617.0Q1497.8 1616.7 1498.5 1617.0Q1499.3 1617.2 1500.0 1617.8Q1500.7 1618.5 1501.5 1620.0Q1502.3 1621.5 1503.2 1623.8Q1504.0 1626.2 1504.7 1629.2Q1505.4 1632.2 1506.0 1636.0Q1506.5 1639.7 1507.0 1644.1Q1507.5 1648.5 1507.8 1653.4Q1508.2 1658.3 1508.5 1664.9Q1508.8 1671.6 1508.9 1678.5Q1509.1 1685.5 1509.2 1694.1Q1509.4 1702.7 1509.5 1714.1Q1509.5 1725.5 1509.5 1728.8L1509.6 1732.1Q1509.7 1723.9 1509.8 1712.5Q1509.8 1701.1 1509.9 1692.5Q1510.1 1683.9 1510.2 1677.0Q1510.4 1670.0 1510.7 1663.3Q1511.0 1656.7 1511.3 1651.8Q1511.7 1646.8 1512.2 1642.4Q1512.7 1638.1 1513.2 1634.3Q1513.8 1630.6 1514.5 1627.5Q1515.2 1624.5 1516.1 1622.2Q1516.9 1619.8 1517.7 1618.3Q1518.5 1616.9 1519.2 1616.2Q1519.9 1615.6 1520.6 1615.3Q1521.3 1615.1 1522.0 1615.3Q1522.8 1615.6 1523.5 1616.2Q1524.2 1616.9 1525.0 1618.3Q1525.8 1619.8 1526.7 1622.2Q1527.5 1624.5 1528.2 1627.5Q1528.9 1630.6 1529.5 1634.3Q1530.0 1638.1 1530.5 1642.4Q1531.0 1646.8 1531.3 1651.8Q1531.7 1656.7 1532.0 1663.3Q1532.3 1670.0 1532.4 1677.0Q1532.6 1683.9 1532.8 1685.0L1532.9 1686.1Q1533.0 1686.1 1533.0 1686.2Q1533.1 1686.3 1533.2 1686.3Q1533.2 1686.3 1533.2 1686.3L1533.3 1686.3Q1533.6 1684.1 1533.8 1677.2Q1533.9 1670.2 1534.2 1663.6Q1534.5 1656.9 1534.8 1652.0Q1535.2 1647.0 1535.7 1642.6Q1536.2 1638.2 1536.8 1634.5Q1537.3 1630.8 1538.0 1627.8Q1538.7 1624.7 1539.6 1622.3Q1540.4 1620.0 1541.2 1618.5Q1542.0 1617.1 1542.7 1616.4Q1543.4 1615.7 1544.1 1615.5Q1544.8 1615.3 1545.5 1615.5Q1546.3 1615.7 1547.0 1616.4Q1547.7 1617.1 1548.5 1618.5Q1549.3 1620.0 1550.2 1622.3Q1551.0 1624.7 1551.7 1627.8Q1552.4 1630.8 1553.0 1634.5Q1553.5 1638.2 1554.0 1642.6Q1554.5 1647.0 1554.8 1652.0Q1555.2 1656.9 1555.5 1663.6Q1555.8 1670.2 1555.9 1677.2Q1556.1 1684.1 1556.2 1684.7L1556.4 1685.2L1556.5 1685.2L1556.6 1682.1Q1556.7 1682.1 1556.8 1682.1L1556.8 1682.1Q1557.1 1681.0 1557.2 1674.0Q1557.4 1667.1 1557.7 1660.4Q1558.0 1653.8 1558.3 1648.8Q1558.7 1643.9 1559.2 1639.6Q1559.7 1635.2 1560.2 1631.5Q1560.8 1627.7 1561.5 1624.7Q1562.2 1621.6 1563.1 1619.2Q1563.9 1616.9 1564.7 1615.5Q1565.5 1614.0 1566.2 1613.3Q1566.9 1612.7 1567.6 1612.5Q1568.3 1612.2 1569.0 1612.5Q1569.8 1612.7 1570.5 1613.3Q1571.2 1614.0 1572.0 1615.5Q1572.8 1616.9 1573.7 1619.2Q1574.5 1621.6 1575.2 1624.7Q1575.9 1627.7 1576.5 1631.5Q1577.0 1635.2 1577.5 1639.6Q1578.0 1643.9 1578.3 1648.8Q1578.7 1653.8 1579.0 1660.4Q1579.3 1667.1 1579.4 1674.0Q1579.6 1681.0 1579.8 1689.6Q1579.9 1698.2 1580.0 1707.7Q1580.0 1717.2 1580.0 1720.1L1580.1 1723.0L1580.2 1723.0Q1580.3 1703.9 1580.4 1695.3Q1580.6 1686.7 1580.8 1679.8Q1580.9 1672.9 1581.2 1666.2Q1581.5 1659.6 1581.8 1654.7Q1582.2 1649.7 1582.7 1645.3Q1583.2 1640.9 1583.8 1637.2Q1584.3 1633.5 1585.0 1630.5Q1585.7 1627.4 1586.6 1625.1Q1587.4 1622.7 1588.2 1621.2Q1589.0 1619.8 1589.7 1619.1Q1590.4 1618.4 1591.1 1618.2Q1591.8 1618.0 1592.5 1618.2Q1593.3 1618.4 1594.0 1619.1Q1594.7 1619.8 1595.5 1621.2Q1596.3 1622.7 1597.2 1625.1Q1598.0 1627.4 1598.7 1630.5Q1599.4 1633.5 1600.0 1637.2Q1600.5 1640.9 1601.0 1645.3Q1601.5 1649.7 1601.8 1654.7Q1602.2 1659.6 1602.5 1666.2Q1602.8 1672.9 1602.9 1679.8Q1603.1 1686.7 1603.2 1692.2L1603.4 1697.8L1603.5 1697.8L1603.6 1695.5Q1603.7 1695.5 1603.8 1695.5L1603.8 1695.5Q1604.1 1684.4 1604.2 1677.5Q1604.4 1670.6 1604.7 1663.9Q1605.0 1657.3 1605.3 1652.3Q1605.7 1647.4 1606.2 1643.0Q1606.7 1638.6 1607.2 1634.9Q1607.8 1631.2 1608.5 1628.2Q1609.2 1625.1 1610.1 1622.8Q1610.9 1620.4 1611.7 1619.0Q1612.5 1617.5 1613.2 1616.8Q1613.9 1616.1 1614.6 1615.9Q1615.3 1615.7 1616.0 1615.9Q1616.8 1616.1 1617.5 1616.8Q1618.2 1617.5 1619.0 1619.0Q1619.8 1620.4 1620.7 1622.8Q1621.5 1625.1 1622.2 1628.2Q1622.9 1631.2 1623.5 1634.9Q1624.0 1638.6 1624.5 1643.0Q1625.0 1647.4 1625.3 1652.3Q1625.7 1657.3 1626.0 1663.9Q1626.3 1670.6 1626.4 1676.2L1626.6 1681.9Q1626.9 1681.9 1627.0 1681.9L1627.0 1681.9L1627.1 1678.0Q1627.2 1678.0 1627.2 1678.0Q1627.3 1678.0 1627.4 1678.0L1627.6 1678.0Q1627.9 1666.7 1628.2 1660.1Q1628.5 1653.4 1628.8 1648.5Q1629.2 1643.6 1629.7 1639.2Q1630.2 1634.8 1630.8 1631.0Q1631.3 1627.3 1632.0 1624.3Q1632.7 1621.3 1633.6 1618.9Q1634.4 1616.6 1635.2 1615.1Q1636.0 1613.6 1636.7 1612.9Q1637.4 1612.3 1638.1 1612.0Q1638.8 1611.8 1639.5 1612.0Q1640.3 1612.3 1641.0 1612.9Q1641.7 1613.6 1642.5 1615.1Q1643.3 1616.6 1644.2 1618.9Q1645.0 1621.3 1645.7 1624.3Q1646.4 1627.3 1647.0 1631.0Q1647.5 1634.8 1648.0 1639.2Q1648.5 1643.6 1648.8 1648.5Q1649.2 1653.4 1649.5 1660.1Q1649.8 1666.7 1649.9 1672.1L1650.1 1677.4Q1650.4 1677.4 1650.5 1677.4L1650.5 1677.4L1650.6 1676.1Q1650.7 1676.1 1650.8 1676.1Q1650.8 1676.1 1650.9 1676.1L1651.1 1676.1Q1651.4 1665.5 1651.7 1658.8Q1652.0 1652.2 1652.3 1647.2Q1652.7 1642.3 1653.2 1637.9Q1653.7 1633.5 1654.2 1629.8Q1654.8 1626.1 1655.5 1623.0Q1656.2 1620.0 1657.1 1617.7Q1657.9 1615.3 1658.7 1613.8Q1659.5 1612.4 1660.2 1611.7Q1660.9 1611.0 1661.6 1610.8Q1662.3 1610.6 1663.0 1610.8Q1663.8 1611.0 1664.5 1611.7Q1665.2 1612.4 1666.0 1613.8Q1666.8 1615.3 1667.7 1617.7Q1668.5 1620.0 1669.2 1623.0Q1669.9 1626.1 1670.5 1629.8Q1671.0 1633.5 1671.5 1637.9Q1672.0 1642.3 1672.3 1647.2Q1672.7 1652.2 1673.0 1658.8Q1673.3 1665.5 1673.4 1672.4Q1673.6 1679.3 1673.8 1683.9L1673.9 1688.5L1674.0 1688.5L1674.1 1691.1Q1674.2 1691.1 1674.2 1691.1L1674.3 1691.1Q1674.6 1682.0 1674.8 1675.0Q1674.9 1668.1 1675.2 1661.4Q1675.5 1654.8 1675.8 1649.8Q1676.2 1644.9 1676.7 1640.5Q1677.2 1636.1 1677.8 1632.4Q1678.3 1628.7 1679.0 1625.7Q1679.7 1622.6 1680.6 1620.2Q1681.4 1617.9 1682.2 1616.5Q1683.0 1615.0 1683.7 1614.3Q1684.4 1613.6 1685.1 1613.4Q1685.8 1613.2 1686.5 1613.4Q1687.3 1613.6 1688.0 1614.3Q1688.7 1615.0 1689.5 1616.5Q1690.3 1617.9 1691.2 1620.2Q1692.0 1622.6 1692.7 1625.7Q1693.4 1628.7 1694.0 1632.4Q1694.5 1636.1 1695.0 1640.5Q1695.5 1644.9 1695.8 1649.8Q1696.2 1654.8 1696.5 1661.4Q1696.8 1668.1 1696.9 1675.0Q1697.1 1682.0 1697.2 1690.6Q1697.4 1699.2 1697.5 1699.7L1697.5 1700.2Q1697.6 1700.1 1697.7 1700.1L1697.7 1700.1Q1697.8 1699.1 1697.9 1690.5Q1698.1 1681.9 1698.2 1675.0Q1698.4 1668.0 1698.7 1661.3Q1699.0 1654.7 1699.3 1649.8Q1699.7 1644.8 1700.2 1640.4Q1700.7 1636.0 1701.2 1632.3Q1701.8 1628.6 1702.5 1625.5Q1703.2 1622.5 1704.1 1620.2Q1704.9 1617.8 1705.7 1616.3Q1706.5 1614.9 1707.2 1614.2Q1707.9 1613.5 1708.6 1613.3Q1709.3 1613.1 1710.0 1613.3Q1710.8 1613.5 1711.5 1614.2Q1712.2 1614.9 1713.0 1616.3Q1713.8 1617.8 1714.7 1620.2Q1715.5 1622.5 1716.2 1625.5Q1716.9 1628.6 1717.5 1632.3Q1718.0 1636.0 1718.5 1640.4Q1719.0 1644.8 1719.3 1649.8Q1719.7 1654.7 1720.0 1661.3Q1720.3 1668.0 1720.4 1675.0Q1720.6 1681.9 1720.8 1690.5Q1720.9 1699.1 1721.0 1710.4Q1721.0 1721.8 1721.0 1764.3L1721.1 1806.8Q1721.2 1725.5 1721.2 1714.2Q1721.3 1702.8 1721.4 1694.2Q1721.6 1685.6 1721.8 1678.7Q1721.9 1671.7 1722.2 1665.1Q1722.5 1658.4 1722.8 1653.5Q1723.2 1648.5 1723.7 1644.1Q1724.2 1639.7 1724.8 1636.0Q1725.3 1632.3 1726.0 1629.2Q1726.7 1626.2 1727.6 1623.8Q1728.4 1621.5 1729.2 1620.0Q1730.0 1618.6 1730.7 1617.9Q1731.4 1617.2 1732.1 1617.0Q1732.8 1616.8 1733.5 1617.0Q1734.3 1617.2 1735.0 1617.9Q1735.7 1618.6 1736.5 1620.0Q1737.3 1621.5 1738.2 1623.8Q1739.0 1626.2 1739.7 1629.2Q1740.4 1632.3 1741.0 1636.0Q1741.5 1639.7 1742.0 1644.1Q1742.5 1648.5 1742.8 1653.5Q1743.2 1658.4 1743.5 1665.1Q1743.8 1671.7 1743.9 1673.2L1744.1 1674.8Q1744.4 1674.8 1744.5 1674.8L1744.5 1674.8L1744.6 1669.7Q1744.7 1669.7 1744.8 1669.7Q1744.8 1669.7 1744.9 1669.7L1745.1 1669.7Q1745.4 1666.6 1745.7 1659.9Q1746.0 1653.3 1746.3 1648.3Q1746.7 1643.4 1747.2 1639.0Q1747.7 1634.6 1748.2 1630.9Q1748.8 1627.2 1749.5 1624.2Q1750.2 1621.1 1751.1 1618.8Q1751.9 1616.4 1752.7 1615.0Q1753.5 1613.5 1754.2 1612.8Q1754.9 1612.1 1755.6 1611.9Q1756.3 1611.7 1757.0 1611.9Q1757.8 1612.1 1758.5 1612.8Q1759.2 1613.5 1760.0 1615.0Q1760.8 1616.4 1761.7 1618.8Q1762.5 1621.1 1763.2 1624.2Q1763.9 1627.2 1764.5 1630.9Q1765.0 1634.6 1765.5 1639.0Q1766.0 1643.4 1766.3 1648.3Q1766.7 1653.3 1767.0 1659.9Q1767.3 1666.6 1767.4 1673.5Q1767.6 1680.5 1767.8 1686.9L1767.9 1693.3L1768.0 1693.3L1768.1 1695.4Q1768.2 1695.4 1768.2 1695.4L1768.3 1695.4Q1768.6 1682.5 1768.8 1675.6Q1768.9 1668.7 1769.2 1662.1Q1769.5 1655.4 1769.8 1650.5Q1770.2 1645.5 1770.7 1641.1Q1771.2 1636.7 1771.8 1633.0Q1772.3 1629.3 1773.0 1626.2Q1773.7 1623.2 1774.6 1620.8Q1775.4 1618.5 1776.2 1617.0Q1777.0 1615.6 1777.7 1614.9Q1778.4 1614.2 1779.1 1614.0Q1779.8 1613.8 1780.5 1614.0Q1781.3 1614.2 1782.0 1614.9Q1782.7 1615.6 1783.5 1617.0Q1784.3 1618.5 1785.2 1620.8Q1786.0 1623.2 1786.7 1626.2Q1787.4 1629.3 1788.0 1633.0Q1788.5 1636.7 1789.0 1641.1Q1789.5 1645.5 1789.8 1650.5Q1790.2 1655.4 1790.5 1662.1Q1790.8 1668.7 1790.9 1675.6Q1791.1 1682.5 1791.2 1691.1Q1791.4 1699.7 1791.5 1711.1Q1791.5 1722.5 1791.5 1725.3L1791.6 1728.2Q1791.7 1721.9 1791.8 1710.6Q1791.8 1699.2 1791.9 1690.6Q1792.1 1682.0 1792.2 1675.0Q1792.4 1668.1 1792.7 1661.4Q1793.0 1654.8 1793.3 1649.8Q1793.7 1644.9 1794.2 1640.5Q1794.7 1636.1 1795.2 1632.4Q1795.8 1628.7 1796.5 1625.7Q1797.2 1622.6 1798.1 1620.2Q1798.9 1617.9 1799.7 1616.5Q1800.5 1615.0 1801.2 1614.3Q1801.9 1613.6 1802.6 1613.4Q1803.3 1613.2 1804.0 1613.4Q1804.8 1613.6 1805.5 1614.3Q1806.2 1615.0 1807.0 1616.5Q1807.8 1617.9 1808.7 1620.2Q1809.5 1622.6 1810.2 1625.7Q1810.9 1628.7 1811.5 1632.4Q1812.0 1636.1 1812.5 1640.5Q1813.0 1644.9 1813.3 1649.8Q1813.7 1654.8 1814.0 1661.4Q1814.3 1668.1 1814.4 1670.6L1814.6 1673.1Q1814.9 1673.1 1815.0 1673.1L1815.0 1673.1L1815.1 1674.9Q1815.2 1674.9 1815.2 1674.9Q1815.3 1674.9 1815.4 1674.9L1815.6 1674.9Q1815.9 1669.9 1816.2 1663.2Q1816.5 1656.6 1816.8 1651.7Q1817.2 1646.8 1817.7 1642.4Q1818.2 1638.0 1818.8 1634.2Q1819.3 1630.5 1820.0 1627.5Q1820.7 1624.5 1821.6 1622.2Q1822.4 1619.8 1823.2 1618.3Q1824.0 1616.8 1824.7 1616.2Q1825.4 1615.5 1826.1 1615.2Q1826.8 1615.0 1827.5 1615.2Q1828.3 1615.5 1829.0 1616.2Q1829.7 1616.8 1830.5 1618.3Q1831.3 1619.8 1832.2 1622.2Q1833.0 1624.5 1833.7 1627.5Q1834.4 1630.5 1835.0 1634.2Q1835.5 1638.0 1836.0 1642.4Q1836.5 1646.8 1836.8 1651.7Q1837.2 1656.6 1837.5 1663.2Q1837.8 1669.9 1837.9 1676.8Q1838.1 1683.8 1838.2 1692.4Q1838.4 1701.0 1838.5 1701.5L1838.5 1702.0L1838.6 1699.2L1838.7 1699.2Q1838.8 1698.1 1838.9 1689.5Q1839.1 1680.9 1839.2 1674.0Q1839.4 1667.1 1839.7 1660.4Q1840.0 1653.8 1840.3 1648.8Q1840.7 1643.9 1841.2 1639.5Q1841.7 1635.1 1842.2 1631.4Q1842.8 1627.7 1843.5 1624.7Q1844.2 1621.6 1845.1 1619.2Q1845.9 1616.9 1846.7 1615.5Q1847.5 1614.0 1848.2 1613.3Q1848.9 1612.6 1849.6 1612.4Q1850.3 1612.2 1851.0 1612.4Q1851.8 1612.6 1852.5 1613.3Q1853.2 1614.0 1854.0 1615.5Q1854.8 1616.9 1855.7 1619.2Q1856.5 1621.6 1857.2 1624.7Q1857.9 1627.7 1858.5 1631.4Q1859.0 1635.1 1859.5 1639.5Q1860.0 1643.9 1860.3 1648.8Q1860.7 1653.8 1861.0 1660.4Q1861.3 1667.1 1861.4 1669.8L1861.6 1672.4Q1861.9 1672.4 1862.0 1672.4L1862.0 1672.4L1862.1 1672.9Q1862.2 1672.9 1862.2 1672.9Q1862.3 1672.9 1862.4 1672.9L1862.6 1672.9Q1862.9 1667.6 1863.2 1660.9Q1863.5 1654.3 1863.8 1649.3Q1864.2 1644.4 1864.7 1640.0Q1865.2 1635.6 1865.8 1631.9Q1866.3 1628.2 1867.0 1625.2Q1867.7 1622.1 1868.6 1619.8Q1869.4 1617.4 1870.2 1616.0Q1871.0 1614.5 1871.7 1613.8Q1872.4 1613.1 1873.1 1612.9Q1873.8 1612.7 1874.5 1612.9Q1875.3 1613.1 1876.0 1613.8Q1876.7 1614.5 1877.5 1616.0Q1878.3 1617.4 1879.2 1619.8Q1880.0 1622.1 1880.7 1625.2Q1881.4 1628.2 1882.0 1631.9Q1882.5 1635.6 1883.0 1640.0Q1883.5 1644.4 1883.8 1649.3Q1884.2 1654.3 1884.5 1660.9Q1884.8 1667.6 1884.9 1674.5Q1885.1 1681.4 1885.2 1688.6L1885.4 1695.7L1885.5 1695.7L1885.6 1699.1Q1885.7 1699.1 1885.8 1699.1L1885.8 1699.1Q1886.1 1684.8 1886.2 1677.9Q1886.4 1671.0 1886.7 1664.3Q1887.0 1657.7 1887.3 1652.8Q1887.7 1647.8 1888.2 1643.4Q1888.7 1639.0 1889.2 1635.3Q1889.8 1631.6 1890.5 1628.5Q1891.2 1625.5 1892.1 1623.2Q1892.9 1620.8 1893.7 1619.3Q1894.5 1617.9 1895.2 1617.2Q1895.9 1616.5 1896.6 1616.3Q1897.3 1616.1 1898.0 1616.3Q1898.8 1616.5 1899.5 1617.2Q1900.2 1617.9 1901.0 1619.3Q1901.8 1620.8 1902.7 1623.2Q1903.5 1625.5 1904.2 1628.5Q1904.9 1631.6 1905.5 1635.3Q1906.0 1639.0 1906.5 1643.4Q1907.0 1647.8 1907.3 1652.8Q1907.7 1657.7 1908.0 1664.3Q1908.3 1671.0 1908.4 1677.9Q1908.6 1684.8 1908.8 1693.4Q1908.9 1702.0 1909.0 1708.5L1909.0 1715.1L1909.1 1711.0L1909.2 1711.0Q1909.3 1698.0 1909.4 1689.3Q1909.6 1680.7 1909.8 1673.8Q1909.9 1666.9 1910.2 1660.2Q1910.5 1653.6 1910.8 1648.7Q1911.2 1643.7 1911.7 1639.3Q1912.2 1634.9 1912.8 1631.2Q1913.3 1627.5 1914.0 1624.5Q1914.7 1621.4 1915.6 1619.1Q1916.4 1616.7 1917.2 1615.2Q1918.0 1613.8 1918.7 1613.1Q1919.4 1612.4 1920.1 1612.2Q1920.8 1612.0 1921.5 1612.2Q1922.3 1612.4 1923.0 1613.1Q1923.7 1613.8 1924.5 1615.2Q1925.3 1616.7 1926.2 1619.1Q1927.0 1621.4 1927.7 1624.5Q1928.4 1627.5 1929.0 1631.2Q1929.5 1634.9 1930.0 1639.3Q1930.5 1643.7 1930.8 1648.7Q1931.2 1653.6 1931.5 1660.2Q1931.8 1666.9 1931.9 1673.8Q1932.1 1680.7 1932.2 1689.3Q1932.4 1698.0 1932.5 1709.3Q1932.5 1720.7 1932.5 1757.6L1932.6 1794.5Q1932.7 1719.2 1932.8 1707.8Q1932.8 1696.5 1932.9 1687.9Q1933.1 1679.3 1933.2 1672.3Q1933.4 1665.4 1933.7 1658.8Q1934.0 1652.1 1934.3 1647.2Q1934.7 1642.2 1935.2 1637.8Q1935.7 1633.4 1936.2 1629.7Q1936.8 1626.0 1937.5 1623.0Q1938.2 1619.9 1939.1 1617.6Q1939.9 1615.2 1940.7 1613.8Q1941.5 1612.3 1942.2 1611.6Q1942.9 1610.9 1943.6 1610.7Q1944.3 1610.5 1945.0 1610.7Q1945.8 1610.9 1946.5 1611.6Q1947.2 1612.3 1948.0 1613.8Q1948.8 1615.2 1949.7 1617.6Q1950.5 1619.9 1951.2 1623.0Q1951.9 1626.0 1952.5 1629.7Q1953.0 1633.4 1953.5 1637.8Q1954.0 1642.2 1954.3 1647.2Q1954.7 1652.1 1955.0 1658.8Q1955.3 1665.4 1955.4 1672.3Q1955.6 1679.3 1955.8 1687.9Q1955.9 1696.5 1956.0 1707.8Q1956.0 1719.2 1956.0 1756.8L1956.1 1794.4Q1956.2 1720.2 1956.2 1708.8Q1956.3 1697.4 1956.4 1688.8Q1956.6 1680.2 1956.8 1673.2Q1956.9 1666.3 1957.2 1659.7Q1957.5 1653.0 1957.8 1648.0Q1958.2 1643.1 1958.7 1638.8Q1959.2 1634.4 1959.8 1630.7Q1960.3 1626.9 1961.0 1623.8Q1961.7 1620.8 1962.6 1618.4Q1963.4 1616.1 1964.2 1614.7Q1965.0 1613.2 1965.7 1612.6Q1966.4 1611.9 1967.1 1611.7Q1967.8 1611.4 1968.5 1611.7Q1969.3 1611.9 1970.0 1612.6Q1970.7 1613.2 1971.5 1614.7Q1972.3 1616.1 1973.2 1618.4Q1974.0 1620.8 1974.7 1623.8Q1975.4 1626.9 1976.0 1630.7Q1976.5 1634.4 1977.0 1638.8Q1977.5 1643.1 1977.8 1648.0Q1978.2 1653.0 1978.5 1659.7Q1978.8 1666.3 1978.9 1673.2Q1979.1 1680.2 1979.2 1682.1L1979.4 1684.0L1979.5 1684.0L1979.6 1686.1Q1979.7 1686.1 1979.8 1686.1L1979.8 1686.1Q1980.1 1682.4 1980.2 1675.5Q1980.4 1668.5 1980.7 1661.8Q1981.0 1655.2 1981.3 1650.2Q1981.7 1645.3 1982.2 1640.9Q1982.7 1636.5 1983.2 1632.8Q1983.8 1629.1 1984.5 1626.0Q1985.2 1623.0 1986.1 1620.7Q1986.9 1618.3 1987.7 1616.8Q1988.5 1615.4 1989.2 1614.7Q1989.9 1614.0 1990.6 1613.8Q1991.3 1613.6 1992.0 1613.8Q1992.8 1614.0 1993.5 1614.7Q1994.2 1615.4 1995.0 1616.8Q1995.8 1618.3 1996.7 1620.7Q1997.5 1623.0 1998.2 1626.0Q1998.9 1629.1 1999.5 1632.8Q2000.0 1636.5 2000.5 1640.9Q2001.0 1645.3 2001.3 1650.2Q2001.7 1655.2 2002.0 1661.8Q2002.3 1668.5 2002.4 1672.5L2002.6 1676.5Q2002.9 1676.5 2003.0 1676.5L2003.0 1676.5L2003.1 1678.8Q2003.2 1678.8 2003.2 1678.8Q2003.3 1678.8 2003.4 1678.8L2003.6 1678.8Q2003.9 1670.8 2004.2 1664.2Q2004.5 1657.5 2004.8 1652.5Q2005.2 1647.6 2005.7 1643.2Q2006.2 1638.8 2006.8 1635.1Q2007.3 1631.4 2008.0 1628.3Q2008.7 1625.3 2009.6 1622.9Q2010.4 1620.6 2011.2 1619.2Q2012.0 1617.7 2012.7 1617.0Q2013.4 1616.3 2014.1 1616.1Q2014.8 1615.9 2015.5 1616.1Q2016.3 1616.3 2017.0 1617.0Q2017.7 1617.7 2018.5 1619.2Q2019.3 1620.6 2020.2 1622.9Q2021.0 1625.3 2021.7 1628.3Q2022.4 1631.4 2023.0 1635.1Q2023.5 1638.8 2024.0 1643.2Q2024.5 1647.6 2024.8 1652.5Q2025.2 1657.5 2025.5 1664.2Q2025.8 1670.8 2025.9 1674.0L2026.1 1677.3Q2026.4 1677.3 2026.5 1677.3L2026.5 1677.3L2026.6 1676.6Q2026.7 1676.6 2026.8 1676.6Q2026.8 1676.6 2026.9 1676.6L2027.1 1676.6Q2027.4 1670.1 2027.7 1663.4Q2028.0 1656.8 2028.3 1651.8Q2028.7 1646.9 2029.2 1642.5Q2029.7 1638.1 2030.2 1634.4Q2030.8 1630.7 2031.5 1627.7Q2032.2 1624.6 2033.1 1622.2Q2033.9 1619.9 2034.7 1618.5Q2035.5 1617.0 2036.2 1616.3Q2036.9 1615.6 2037.6 1615.3Q2038.3 1615.1 2039.0 1615.3Q2039.8 1615.6 2040.5 1616.3Q2041.2 1617.0 2042.0 1618.5Q2042.8 1619.9 2043.7 1622.2Q2044.5 1624.6 2045.2 1627.7Q2045.9 1630.7 2046.5 1634.4Q2047.0 1638.1 2047.5 1642.5Q2048.0 1646.9 2048.3 1651.8Q2048.7 1656.8 2049.0 1663.4Q2049.3 1670.1 2049.4 1677.0Q2049.6 1683.9 2049.8 1692.5Q2049.9 1701.1 2049.9 1712.5Q2050.0 1723.9 2050.1 1725.5L2050.1 1727.0Q2050.2 1722.1 2050.2 1710.7Q2050.3 1699.3 2050.4 1690.7Q2050.6 1682.1 2050.8 1675.2Q2050.9 1668.3 2051.2 1661.7Q2051.5 1655.0 2051.8 1650.0Q2052.2 1645.1 2052.7 1640.7Q2053.2 1636.3 2053.8 1632.6Q2054.3 1628.9 2055.0 1625.8Q2055.7 1622.8 2056.6 1620.4Q2057.4 1618.1 2058.2 1616.7Q2059.0 1615.2 2059.7 1614.5Q2060.4 1613.8 2061.1 1613.6Q2061.8 1613.4 2062.6 1613.6Q2063.3 1613.8 2064.0 1614.5Q2064.7 1615.2 2065.5 1616.7Q2066.3 1618.1 2067.2 1620.4Q2068.0 1622.8 2068.7 1625.8Q2069.4 1628.9 2069.9 1632.6Q2070.5 1636.3 2071.0 1640.7Q2071.5 1645.1 2071.8 1650.0Q2072.2 1655.0 2072.5 1661.7Q2072.8 1668.3 2072.9 1675.2Q2073.1 1682.1 2073.2 1690.7Q2073.4 1699.3 2073.4 1710.3L2073.5 1721.4L2073.6 1720.2L2073.7 1720.2Q2073.8 1698.1 2073.9 1689.5Q2074.1 1680.9 2074.2 1674.0Q2074.4 1667.1 2074.7 1660.4Q2075.0 1653.8 2075.3 1648.8Q2075.7 1643.9 2076.2 1639.5Q2076.7 1635.1 2077.2 1631.4Q2077.8 1627.7 2078.5 1624.7Q2079.2 1621.6 2080.1 1619.2Q2080.9 1616.9 2081.7 1615.5Q2082.5 1614.0 2083.2 1613.3Q2083.9 1612.6 2084.6 1612.4Q2085.3 1612.2 2086.1 1612.4Q2086.8 1612.6 2087.5 1613.3Q2088.2 1614.0 2089.0 1615.5Q2089.8 1616.9 2090.7 1619.2Q2091.5 1621.6 2092.2 1624.7Q2092.9 1627.7 2093.4 1631.4Q2094.0 1635.1 2094.5 1639.5Q2095.0 1643.9 2095.3 1648.8Q2095.7 1653.8 2096.0 1660.4Q2096.3 1667.1 2096.4 1674.0Q2096.6 1680.9 2096.9 1695.4L2096.9 1695.4" fill="none" stroke="#0072BD" stroke-width="8" stroke-linecap="round" stroke-linejoin="round" stroke-dasharray="7 19.5"/>
<path d="M200.4 1740.2Q202.1 1761.6 203.3 1779.2L204.5 1796.8Q207.1 1761.6 208.1 1746.4Q209.1 1731.3 211.6 1722.8Q214.2 1714.2 217.2 1710.2Q220.2 1706.2 224.2 1703.8Q228.3 1701.5 233.0 1700.7L233.0 1700.7" fill="none" stroke="#FF00FF" stroke-width="8.6" stroke-linecap="round" stroke-linejoin="round"/>
<path d="M278.4 1693.5Q284.7 1694.1 289.7 1696.6Q294.7 1699.1 299.2 1703.2Q303.8 1707.2 307.3 1712.2Q310.8 1717.2 313.4 1722.2Q315.9 1727.3 316.2 1727.6L316.2 1727.6" fill="none" stroke="#FF00FF" stroke-width="8.6" stroke-linecap="round" stroke-linejoin="round"/>
<path d="M322.1 1773.4Q322.9 1785.7 323.7 1793.8L324.5 1801.8Q326.0 1787.7 326.5 1774.7Q327.0 1761.6 328.0 1749.5Q329.0 1737.4 331.0 1728.3Q333.0 1719.3 336.0 1713.2Q339.0 1707.2 343.1 1702.7Q347.1 1698.1 352.1 1695.1Q357.2 1692.1 362.2 1690.3Q367.2 1688.6 370.5 1688.3L370.5 1688.3" fill="none" stroke="#FF00FF" stroke-width="8.6" stroke-linecap="round" stroke-linejoin="round"/>
<path d="M402.7 1716.8Q405.5 1725.3 407.5 1734.3Q409.5 1743.4 411.1 1754.5Q412.6 1765.6 413.6 1778.7Q414.6 1791.8 415.1 1809.9L415.6 1828.0Q417.2 1791.8 417.9 1778.7Q418.6 1765.6 420.1 1754.5Q421.6 1743.4 424.1 1734.3Q426.7 1725.3 430.2 1719.2Q433.7 1713.2 437.8 1708.2Q441.8 1703.1 446.8 1698.6Q451.8 1694.1 458.6 1690.4L458.6 1690.4" fill="none" stroke="#FF00FF" stroke-width="8.6" stroke-linecap="round" stroke-linejoin="round"/>
<path d="M495.8 1698.5Q500.2 1707.2 502.7 1716.2Q505.2 1725.3 506.7 1737.4Q508.2 1749.5 508.9 1765.6Q509.6 1781.7 509.9 1801.3L510.2 1821.0Q511.2 1781.7 512.0 1765.6Q512.7 1749.5 514.0 1739.4Q515.3 1729.3 517.8 1721.2Q520.3 1713.2 524.3 1708.7Q528.4 1704.1 533.4 1702.1Q538.4 1700.1 545.7 1700.5L545.7 1700.5" fill="none" stroke="#FF00FF" stroke-width="8.6" stroke-linecap="round" stroke-linejoin="round"/>
<path d="M581.6 1725.0Q584.8 1737.4 586.0 1749.5Q587.2 1761.6 587.8 1771.7L588.4 1781.7Q590.1 1761.6 591.1 1752.5Q592.1 1743.4 594.1 1732.3Q596.1 1721.3 599.2 1713.2Q602.2 1705.2 606.2 1699.2Q610.2 1693.1 615.2 1689.0Q620.3 1685.0 626.3 1683.5Q632.4 1682.0 638.5 1683.0Q644.5 1684.0 649.5 1686.5Q654.5 1689.0 658.5 1693.0Q662.6 1697.1 665.6 1702.2Q668.6 1707.2 671.2 1714.2Q673.7 1721.3 675.7 1731.3Q677.7 1741.4 679.2 1751.5Q680.7 1761.6 681.4 1765.6L682.1 1769.6Q683.7 1753.5 684.7 1743.5Q685.7 1733.4 687.2 1725.3Q688.8 1717.2 691.4 1710.7L691.4 1710.7" fill="none" stroke="#FF00FF" stroke-width="8.6" stroke-linecap="round" stroke-linejoin="round"/>
<path d="M720.6 1678.8Q729.0 1676.0 735.0 1675.0Q741.1 1673.9 746.2 1674.4Q751.2 1674.9 756.2 1677.5Q761.3 1680.0 765.8 1684.0Q770.3 1688.0 773.8 1693.5Q777.4 1699.1 779.9 1706.2Q782.4 1713.2 784.4 1722.2Q786.4 1731.3 787.8 1741.4Q789.1 1751.5 789.8 1761.3L790.5 1771.2Q792.5 1757.5 793.1 1751.3L793.1 1751.3" fill="none" stroke="#FF00FF" stroke-width="8.6" stroke-linecap="round" stroke-linejoin="round"/>
<path d="M803.0 1696.3Q807.6 1691.1 811.6 1688.0Q815.6 1685.0 819.7 1683.5Q823.7 1682.0 827.8 1682.7Q831.8 1683.4 835.8 1686.2Q839.8 1689.0 844.4 1694.2L844.4 1694.2" fill="none" stroke="#FF00FF" stroke-width="8.6" stroke-linecap="round" stroke-linejoin="round"/>
<path d="M859.3 1738.2Q861.0 1757.5 862.0 1769.6Q863.0 1781.7 863.5 1788.8L864.0 1795.8Q865.6 1771.6 866.6 1756.5Q867.6 1741.4 869.3 1731.3Q871.0 1721.3 873.5 1716.2Q876.1 1711.2 880.1 1709.7Q884.1 1708.2 888.8 1710.5L888.8 1710.5" fill="none" stroke="#FF00FF" stroke-width="8.6" stroke-linecap="round" stroke-linejoin="round"/>
<path d="M924.1 1707.8 L924.4 1718.2" fill="none" stroke="#FF00FF" stroke-width="8.6" stroke-linecap="round" stroke-linejoin="round"/>
<path d="M929.0 1696.2Q929.5 1640.0 930.8 1620.0Q932.0 1600.0 934.2 1590.0Q936.5 1580.0 938.0 1564.0Q939.5 1548.0 940.2 1530.0Q941.0 1512.0 942.2 1501.0Q943.5 1490.0 948.5 1481.5Q953.4 1473.0 958.4 1462.0Q963.4 1451.0 968.6 1442.3L968.6 1442.3" fill="none" stroke="#FF00FF" stroke-width="8.6" stroke-linecap="round" stroke-linejoin="round"/>
<path d="M991.6 1435.5Q995.7 1437.5 998.7 1442.6L998.7 1442.6" fill="none" stroke="#FF00FF" stroke-width="8.6" stroke-linecap="round" stroke-linejoin="round"/>
<path d="M1005.4 1452.3Q1007.8 1464.7 1009.9 1481.1L1009.9 1481.1" fill="none" stroke="#FF00FF" stroke-width="8.6" stroke-linecap="round" stroke-linejoin="round"/>
<path d="M1023.0 1481.1Q1025.3 1464.7 1027.1 1458.7Q1028.9 1452.6 1031.4 1446.6Q1033.9 1440.6 1037.5 1437.5Q1041.0 1434.5 1047.0 1432.7Q1053.1 1430.9 1059.2 1430.5Q1065.2 1430.1 1071.2 1430.5Q1077.2 1430.9 1080.8 1433.7Q1084.3 1436.5 1086.2 1439.4L1086.2 1439.4" fill="none" stroke="#FF00FF" stroke-width="8.6" stroke-linecap="round" stroke-linejoin="round"/>
<path d="M1104.9 1477.0 L1105.9 1468.5" fill="none" stroke="#FF00FF" stroke-width="8.6" stroke-linecap="round" stroke-linejoin="round"/>
<path d="M1120.2 1469.1Q1122.6 1456.7 1125.1 1449.7Q1127.6 1442.6 1130.6 1439.3Q1133.6 1436.1 1136.7 1435.5Q1139.7 1434.9 1143.2 1437.2Q1146.7 1439.6 1151.2 1444.1Q1155.8 1448.6 1159.8 1454.7Q1163.8 1460.7 1168.2 1469.4L1168.2 1469.4" fill="none" stroke="#FF00FF" stroke-width="8.6" stroke-linecap="round" stroke-linejoin="round"/>
<path d="M1208.7 1721.5Q1209.2 1717.2 1210.7 1712.2Q1212.2 1707.2 1214.8 1702.2Q1217.3 1697.1 1220.8 1692.5Q1224.3 1688.0 1228.3 1685.3Q1232.4 1682.6 1237.4 1681.3Q1242.4 1680.0 1247.5 1679.8Q1252.5 1679.6 1255.8 1679.8L1255.8 1679.8" fill="none" stroke="#FF00FF" stroke-width="8.6" stroke-linecap="round" stroke-linejoin="round"/>
<path d="M1295.5 1699.8Q1300.8 1705.2 1303.3 1711.2Q1305.9 1717.2 1307.6 1725.3Q1309.3 1733.4 1310.3 1743.5Q1311.3 1753.5 1311.9 1765.6Q1312.5 1777.7 1313.1 1792.8L1313.7 1807.9L1314.5 1807.9Q1316.0 1761.6 1317.0 1746.4Q1318.0 1731.3 1319.5 1722.2Q1321.0 1713.2 1323.0 1707.2Q1325.0 1701.1 1328.0 1695.0Q1331.1 1689.0 1335.1 1684.0Q1339.1 1679.0 1343.2 1676.2Q1347.2 1673.3 1351.2 1672.1Q1355.2 1670.9 1356.1 1670.8L1356.1 1670.8" fill="none" stroke="#FF00FF" stroke-width="8.6" stroke-linecap="round" stroke-linejoin="round"/>
<path d="M1394.9 1686.9Q1397.5 1690.1 1400.0 1695.6Q1402.6 1701.1 1404.6 1708.2Q1406.6 1715.2 1408.1 1723.2Q1409.6 1731.3 1410.6 1739.4Q1411.6 1747.5 1412.6 1759.0L1413.6 1770.6Q1415.6 1751.5 1416.7 1741.4Q1417.7 1731.3 1419.2 1724.2Q1420.7 1717.2 1422.7 1711.2Q1424.7 1705.2 1428.2 1699.2Q1431.8 1693.1 1436.3 1689.5Q1440.8 1686.0 1445.8 1684.7Q1450.9 1683.4 1456.0 1684.2Q1461.0 1685.0 1465.5 1687.5Q1470.0 1690.1 1474.0 1694.6Q1478.1 1699.1 1481.6 1704.2Q1485.1 1709.2 1488.7 1714.2Q1492.2 1719.3 1495.3 1721.9L1495.3 1721.9" fill="none" stroke="#FF00FF" stroke-width="8.6" stroke-linecap="round" stroke-linejoin="round"/>
<path d="M1522.7 1725.3Q1526.4 1720.3 1529.5 1717.2Q1532.5 1714.2 1536.5 1712.9Q1540.5 1711.6 1544.5 1712.2Q1548.6 1712.8 1552.6 1715.0Q1556.6 1717.2 1560.7 1720.2Q1564.7 1723.3 1569.6 1727.5L1569.6 1727.5" fill="none" stroke="#FF00FF" stroke-width="8.6" stroke-linecap="round" stroke-linejoin="round"/>
<path d="M1610.9 1769.4Q1611.4 1781.7 1612.1 1796.8Q1612.8 1811.9 1613.6 1826.5L1614.4 1841.1Q1616.0 1811.9 1616.7 1801.8Q1617.4 1791.8 1618.4 1783.7Q1619.4 1775.6 1621.5 1767.3L1621.5 1767.3" fill="none" stroke="#FF00FF" stroke-width="8.6" stroke-linecap="round" stroke-linejoin="round"/>
<path d="M1641.9 1730.0Q1644.6 1731.3 1647.6 1735.3Q1650.6 1739.4 1653.2 1745.5Q1655.7 1751.5 1657.7 1759.5Q1659.7 1767.6 1661.0 1776.7Q1662.3 1785.7 1663.0 1795.8L1663.7 1805.9Q1665.1 1785.7 1666.2 1775.7Q1667.2 1765.6 1669.0 1755.5Q1670.8 1745.4 1673.3 1739.9Q1675.8 1734.4 1678.3 1733.7Q1680.8 1733.0 1683.3 1734.7Q1685.9 1736.4 1688.4 1744.0Q1690.9 1751.5 1692.9 1761.5Q1694.9 1771.6 1696.0 1781.7Q1697.0 1791.8 1696.7 1801.1L1696.7 1801.1" fill="none" stroke="#FF00FF" stroke-width="8.6" stroke-linecap="round" stroke-linejoin="round"/>
<path d="M1702.9 1741.7Q1705.0 1733.4 1707.5 1727.3Q1710.1 1721.3 1713.1 1717.2Q1716.1 1713.2 1719.6 1712.0Q1723.1 1710.8 1728.2 1710.7Q1733.2 1710.6 1738.5 1710.7L1738.5 1710.7" fill="none" stroke="#FF00FF" stroke-width="8.6" stroke-linecap="round" stroke-linejoin="round"/>
<path d="M1782.2 1700.9Q1787.6 1702.1 1791.6 1704.7Q1795.6 1707.2 1799.2 1711.2Q1802.7 1715.2 1805.7 1721.2Q1808.7 1727.3 1810.8 1735.3Q1812.8 1743.4 1814.1 1754.5Q1815.4 1765.6 1816.2 1781.7Q1817.0 1797.8 1817.7 1822.5L1818.4 1847.2Q1819.6 1797.8 1820.0 1781.7Q1820.4 1765.6 1820.9 1754.5Q1821.4 1743.4 1822.6 1736.3Q1823.8 1729.3 1826.3 1723.8Q1828.9 1718.2 1832.4 1713.9Q1835.9 1709.6 1841.0 1707.6Q1846.0 1705.6 1851.0 1705.2Q1856.1 1704.8 1862.2 1708.0Q1868.2 1711.2 1871.7 1716.2Q1875.2 1721.3 1877.7 1728.3Q1880.2 1735.4 1881.8 1744.5Q1883.3 1753.5 1884.3 1765.6Q1885.3 1777.7 1885.8 1793.3L1886.3 1808.9Q1887.9 1777.7 1889.1 1765.6Q1890.3 1753.5 1892.3 1745.5Q1894.3 1737.4 1897.8 1729.8L1897.8 1729.8" fill="none" stroke="#FF00FF" stroke-width="8.6" stroke-linecap="round" stroke-linejoin="round"/>
<path d="M1927.5 1705.6Q1931.6 1709.2 1934.6 1715.2Q1937.6 1721.3 1939.7 1730.3Q1941.7 1739.4 1943.0 1750.5Q1944.3 1761.6 1945.0 1775.7Q1945.7 1789.7 1945.7 1789.8L1945.7 1789.8Q1947.7 1753.2 1949.0 1742.1Q1950.3 1731.0 1952.0 1724.2Q1953.7 1717.4 1954.6 1715.6L1954.6 1715.6" fill="none" stroke="#FF00FF" stroke-width="8.6" stroke-linecap="round" stroke-linejoin="round"/>
<path d="M1988.7 1692.6Q1992.1 1694.3 1995.5 1697.3Q1998.9 1700.3 2001.9 1704.2Q2004.9 1708.0 2007.8 1712.7Q2010.8 1717.4 2014.2 1723.3Q2017.7 1729.3 2020.2 1736.9Q2022.8 1744.6 2024.3 1757.4Q2025.9 1770.2 2026.9 1783.0Q2027.9 1795.8 2028.5 1809.8L2029.1 1823.9Q2030.1 1795.8 2030.7 1783.0Q2031.3 1770.2 2032.2 1760.0Q2033.0 1749.8 2034.3 1742.1Q2035.6 1734.4 2037.3 1728.5Q2039.0 1722.5 2041.5 1717.8Q2044.1 1713.1 2047.6 1709.1L2047.6 1709.1" fill="none" stroke="#FF00FF" stroke-width="8.6" stroke-linecap="round" stroke-linejoin="round"/>
<path d="M2080.5 1714.0Q2083.3 1720.8 2085.0 1728.4Q2086.7 1736.1 2088.0 1745.5Q2089.3 1754.9 2090.2 1763.8L2091.0 1772.8L2092.7 1772.8Q2094.4 1754.9 2095.2 1748.1Q2096.1 1741.2 2097.1 1736.4L2097.1 1736.4" fill="none" stroke="#FF00FF" stroke-width="8.6" stroke-linecap="round" stroke-linejoin="round"/>
<path d="M199.1 1697.1Q206.1 1707.2 209.1 1714.2Q212.2 1721.3 215.2 1730.3Q218.2 1739.4 220.2 1748.5Q222.2 1757.5 223.7 1767.6Q225.2 1777.7 226.2 1787.8Q227.3 1797.8 228.0 1803.3L228.7 1808.9Q230.3 1795.8 231.3 1783.7Q232.3 1771.6 233.8 1761.5Q235.3 1751.5 237.3 1745.0Q239.3 1738.4 241.9 1735.3L244.4 1732.3Q249.4 1738.4 251.4 1746.0Q253.4 1753.5 254.9 1763.5Q256.5 1773.6 257.7 1785.7Q258.9 1797.8 259.9 1808.9L260.9 1820.0Q262.9 1797.8 264.2 1784.7Q265.5 1771.6 267.6 1759.5Q269.6 1747.5 272.6 1737.4Q275.6 1727.3 279.1 1720.2Q282.6 1713.2 286.6 1708.7Q290.7 1704.1 295.2 1702.1Q299.8 1700.1 304.3 1699.8Q308.8 1699.5 313.4 1701.3Q317.9 1703.1 321.9 1707.2Q326.0 1711.2 329.0 1717.2Q332.0 1723.3 334.3 1731.3Q336.6 1739.4 338.4 1749.5Q340.1 1759.5 341.1 1770.6Q342.1 1781.7 342.8 1791.8Q343.5 1801.8 344.0 1806.3L344.5 1810.9Q345.7 1797.8 346.6 1785.7Q347.5 1773.6 348.8 1761.5Q350.1 1749.5 352.1 1739.4Q354.1 1729.3 357.1 1721.2Q360.2 1713.2 364.2 1706.7Q368.2 1700.1 372.8 1695.6Q377.3 1691.1 382.4 1688.5Q387.4 1686.0 392.4 1685.0Q397.5 1684.0 402.5 1684.3Q407.5 1684.6 412.6 1686.3Q417.6 1688.0 422.6 1691.5Q427.7 1695.1 432.2 1700.2Q436.7 1705.2 440.2 1711.2Q443.8 1717.2 446.3 1724.2Q448.8 1731.3 450.3 1740.4Q451.8 1749.5 453.0 1759.5Q454.2 1769.6 455.0 1776.7L455.9 1783.7Q457.9 1769.6 459.1 1758.5Q460.3 1747.5 461.9 1737.4Q463.5 1727.3 466.2 1719.2Q469.0 1711.2 472.5 1705.2Q476.0 1699.1 480.6 1695.1Q485.1 1691.1 489.6 1689.2Q494.1 1687.4 499.1 1687.7Q504.2 1688.0 509.2 1690.5Q514.3 1693.1 519.3 1698.1Q524.3 1703.1 528.3 1709.2Q532.4 1715.2 535.9 1722.2Q539.4 1729.3 542.0 1738.4Q544.5 1747.5 546.0 1758.5Q547.5 1769.6 548.3 1781.7Q549.1 1793.8 549.6 1801.3L550.1 1808.9Q551.5 1793.8 552.5 1781.7Q553.5 1769.6 555.2 1758.5Q557.0 1747.5 559.8 1739.4Q562.6 1731.3 566.7 1725.3Q570.7 1719.3 575.7 1713.2Q580.7 1707.2 583.4 1705.7Q586.0 1704.1 590.0 1703.1Q594.1 1702.1 598.2 1703.7Q602.2 1705.2 606.2 1709.2Q610.2 1713.2 613.8 1719.2Q617.3 1725.3 619.8 1733.3Q622.3 1741.4 623.8 1751.5Q625.3 1761.6 626.6 1774.7Q627.9 1787.7 628.9 1797.8Q629.9 1807.9 630.6 1812.4L631.4 1816.9Q632.8 1801.8 633.6 1789.8Q634.4 1777.7 635.4 1766.6Q636.4 1755.5 638.4 1749.5L640.4 1743.4Q644.0 1751.5 644.8 1761.5Q645.5 1771.6 646.0 1784.7Q646.5 1797.8 647.3 1811.9Q648.1 1826.0 648.6 1835.0L649.1 1844.1Q650.5 1826.0 651.3 1811.9Q652.1 1797.8 653.1 1784.7Q654.1 1771.6 655.8 1759.5Q657.5 1747.5 660.0 1737.4Q662.6 1727.3 666.1 1719.2Q669.6 1711.2 673.7 1706.2Q677.7 1701.1 682.2 1699.1Q686.7 1697.1 690.8 1698.1Q694.8 1699.1 698.8 1704.2Q702.9 1709.2 705.9 1716.2Q708.9 1723.3 710.9 1732.3Q712.9 1741.4 714.1 1753.5Q715.3 1765.6 716.0 1779.7Q716.6 1793.8 717.0 1807.9Q717.4 1822.0 717.7 1834.0L718.0 1846.1Q719.0 1822.0 719.7 1807.9Q720.4 1793.8 721.5 1779.7Q722.6 1765.6 724.3 1752.5Q726.0 1739.4 728.5 1730.3Q731.1 1721.3 734.6 1715.2Q738.1 1709.2 742.7 1706.2Q747.2 1703.1 754.2 1701.6Q761.3 1700.1 767.3 1698.6Q773.4 1697.1 779.4 1698.1Q785.4 1699.1 791.5 1700.6Q797.5 1702.1 803.5 1703.7Q809.6 1705.2 814.7 1708.2Q819.7 1711.2 823.7 1714.2Q827.7 1717.2 830.8 1719.8Q833.8 1722.3 837.8 1722.8Q841.8 1723.3 846.8 1723.1Q851.9 1722.9 857.0 1724.1Q862.0 1725.3 866.0 1729.3Q870.0 1733.4 873.0 1739.4Q876.1 1745.4 878.1 1753.5Q880.1 1761.6 881.1 1771.7Q882.1 1781.7 882.9 1792.8L883.7 1803.8Q885.1 1787.7 885.8 1774.7Q886.5 1761.6 887.9 1750.5Q889.2 1739.4 891.7 1730.3Q894.2 1721.3 898.2 1714.2Q902.3 1707.2 907.3 1702.2Q912.3 1697.1 917.3 1694.6L922.4 1692.1L924.3 1706.0Q925.8 1692.0 926.1 1666.0Q926.5 1640.0 927.0 1620.0Q927.5 1600.0 927.8 1580.0Q928.0 1560.0 928.1 1512.0Q928.3 1464.0 928.9 1461.8L929.5 1459.5Q931.2 1466.0 932.0 1483.0Q932.8 1500.0 933.5 1525.0Q934.2 1550.0 934.8 1564.0L935.3 1578.0Q936.5 1545.0 937.1 1526.5Q937.8 1508.0 939.0 1496.5Q940.3 1484.9 945.3 1476.8Q950.4 1468.8 955.4 1457.7Q960.4 1446.6 964.5 1439.5Q968.5 1432.5 973.0 1429.5L977.5 1426.5Q984.6 1434.5 986.6 1445.6Q988.6 1456.7 989.8 1473.8Q991.0 1490.9 991.8 1506.0Q992.6 1521.1 993.4 1533.2L994.1 1545.3Q995.7 1521.1 996.5 1506.0Q997.3 1490.9 998.2 1473.8Q999.1 1456.7 1000.4 1448.7Q1001.7 1440.6 1003.7 1439.0L1005.7 1437.5Q1009.8 1444.6 1011.3 1454.7Q1012.8 1464.7 1013.6 1482.8Q1014.4 1501.0 1015.1 1525.2L1015.8 1549.3Q1017.8 1501.0 1018.5 1482.8Q1019.2 1464.7 1020.0 1452.7Q1020.8 1440.6 1022.3 1436.5L1023.9 1432.5Q1027.9 1440.6 1029.9 1452.7Q1031.9 1464.7 1033.2 1482.8Q1034.5 1501.0 1035.5 1521.2Q1036.6 1541.3 1037.1 1553.3L1037.6 1565.4Q1039.0 1541.3 1039.8 1521.2Q1040.6 1501.0 1041.8 1482.8Q1043.0 1464.7 1045.0 1452.7Q1047.0 1440.6 1050.0 1432.5Q1053.1 1424.5 1057.1 1421.5Q1061.1 1418.4 1065.2 1417.9Q1069.2 1417.4 1073.2 1419.9Q1077.2 1422.4 1079.8 1429.5Q1082.3 1436.5 1083.8 1448.6Q1085.3 1460.7 1086.5 1472.8Q1087.7 1484.9 1088.5 1491.0L1089.3 1497.0Q1091.3 1484.9 1092.3 1472.8Q1093.4 1460.7 1094.9 1451.7Q1096.4 1442.6 1098.4 1440.0L1100.4 1437.5Q1104.4 1444.6 1106.0 1454.7Q1107.5 1464.7 1108.5 1482.8Q1109.5 1501.0 1110.3 1525.2L1111.1 1549.3Q1112.5 1501.0 1113.5 1482.8Q1114.5 1464.7 1116.0 1454.7Q1117.5 1444.6 1119.5 1442.6L1121.6 1440.6Q1125.6 1446.6 1127.4 1455.7Q1129.2 1464.7 1130.4 1480.8Q1131.6 1497.0 1132.6 1505.0L1133.6 1513.1Q1135.6 1497.0 1136.7 1482.9Q1137.7 1468.8 1139.2 1456.7Q1140.7 1444.6 1142.7 1438.5Q1144.7 1432.5 1147.2 1430.5Q1149.7 1428.5 1152.8 1430.0Q1155.8 1431.5 1158.8 1436.0Q1161.8 1440.6 1164.8 1446.6Q1167.9 1452.6 1170.9 1460.7Q1173.9 1468.8 1177.0 1478.8Q1180.0 1488.9 1183.0 1499.0Q1186.0 1509.0 1188.5 1520.1Q1191.0 1531.2 1193.0 1543.3Q1195.1 1555.4 1196.6 1568.5Q1198.1 1581.6 1198.6 1601.1Q1199.1 1620.6 1200.1 1640.7Q1201.1 1660.8 1201.8 1680.9Q1202.6 1701.1 1203.2 1716.2Q1203.8 1731.3 1204.5 1746.4Q1205.2 1761.6 1206.2 1776.7Q1207.2 1791.8 1207.9 1804.8Q1208.6 1817.9 1209.4 1825.0L1210.2 1832.0Q1211.8 1817.9 1212.5 1804.8Q1213.2 1791.8 1213.9 1776.7Q1214.6 1761.6 1215.7 1749.5Q1216.7 1737.4 1218.5 1730.3Q1220.3 1723.3 1222.8 1720.2Q1225.3 1717.2 1227.8 1716.2Q1230.4 1715.2 1233.4 1717.2Q1236.4 1719.3 1238.4 1724.3Q1240.4 1729.3 1241.9 1737.3Q1243.4 1745.4 1244.5 1755.5Q1245.5 1765.6 1246.5 1773.7Q1247.5 1781.7 1248.2 1785.2L1248.9 1788.7Q1250.5 1779.7 1251.5 1769.6Q1252.5 1759.5 1254.0 1746.5Q1255.5 1733.4 1257.5 1724.3Q1259.6 1715.2 1262.6 1708.2Q1265.6 1701.1 1269.7 1696.6Q1273.7 1692.1 1278.2 1690.0Q1282.7 1688.0 1287.2 1688.5Q1291.8 1689.0 1296.3 1691.5Q1300.8 1694.1 1304.8 1698.6Q1308.9 1703.1 1311.9 1709.2Q1314.9 1715.2 1317.0 1723.2Q1319.0 1731.3 1320.0 1741.4Q1321.0 1751.5 1321.8 1762.5Q1322.6 1773.6 1323.3 1779.7L1324.0 1785.7Q1326.0 1771.6 1327.0 1760.5Q1328.0 1749.5 1329.5 1740.4Q1331.1 1731.3 1333.6 1723.2Q1336.1 1715.2 1339.6 1709.2Q1343.1 1703.1 1347.2 1699.6Q1351.2 1696.1 1355.8 1694.6Q1360.3 1693.1 1364.8 1693.9Q1369.3 1694.7 1373.8 1697.4Q1378.4 1700.1 1382.4 1704.7Q1386.4 1709.2 1390.0 1715.2Q1393.5 1721.3 1396.0 1729.3Q1398.5 1737.4 1400.0 1747.5Q1401.6 1757.5 1402.4 1768.6Q1403.2 1779.7 1403.9 1785.8L1404.6 1791.8Q1406.0 1777.7 1407.0 1766.6Q1408.0 1755.5 1409.3 1746.5Q1410.6 1737.4 1413.1 1730.3Q1415.6 1723.3 1419.2 1719.2Q1422.7 1715.2 1427.2 1713.7Q1431.8 1712.2 1435.8 1712.7Q1439.8 1713.2 1443.3 1716.2Q1446.9 1719.3 1449.4 1725.3Q1451.9 1731.3 1453.4 1741.4Q1454.9 1751.5 1455.9 1764.6Q1456.9 1777.7 1457.6 1789.8Q1458.3 1801.8 1458.8 1806.8L1459.4 1811.9Q1460.6 1797.8 1461.3 1784.7Q1462.0 1771.6 1463.0 1758.5Q1464.0 1745.4 1466.0 1735.3Q1468.0 1725.3 1471.0 1718.2Q1474.1 1711.2 1478.1 1705.2Q1482.1 1699.1 1486.2 1694.6Q1490.2 1690.1 1494.7 1688.0Q1499.2 1686.0 1503.8 1686.5Q1508.3 1687.0 1512.3 1689.5Q1516.4 1692.1 1520.4 1696.6Q1524.4 1701.1 1528.0 1708.2Q1531.5 1715.2 1533.8 1724.3Q1536.1 1733.4 1537.3 1745.5Q1538.5 1757.5 1539.3 1768.6Q1540.1 1779.7 1540.5 1783.2L1540.9 1786.7Q1542.1 1773.6 1543.1 1761.5Q1544.1 1749.5 1545.8 1739.4Q1547.6 1729.3 1550.6 1722.2Q1553.6 1715.2 1558.2 1712.2Q1562.7 1709.2 1567.7 1708.4Q1572.7 1707.6 1576.4 1708.6Q1580.1 1709.6 1584.2 1712.4Q1588.2 1715.2 1591.2 1720.2Q1594.2 1725.3 1596.2 1732.3Q1598.3 1739.4 1599.6 1748.5Q1600.9 1757.5 1601.8 1767.6Q1602.7 1777.7 1603.3 1784.8L1603.9 1791.8Q1605.5 1777.7 1606.4 1767.6Q1607.3 1757.5 1608.8 1747.5Q1610.4 1737.4 1612.9 1728.3Q1615.4 1719.3 1618.9 1712.2Q1622.4 1705.2 1626.5 1701.2Q1630.5 1697.1 1635.0 1695.6Q1639.6 1694.1 1644.1 1695.6Q1648.6 1697.1 1652.2 1701.2Q1655.7 1705.2 1658.7 1711.2Q1661.7 1717.2 1663.7 1725.3Q1665.7 1733.4 1667.1 1743.5Q1668.4 1753.5 1669.4 1762.5Q1670.4 1771.6 1670.9 1775.2L1671.4 1778.7Q1672.8 1767.6 1673.6 1758.5Q1674.4 1749.5 1675.6 1740.4Q1676.8 1731.3 1679.3 1723.2Q1681.9 1715.2 1685.4 1709.2Q1688.9 1703.1 1693.0 1698.6Q1697.0 1694.1 1702.0 1691.0Q1707.0 1688.0 1712.5 1686.5Q1718.1 1685.0 1723.7 1685.2Q1729.2 1685.4 1734.2 1686.7Q1739.3 1688.0 1744.3 1691.0Q1749.3 1694.1 1753.8 1698.6Q1758.4 1703.1 1761.9 1709.2Q1765.4 1715.2 1768.0 1723.2Q1770.5 1731.3 1772.0 1741.4Q1773.5 1751.5 1774.5 1763.5Q1775.5 1775.6 1776.0 1787.7Q1776.5 1799.8 1776.8 1804.8L1777.1 1809.9Q1778.1 1795.8 1778.8 1783.7Q1779.5 1771.6 1780.5 1760.5Q1781.6 1749.5 1783.1 1740.4Q1784.6 1731.3 1787.1 1725.3Q1789.6 1719.3 1793.7 1715.8Q1797.7 1712.2 1802.7 1710.9Q1807.7 1709.6 1813.8 1709.4Q1819.8 1709.2 1824.8 1710.2Q1829.9 1711.2 1833.9 1714.2Q1837.9 1717.2 1840.5 1722.2Q1843.0 1727.3 1844.5 1735.3Q1846.0 1743.4 1847.0 1754.5Q1848.0 1765.6 1848.6 1776.7Q1849.2 1787.7 1849.6 1793.8L1850.0 1799.8Q1851.2 1785.7 1851.9 1773.7Q1852.6 1761.6 1853.7 1749.5Q1854.7 1737.4 1856.4 1727.3Q1858.1 1717.2 1861.1 1709.2Q1864.1 1701.1 1868.2 1695.6Q1872.2 1690.1 1876.7 1687.3Q1881.2 1684.6 1885.8 1684.3Q1890.3 1684.0 1894.8 1686.0Q1899.4 1688.0 1902.9 1692.5Q1906.4 1697.1 1909.0 1704.2Q1911.5 1711.2 1913.2 1721.2Q1914.9 1731.3 1915.9 1743.4Q1916.9 1755.5 1917.5 1768.6Q1918.1 1781.7 1918.5 1790.2L1918.9 1798.8Q1920.1 1781.7 1920.8 1768.6Q1921.5 1755.5 1922.8 1743.4Q1924.1 1731.3 1926.2 1721.2Q1928.2 1711.2 1931.4 1703.2Q1934.6 1695.1 1938.7 1689.0Q1942.7 1683.0 1947.7 1679.0Q1952.7 1674.9 1954.5 1673.6Q1956.3 1672.2 1961.4 1671.1Q1966.5 1669.9 1971.6 1670.2Q1976.7 1670.5 1981.8 1672.6Q1987.0 1674.7 1991.2 1678.1Q1995.5 1681.5 1999.3 1686.7Q2003.2 1691.8 2006.2 1698.6Q2009.1 1705.4 2011.0 1714.0Q2012.9 1722.5 2014.0 1733.5Q2015.1 1744.6 2015.9 1757.4Q2016.8 1770.2 2017.4 1783.0Q2018.0 1795.8 2018.3 1801.3L2018.7 1806.9Q2019.7 1792.4 2020.4 1779.6Q2021.1 1766.8 2021.9 1754.0Q2022.8 1741.2 2024.0 1730.2Q2025.3 1719.1 2027.4 1710.5Q2029.6 1702.0 2033.0 1695.2Q2036.4 1688.4 2040.7 1684.1Q2045.0 1679.8 2050.1 1678.1Q2055.2 1676.4 2060.3 1676.2Q2065.4 1676.1 2070.5 1677.1Q2075.6 1678.1 2081.6 1679.7Q2087.6 1681.2 2097.8 1683.2L2097.8 1683.2" fill="none" stroke="#00B050" stroke-width="10" stroke-linecap="round" stroke-linejoin="round"/>
<line x1="201.0" x2="2098.0" y1="1504" y2="1504" stroke="#FF0000" stroke-width="8"/><circle cx="201.0" cy="1504" r="4" fill="#FF0000"/>
<line x1="1496.6" x2="1496.6" y1="1366.5" y2="1881.5" stroke="#00FF00" stroke-width="9" stroke-dasharray="30.6 30.55"/>
<line x1="929.8" x2="929.8" y1="1366.5" y2="1881.5" stroke="#00BFBF" stroke-width="9.5" stroke-dasharray="7.7 7.65"/>
<line x1="1184" x2="1184" y1="1366.5" y2="1881.5" stroke="#00BFBF" stroke-width="9.5" stroke-dasharray="7.7 7.65"/>
<text x="123.5" y="1397.5" font-size="50" fill="#262626" font-family="'Liberation Serif', serif" font-weight="bold">10<tspan x="174" y="1372.1" font-size="40">2</tspan></text>
<text x="109.3" y="1569.2" font-size="50" fill="#262626" font-family="'Liberation Serif', serif" font-weight="bold">10<tspan x="154" y="1543.8" font-size="40">−</tspan><tspan x="199" y="1543.8" font-size="40" text-anchor="end">1</tspan></text>
<text x="109.3" y="1740.8" font-size="50" fill="#262626" font-family="'Liberation Serif', serif" font-weight="bold">10<tspan x="154" y="1715.4" font-size="40">−</tspan><tspan x="199" y="1715.4" font-size="40" text-anchor="end">4</tspan></text>
<text x="109.3" y="1912.5" font-size="50" fill="#262626" font-family="'Liberation Serif', serif" font-weight="bold">10<tspan x="154" y="1887.1" font-size="40">−</tspan><tspan x="199" y="1887.1" font-size="40" text-anchor="end">7</tspan></text>
<text x="183.7" y="1952.1" font-size="50" fill="#262626" font-family="'Liberation Serif', serif" font-weight="bold">0.1</text>
<text x="410.4" y="1952.1" font-size="50" fill="#262626" font-family="'Liberation Serif', serif" font-weight="bold">0.15</text>
<text x="657.5" y="1952.1" font-size="50" fill="#262626" font-family="'Liberation Serif', serif" font-weight="bold">0.2</text>
<text x="884.1" y="1952.1" font-size="50" fill="#262626" font-family="'Liberation Serif', serif" font-weight="bold">0.25</text>
<text x="1131.2" y="1952.1" font-size="50" fill="#262626" font-family="'Liberation Serif', serif" font-weight="bold">0.3</text>
<text x="1357.9" y="1952.1" font-size="50" fill="#262626" font-family="'Liberation Serif', serif" font-weight="bold">0.35</text>
<text x="1605.0" y="1952.1" font-size="50" fill="#262626" font-family="'Liberation Serif', serif" font-weight="bold">0.4</text>
<text x="1831.6" y="1952.1" font-size="50" fill="#262626" font-family="'Liberation Serif', serif" font-weight="bold">0.45</text>
<text x="2078.7" y="1952.1" font-size="50" fill="#262626" font-family="'Liberation Serif', serif" font-weight="bold">0.5</text>
</g>
<text transform="translate(74.7 352.3) rotate(-90)" font-size="55" fill="#262626" text-anchor="middle" letter-spacing="-2" font-family="'Liberation Serif', serif" font-weight="bold">TVE[%]</text>
<text transform="translate(74.7 987.5) rotate(-90)" font-size="55" fill="#262626" text-anchor="middle" letter-spacing="0" font-family="'Liberation Serif', serif" font-weight="bold">FE[Hz]</text>
<text transform="translate(74.7 1616) rotate(-90)" font-size="55" fill="#262626" text-anchor="middle" letter-spacing="1.4" font-family="'Liberation Serif', serif" font-weight="bold">RFE[Hz/s]</text>
<text x="1083" y="2012.8" font-size="55" fill="#262626" font-family="'Liberation Serif', serif" font-weight="bold">Time[s]</text>
<line x1="275" x2="312" y1="56" y2="56" stroke="#0072BD" stroke-width="8.6" stroke-linecap="round" stroke-dasharray="7 18.2"/>
<text x="332.5" y="70.3" font-size="50" fill="#000" font-family="'Liberation Serif', serif" font-weight="bold">hann-apDFT</text>
<path d="M628.8 56h31.9M667.3 56h10.9" stroke="#FF00FF" stroke-width="9.6"/>
<text x="708" y="70.3" font-size="50" fill="#000" font-family="'Liberation Serif', serif" font-weight="bold">triang-apDFT</text>
<line x1="1027.7" x2="1075" y1="56" y2="56" stroke="#00B050" stroke-width="9.4" stroke-linecap="round"/>
<text x="1105.5" y="70.3" font-size="50" fill="#000" font-family="'Liberation Serif', serif" font-weight="bold">e-apDFT</text>
<line x1="1323.6" x2="1371" y1="56" y2="56" stroke="#FF0000" stroke-width="9.6" stroke-linecap="round"/>
<text x="1399" y="70.3" font-size="50" fill="#000" font-family="'Liberation Serif', serif" font-weight="bold">lim<tspan x="1468.3" y="77.7" font-size="32">P</tspan></text>
<path d="M1523.6 56h18.7M1559.4 56h19.3" stroke="#50E03A" stroke-width="9" stroke-linecap="round"/>
<text x="1603" y="70.3" font-size="50" fill="#000" font-family="'Liberation Serif', serif" font-weight="bold">RT<tspan x="1672.6" y="77.7" font-size="32">P</tspan></text>
<path d="M1724 56h7.7M1748.3 56h7.4" stroke="#10A8F0" stroke-width="8.6" stroke-linecap="round"/>
<text x="1789.5" y="70.3" font-size="50" fill="#000" font-family="'Liberation Serif', serif" font-weight="bold">RT</text>
</svg></body></html>
